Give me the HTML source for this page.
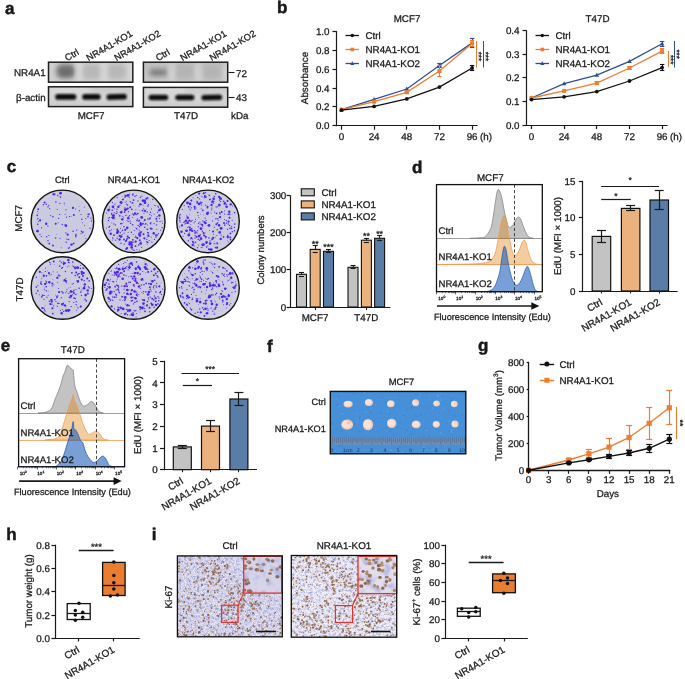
<!DOCTYPE html>
<html><head><meta charset="utf-8"><style>
html,body{margin:0;padding:0;background:#fff;}
text{stroke:#1a1a1a;stroke-width:0.28px;} text.c{stroke:none;} text.b{stroke:#111;stroke-width:0.45px;}
svg{display:block;will-change:transform;text-rendering:geometricPrecision;font-family:"Liberation Sans", sans-serif;}
</style></head><body>
<svg width="685" height="679" viewBox="0 0 685 679" fill="#1a1a1a">
<defs>
<filter id="bl1" x="-50%" y="-50%" width="200%" height="200%"><feGaussianBlur stdDeviation="0.9"/></filter>
<filter id="bl3" x="-50%" y="-50%" width="200%" height="200%"><feGaussianBlur stdDeviation="2.5"/></filter>
<filter id="bl05" x="-20%" y="-20%" width="140%" height="140%"><feGaussianBlur stdDeviation="0.45"/></filter>
</defs>
<rect width="685" height="679" fill="#fff"/>
<text x="5.0" y="14.0" font-size="17" font-weight="bold" class="b">a</text>
<linearGradient id="gbl" x1="0" y1="0" x2="0" y2="1"><stop offset="0" stop-color="#c9c9c9"/><stop offset="0.5" stop-color="#d6d6d6"/><stop offset="1" stop-color="#cbcbcb"/></linearGradient>
<clipPath id="cpa0"><rect x="48.5" y="62.2" width="84.3" height="20"/></clipPath>
<rect x="48.5" y="62.2" width="84.3" height="20" fill="#cfcfcf"/>
<g clip-path="url(#cpa0)"><rect x="56.8" y="64" width="18" height="14" rx="5" fill="#6a6a6a" filter="url(#bl3)" opacity="0.75"/><rect x="57.8" y="67" width="16" height="10" rx="4" fill="#555" filter="url(#bl3)" opacity="0.5"/><rect x="82.5" y="64" width="18" height="15" rx="5" fill="#a8a8a8" filter="url(#bl3)" opacity="0.6"/><rect x="107.6" y="64" width="18" height="15" rx="5" fill="#a8a8a8" filter="url(#bl3)" opacity="0.6"/><rect x="76.15" y="62" width="5" height="20" fill="#dedede" filter="url(#bl3)" opacity="0.7"/><rect x="101.55" y="62" width="5" height="20" fill="#dedede" filter="url(#bl3)" opacity="0.7"/><rect x="128.8" y="62" width="5" height="20" fill="#e0e0e0" filter="url(#bl3)" opacity="0.7"/></g>
<rect x="48.5" y="62.2" width="84.3" height="20" fill="none" stroke="#1e1e1e" stroke-width="1.5"/>
<clipPath id="cpb0"><rect x="48.5" y="86.8" width="84.3" height="19.8"/></clipPath>
<rect x="48.5" y="86.8" width="84.3" height="19.8" fill="url(#gbl)"/>
<g clip-path="url(#cpb0)"><rect x="48.5" y="86" width="42.15" height="8" fill="#e2e2e2" filter="url(#bl3)" opacity="0.6"/><rect x="55.2" y="94.1" width="21.099999999999994" height="5.6" rx="2.8" fill="#0c0c0c" filter="url(#bl1)" transform="rotate(0 65.75 96.8)"/><rect x="82.2" y="94.1" width="18.39999999999999" height="5.6" rx="2.8" fill="#0c0c0c" filter="url(#bl1)" transform="rotate(0 91.4 96.8)"/><rect x="106.5" y="94.1" width="20.400000000000006" height="5.6" rx="2.8" fill="#0c0c0c" filter="url(#bl1)" transform="rotate(-1.7999999999999998 116.7 96.8)"/></g>
<rect x="48.5" y="86.8" width="84.3" height="19.8" fill="none" stroke="#1e1e1e" stroke-width="1.5"/>
<text x="67.1" y="61.3" font-size="9.3" transform="rotate(-30 67.1 61.3)">Ctrl</text>
<text x="88.6" y="61.3" font-size="9.3" transform="rotate(-30 88.6 61.3)">NR4A1-KO1</text>
<text x="116.6" y="61.3" font-size="9.3" transform="rotate(-30 116.6 61.3)">NR4A1-KO2</text>
<clipPath id="cpa1"><rect x="143.4" y="62.2" width="84.3" height="20"/></clipPath>
<rect x="143.4" y="62.2" width="84.3" height="20" fill="#c4c4c4"/>
<g clip-path="url(#cpa1)"><rect x="143.4" y="62" width="84.3" height="6" fill="#b8b8b8" filter="url(#bl3)" opacity="0.6"/><rect x="149.4" y="69.5" width="18" height="6" rx="3" fill="#5a5a5a" filter="url(#bl3)" opacity="0.75"/><rect x="175.9" y="66" width="18" height="13" rx="5" fill="#a9a9a9" filter="url(#bl3)" opacity="0.6"/><rect x="202.8" y="66" width="18" height="13" rx="5" fill="#a9a9a9" filter="url(#bl3)" opacity="0.6"/><rect x="169.15" y="62" width="5" height="20" fill="#dedede" filter="url(#bl3)" opacity="0.7"/><rect x="195.85000000000002" y="62" width="5" height="20" fill="#dedede" filter="url(#bl3)" opacity="0.7"/><rect x="223.7" y="62" width="5" height="20" fill="#e0e0e0" filter="url(#bl3)" opacity="0.7"/></g>
<rect x="143.4" y="62.2" width="84.3" height="20" fill="none" stroke="#1e1e1e" stroke-width="1.5"/>
<clipPath id="cpb1"><rect x="143.4" y="87.4" width="84.3" height="19.8"/></clipPath>
<rect x="143.4" y="87.4" width="84.3" height="19.8" fill="url(#gbl)"/>
<g clip-path="url(#cpb1)"><rect x="143.4" y="86" width="42.15" height="8" fill="#e2e2e2" filter="url(#bl3)" opacity="0.6"/><rect x="148.6" y="94.7" width="19.599999999999994" height="5.6" rx="2.8" fill="#0c0c0c" filter="url(#bl1)" transform="rotate(0 158.39999999999998 97.4)"/><rect x="175.3" y="94.7" width="19.099999999999994" height="5.6" rx="2.8" fill="#0c0c0c" filter="url(#bl1)" transform="rotate(0 184.85000000000002 97.4)"/><rect x="201.4" y="94.7" width="20.799999999999983" height="5.6" rx="2.8" fill="#0c0c0c" filter="url(#bl1)" transform="rotate(-1.2000000000000002 211.8 97.4)"/></g>
<rect x="143.4" y="87.4" width="84.3" height="19.8" fill="none" stroke="#1e1e1e" stroke-width="1.5"/>
<text x="158.0" y="61.3" font-size="9.3" transform="rotate(-30 158 61.3)">Ctrl</text>
<text x="182.6" y="61.3" font-size="9.3" transform="rotate(-30 182.6 61.3)">NR4A1-KO1</text>
<text x="211.8" y="61.3" font-size="9.3" transform="rotate(-30 211.8 61.3)">NR4A1-KO2</text>
<text x="14.0" y="76.0" font-size="9.8">NR4A1</text>
<text x="16.0" y="100.5" font-size="9.8">β-actin</text>
<text x="91.0" y="119.0" font-size="9.8" text-anchor="middle">MCF7</text>
<text x="186.0" y="119.0" font-size="9.8" text-anchor="middle">T47D</text>
<text x="231.0" y="119.0" font-size="9.8">kDa</text>
<line x1="228.5" y1="72.5" x2="234.5" y2="72.5" stroke="#1a1a1a" stroke-width="1.1"/>
<line x1="228.5" y1="97.5" x2="234.5" y2="97.5" stroke="#1a1a1a" stroke-width="1.1"/>
<text x="236.0" y="76.5" font-size="9.8">72</text>
<text x="236.0" y="101.0" font-size="9.8">43</text>
<text x="277.0" y="13.0" font-size="17" font-weight="bold" class="b">b</text>
<line x1="336.5" y1="31.1" x2="336.5" y2="126.3" stroke="#1a1a1a" stroke-width="1.2"/>
<line x1="335.9" y1="125.5" x2="477.6" y2="125.5" stroke="#1a1a1a" stroke-width="1.2"/>
<line x1="332.5" y1="125.5" x2="336.5" y2="125.5" stroke="#1a1a1a" stroke-width="1.2"/>
<text x="329.5" y="129.2" font-size="9.8" text-anchor="end">0.0</text>
<line x1="332.5" y1="106.5" x2="336.5" y2="106.5" stroke="#1a1a1a" stroke-width="1.2"/>
<text x="329.5" y="110.4" font-size="9.8" text-anchor="end">0.2</text>
<line x1="332.5" y1="88.5" x2="336.5" y2="88.5" stroke="#1a1a1a" stroke-width="1.2"/>
<text x="329.5" y="91.6" font-size="9.8" text-anchor="end">0.4</text>
<line x1="332.5" y1="69.5" x2="336.5" y2="69.5" stroke="#1a1a1a" stroke-width="1.2"/>
<text x="329.5" y="72.7" font-size="9.8" text-anchor="end">0.6</text>
<line x1="332.5" y1="50.5" x2="336.5" y2="50.5" stroke="#1a1a1a" stroke-width="1.2"/>
<text x="329.5" y="53.9" font-size="9.8" text-anchor="end">0.8</text>
<line x1="332.5" y1="31.5" x2="336.5" y2="31.5" stroke="#1a1a1a" stroke-width="1.2"/>
<text x="329.5" y="35.1" font-size="9.8" text-anchor="end">1.0</text>
<line x1="341.5" y1="125.7" x2="341.5" y2="129.7" stroke="#1a1a1a" stroke-width="1.2"/>
<text x="341.5" y="140.2" font-size="9.8" text-anchor="middle">0</text>
<line x1="374.5" y1="125.7" x2="374.5" y2="129.7" stroke="#1a1a1a" stroke-width="1.2"/>
<text x="374.1" y="140.2" font-size="9.8" text-anchor="middle">24</text>
<line x1="406.5" y1="125.7" x2="406.5" y2="129.7" stroke="#1a1a1a" stroke-width="1.2"/>
<text x="406.8" y="140.2" font-size="9.8" text-anchor="middle">48</text>
<line x1="439.5" y1="125.7" x2="439.5" y2="129.7" stroke="#1a1a1a" stroke-width="1.2"/>
<text x="439.4" y="140.2" font-size="9.8" text-anchor="middle">72</text>
<line x1="472.5" y1="125.7" x2="472.5" y2="129.7" stroke="#1a1a1a" stroke-width="1.2"/>
<text x="472.1" y="140.2" font-size="9.8" text-anchor="middle">96</text>
<text x="480.1" y="140.2" font-size="9.8">(h)</text>
<text x="407.0" y="22.0" font-size="9.8" text-anchor="middle">MCF7</text>
<polyline points="341.5,109.7 374.1,99.4 406.8,89.0 439.4,65.5 472.1,42.9" fill="none" stroke="#2E4E9B" stroke-width="1.3"/>
<path d="M341.5,107.3 L343.8,111.3 L339.2,111.3Z" fill="#2E4E9B"/>
<path d="M374.1,97.0 L376.4,101.0 L371.8,101.0Z" fill="#2E4E9B"/>
<path d="M406.8,86.6 L409.1,90.6 L404.5,90.6Z" fill="#2E4E9B"/>
<line x1="439.5" y1="63.6" x2="439.5" y2="67.4" stroke="#2E4E9B" stroke-width="1.1"/>
<line x1="437.2" y1="63.5" x2="441.6" y2="63.5" stroke="#2E4E9B" stroke-width="1.1"/>
<line x1="437.2" y1="67.5" x2="441.6" y2="67.5" stroke="#2E4E9B" stroke-width="1.1"/>
<path d="M439.4,63.1 L441.8,67.1 L437.1,67.1Z" fill="#2E4E9B"/>
<line x1="472.5" y1="38.7" x2="472.5" y2="47.1" stroke="#2E4E9B" stroke-width="1.1"/>
<line x1="469.9" y1="38.5" x2="474.3" y2="38.5" stroke="#2E4E9B" stroke-width="1.1"/>
<line x1="469.9" y1="47.5" x2="474.3" y2="47.5" stroke="#2E4E9B" stroke-width="1.1"/>
<path d="M472.1,40.5 L474.4,44.5 L469.8,44.5Z" fill="#2E4E9B"/>
<polyline points="341.5,109.7 374.1,101.7 406.8,92.3 439.4,71.1 472.1,43.4" fill="none" stroke="#ED7D31" stroke-width="1.3"/>
<rect x="339.5" y="107.7" width="4.0" height="4.0" fill="#ED7D31" stroke="none" stroke-width="1"/>
<rect x="372.1" y="99.7" width="4.0" height="4.0" fill="#ED7D31" stroke="none" stroke-width="1"/>
<line x1="406.5" y1="91.4" x2="406.5" y2="93.2" stroke="#ED7D31" stroke-width="1.1"/>
<line x1="404.6" y1="91.5" x2="409.0" y2="91.5" stroke="#ED7D31" stroke-width="1.1"/>
<line x1="404.6" y1="93.5" x2="409.0" y2="93.5" stroke="#ED7D31" stroke-width="1.1"/>
<rect x="404.8" y="90.3" width="4.0" height="4.0" fill="#ED7D31" stroke="none" stroke-width="1"/>
<line x1="439.5" y1="65.5" x2="439.5" y2="76.8" stroke="#ED7D31" stroke-width="1.1"/>
<line x1="437.2" y1="65.5" x2="441.6" y2="65.5" stroke="#ED7D31" stroke-width="1.1"/>
<line x1="437.2" y1="76.5" x2="441.6" y2="76.5" stroke="#ED7D31" stroke-width="1.1"/>
<rect x="437.4" y="69.1" width="4.0" height="4.0" fill="#ED7D31" stroke="none" stroke-width="1"/>
<line x1="472.5" y1="40.5" x2="472.5" y2="46.2" stroke="#ED7D31" stroke-width="1.1"/>
<line x1="469.9" y1="40.5" x2="474.3" y2="40.5" stroke="#ED7D31" stroke-width="1.1"/>
<line x1="469.9" y1="46.5" x2="474.3" y2="46.5" stroke="#ED7D31" stroke-width="1.1"/>
<rect x="470.1" y="41.4" width="4.0" height="4.0" fill="#ED7D31" stroke="none" stroke-width="1"/>
<polyline points="341.5,110.2 374.1,106.4 406.8,98.9 439.4,87.1 472.1,68.0" fill="none" stroke="#111" stroke-width="1.3"/>
<circle cx="341.5" cy="110.2" r="1.90" fill="#111"/>
<circle cx="374.1" cy="106.4" r="1.90" fill="#111"/>
<circle cx="406.8" cy="98.9" r="1.90" fill="#111"/>
<circle cx="439.4" cy="87.1" r="1.90" fill="#111"/>
<line x1="472.5" y1="65.7" x2="472.5" y2="70.4" stroke="#111" stroke-width="1.1"/>
<line x1="469.9" y1="65.5" x2="474.3" y2="65.5" stroke="#111" stroke-width="1.1"/>
<line x1="469.9" y1="70.5" x2="474.3" y2="70.5" stroke="#111" stroke-width="1.1"/>
<circle cx="472.1" cy="68.0" r="1.90" fill="#111"/>
<line x1="345.5" y1="35.5" x2="359.0" y2="35.5" stroke="#111" stroke-width="1.3"/>
<circle cx="352.3" cy="35.5" r="1.71" fill="#111"/>
<text x="365.5" y="39.1" font-size="9.8">Ctrl</text>
<line x1="345.5" y1="49.5" x2="359.0" y2="49.5" stroke="#ED7D31" stroke-width="1.3"/>
<rect x="350.5" y="47.7" width="3.6" height="3.6" fill="#ED7D31" stroke="none" stroke-width="1"/>
<text x="365.5" y="53.1" font-size="9.8">NR4A1-KO1</text>
<line x1="345.5" y1="63.5" x2="359.0" y2="63.5" stroke="#2E4E9B" stroke-width="1.3"/>
<path d="M352.3,61.3 L354.4,64.9 L350.2,64.9Z" fill="#2E4E9B"/>
<text x="365.5" y="67.1" font-size="9.8">NR4A1-KO2</text>
<line x1="476.5" y1="41.0" x2="476.5" y2="67.6" stroke="#ED7D31" stroke-width="1"/>
<text x="476.0" y="56.4" font-size="8" text-anchor="middle" transform="rotate(90 476.0 56.4)">***</text>
<line x1="483.5" y1="41.0" x2="483.5" y2="67.6" stroke="#2E4E9B" stroke-width="1"/>
<text x="483.1" y="56.4" font-size="8" text-anchor="middle" transform="rotate(90 483.09999999999997 56.4)">***</text>
<line x1="526.5" y1="30.3" x2="526.5" y2="125.7" stroke="#1a1a1a" stroke-width="1.2"/>
<line x1="525.9" y1="125.5" x2="667.6" y2="125.5" stroke="#1a1a1a" stroke-width="1.2"/>
<line x1="522.5" y1="125.5" x2="526.5" y2="125.5" stroke="#1a1a1a" stroke-width="1.2"/>
<text x="519.5" y="128.6" font-size="9.8" text-anchor="end">0.0</text>
<line x1="522.5" y1="101.5" x2="526.5" y2="101.5" stroke="#1a1a1a" stroke-width="1.2"/>
<text x="519.5" y="105.0" font-size="9.8" text-anchor="end">0.1</text>
<line x1="522.5" y1="77.5" x2="526.5" y2="77.5" stroke="#1a1a1a" stroke-width="1.2"/>
<text x="519.5" y="81.4" font-size="9.8" text-anchor="end">0.2</text>
<line x1="522.5" y1="54.5" x2="526.5" y2="54.5" stroke="#1a1a1a" stroke-width="1.2"/>
<text x="519.5" y="57.9" font-size="9.8" text-anchor="end">0.3</text>
<line x1="522.5" y1="30.5" x2="526.5" y2="30.5" stroke="#1a1a1a" stroke-width="1.2"/>
<text x="519.5" y="34.3" font-size="9.8" text-anchor="end">0.4</text>
<line x1="531.5" y1="125.1" x2="531.5" y2="129.1" stroke="#1a1a1a" stroke-width="1.2"/>
<text x="531.5" y="139.6" font-size="9.8" text-anchor="middle">0</text>
<line x1="564.5" y1="125.1" x2="564.5" y2="129.1" stroke="#1a1a1a" stroke-width="1.2"/>
<text x="564.1" y="139.6" font-size="9.8" text-anchor="middle">24</text>
<line x1="596.5" y1="125.1" x2="596.5" y2="129.1" stroke="#1a1a1a" stroke-width="1.2"/>
<text x="596.8" y="139.6" font-size="9.8" text-anchor="middle">48</text>
<line x1="629.5" y1="125.1" x2="629.5" y2="129.1" stroke="#1a1a1a" stroke-width="1.2"/>
<text x="629.5" y="139.6" font-size="9.8" text-anchor="middle">72</text>
<line x1="662.5" y1="125.1" x2="662.5" y2="129.1" stroke="#1a1a1a" stroke-width="1.2"/>
<text x="662.1" y="139.6" font-size="9.8" text-anchor="middle">96</text>
<text x="670.1" y="139.6" font-size="9.8">(h)</text>
<text x="597.5" y="22.0" font-size="9.8" text-anchor="middle">T47D</text>
<polyline points="531.5,98.0 564.1,83.6 596.8,75.1 629.5,61.4 662.1,43.8" fill="none" stroke="#2E4E9B" stroke-width="1.3"/>
<path d="M531.5,95.6 L533.8,99.6 L529.2,99.6Z" fill="#2E4E9B"/>
<path d="M564.1,81.2 L566.4,85.2 L561.9,85.2Z" fill="#2E4E9B"/>
<path d="M596.8,72.7 L599.1,76.7 L594.5,76.7Z" fill="#2E4E9B"/>
<path d="M629.5,59.0 L631.8,63.0 L627.2,63.0Z" fill="#2E4E9B"/>
<line x1="662.5" y1="41.2" x2="662.5" y2="46.4" stroke="#2E4E9B" stroke-width="1.1"/>
<line x1="659.9" y1="41.5" x2="664.3" y2="41.5" stroke="#2E4E9B" stroke-width="1.1"/>
<line x1="659.9" y1="46.5" x2="664.3" y2="46.5" stroke="#2E4E9B" stroke-width="1.1"/>
<path d="M662.1,41.4 L664.4,45.4 L659.8,45.4Z" fill="#2E4E9B"/>
<polyline points="531.5,98.0 564.1,90.9 596.8,83.1 629.5,68.0 662.1,51.1" fill="none" stroke="#ED7D31" stroke-width="1.3"/>
<rect x="529.5" y="96.0" width="4.0" height="4.0" fill="#ED7D31" stroke="none" stroke-width="1"/>
<rect x="562.1" y="88.9" width="4.0" height="4.0" fill="#ED7D31" stroke="none" stroke-width="1"/>
<line x1="596.5" y1="81.5" x2="596.5" y2="84.8" stroke="#ED7D31" stroke-width="1.1"/>
<line x1="594.6" y1="81.5" x2="599.0" y2="81.5" stroke="#ED7D31" stroke-width="1.1"/>
<line x1="594.6" y1="84.5" x2="599.0" y2="84.5" stroke="#ED7D31" stroke-width="1.1"/>
<rect x="594.8" y="81.1" width="4.0" height="4.0" fill="#ED7D31" stroke="none" stroke-width="1"/>
<line x1="629.5" y1="66.2" x2="629.5" y2="69.9" stroke="#ED7D31" stroke-width="1.1"/>
<line x1="627.2" y1="66.5" x2="631.7" y2="66.5" stroke="#ED7D31" stroke-width="1.1"/>
<line x1="627.2" y1="69.5" x2="631.7" y2="69.5" stroke="#ED7D31" stroke-width="1.1"/>
<rect x="627.5" y="66.0" width="4.0" height="4.0" fill="#ED7D31" stroke="none" stroke-width="1"/>
<line x1="662.5" y1="48.7" x2="662.5" y2="53.4" stroke="#ED7D31" stroke-width="1.1"/>
<line x1="659.9" y1="48.5" x2="664.3" y2="48.5" stroke="#ED7D31" stroke-width="1.1"/>
<line x1="659.9" y1="53.5" x2="664.3" y2="53.5" stroke="#ED7D31" stroke-width="1.1"/>
<rect x="660.1" y="49.1" width="4.0" height="4.0" fill="#ED7D31" stroke="none" stroke-width="1"/>
<polyline points="531.5,99.6 564.1,96.8 596.8,91.6 629.5,81.0 662.1,67.6" fill="none" stroke="#111" stroke-width="1.3"/>
<circle cx="531.5" cy="99.6" r="1.90" fill="#111"/>
<circle cx="564.1" cy="96.8" r="1.90" fill="#111"/>
<circle cx="596.8" cy="91.6" r="1.90" fill="#111"/>
<circle cx="629.5" cy="81.0" r="1.90" fill="#111"/>
<line x1="662.5" y1="64.7" x2="662.5" y2="70.4" stroke="#111" stroke-width="1.1"/>
<line x1="659.9" y1="64.5" x2="664.3" y2="64.5" stroke="#111" stroke-width="1.1"/>
<line x1="659.9" y1="70.5" x2="664.3" y2="70.5" stroke="#111" stroke-width="1.1"/>
<circle cx="662.1" cy="67.6" r="1.90" fill="#111"/>
<line x1="535.5" y1="35.5" x2="549.0" y2="35.5" stroke="#111" stroke-width="1.3"/>
<circle cx="542.3" cy="35.5" r="1.71" fill="#111"/>
<text x="555.5" y="39.1" font-size="9.8">Ctrl</text>
<line x1="535.5" y1="49.5" x2="549.0" y2="49.5" stroke="#ED7D31" stroke-width="1.3"/>
<rect x="540.5" y="47.7" width="3.6" height="3.6" fill="#ED7D31" stroke="none" stroke-width="1"/>
<text x="555.5" y="53.1" font-size="9.8">NR4A1-KO1</text>
<line x1="535.5" y1="63.5" x2="549.0" y2="63.5" stroke="#2E4E9B" stroke-width="1.3"/>
<path d="M542.3,61.3 L544.4,64.9 L540.2,64.9Z" fill="#2E4E9B"/>
<text x="555.5" y="67.1" font-size="9.8">NR4A1-KO2</text>
<line x1="668.5" y1="51.0" x2="668.5" y2="67.2" stroke="#ED7D31" stroke-width="1"/>
<text x="667.8" y="59.6" font-size="8" text-anchor="middle" transform="rotate(90 667.8 59.6)">***</text>
<line x1="674.5" y1="41.0" x2="674.5" y2="67.6" stroke="#2E4E9B" stroke-width="1"/>
<text x="673.9" y="54.1" font-size="8" text-anchor="middle" transform="rotate(90 673.9 54.1)">***</text>
<text x="308.0" y="78.0" font-size="9.8" text-anchor="middle" transform="rotate(-90 308 78)">Absorbance</text>
<text x="6.7" y="172.4" font-size="17" font-weight="bold" class="b">c</text>
<text x="62.4" y="183.0" font-size="9.4" text-anchor="middle">Ctrl</text>
<text x="133.9" y="183.0" font-size="9.4" text-anchor="middle">NR4A1-KO1</text>
<text x="208.3" y="183.0" font-size="9.4" text-anchor="middle">NR4A1-KO2</text>
<text x="22.5" y="218.3" font-size="9.8" text-anchor="middle" transform="rotate(-90 22.5 218.3)">MCF7</text>
<text x="22.8" y="289.5" font-size="9.8" text-anchor="middle" transform="rotate(-90 22.8 289.5)">T47D</text>
<circle cx="62.4" cy="221.4" r="31.3" fill="#cbcbe0" stroke="#151515" stroke-width="1.4"/>
<circle cx="62.4" cy="221.4" r="28.3" fill="none" stroke="#d4d4e8" stroke-width="2.5" opacity="0.5"/>
<g fill="#5022f2"><circle cx="41.6" cy="227.8" r="0.6"/><circle cx="40.1" cy="220.3" r="1.1"/><circle cx="44.6" cy="202.5" r="1.0"/><circle cx="84.4" cy="235.5" r="0.4"/><circle cx="90.8" cy="218.2" r="0.6"/><circle cx="64.4" cy="224.4" r="0.4"/><circle cx="67.7" cy="234.7" r="1.1"/><circle cx="37.5" cy="231.1" r="0.7"/><circle cx="38.7" cy="221.4" r="0.5"/><circle cx="91.4" cy="221.0" r="0.7"/><circle cx="56.8" cy="234.2" r="0.4"/><circle cx="64.3" cy="203.1" r="0.6"/><circle cx="88.3" cy="214.4" r="0.9"/><circle cx="79.3" cy="210.7" r="0.6"/><circle cx="83.1" cy="231.6" r="0.5"/><circle cx="76.7" cy="230.1" r="0.7"/><circle cx="73.1" cy="231.2" r="0.8"/><circle cx="66.0" cy="209.7" r="0.6"/><circle cx="71.5" cy="244.6" r="1.2"/><circle cx="76.4" cy="234.0" r="0.5"/><circle cx="88.0" cy="216.7" r="0.8"/><circle cx="66.9" cy="239.1" r="0.7"/><circle cx="85.8" cy="238.5" r="0.5"/><circle cx="64.8" cy="204.9" r="0.4"/><circle cx="81.1" cy="233.3" r="0.6"/><circle cx="48.8" cy="235.5" r="0.6"/><circle cx="38.2" cy="209.2" r="0.9"/><circle cx="84.5" cy="207.1" r="0.5"/><circle cx="60.5" cy="193.2" r="1.4"/><circle cx="79.1" cy="206.2" r="0.4"/><circle cx="90.1" cy="228.3" r="0.7"/><circle cx="61.2" cy="247.8" r="0.5"/><circle cx="73.6" cy="243.4" r="0.9"/><circle cx="37.4" cy="211.6" r="0.5"/><circle cx="73.8" cy="214.9" r="1.0"/><circle cx="55.7" cy="223.8" r="1.0"/><circle cx="52.9" cy="216.8" r="0.8"/><circle cx="85.8" cy="218.5" r="0.6"/><circle cx="65.9" cy="225.6" r="1.3"/><circle cx="53.7" cy="194.2" r="1.2"/><circle cx="37.7" cy="224.2" r="0.8"/><circle cx="81.5" cy="231.2" r="0.8"/><circle cx="60.4" cy="197.1" r="0.8"/><circle cx="48.0" cy="240.7" r="0.7"/><circle cx="40.0" cy="234.3" r="0.6"/><circle cx="49.7" cy="208.7" r="0.6"/><circle cx="82.8" cy="232.6" r="0.8"/><circle cx="59.9" cy="203.4" r="0.6"/><circle cx="37.6" cy="231.1" r="1.3"/><circle cx="84.6" cy="225.6" r="0.5"/><circle cx="55.9" cy="202.0" r="0.8"/><circle cx="62.3" cy="224.5" r="0.7"/><circle cx="65.9" cy="232.9" r="0.7"/><circle cx="36.7" cy="231.2" r="0.7"/><circle cx="68.5" cy="239.5" r="0.8"/><circle cx="75.6" cy="209.1" r="0.5"/><circle cx="75.8" cy="236.9" r="0.7"/><circle cx="55.6" cy="193.9" r="0.5"/><circle cx="47.9" cy="226.1" r="0.6"/><circle cx="48.0" cy="206.9" r="0.7"/><circle cx="81.8" cy="219.2" r="0.8"/><circle cx="66.5" cy="217.2" r="0.6"/><circle cx="53.0" cy="245.5" r="0.9"/><circle cx="58.0" cy="222.7" r="0.5"/><circle cx="66.4" cy="226.3" r="0.6"/><circle cx="46.3" cy="204.2" r="0.8"/><circle cx="57.2" cy="209.5" r="0.5"/><circle cx="82.4" cy="222.8" r="0.5"/><circle cx="60.0" cy="238.3" r="0.6"/><circle cx="43.4" cy="204.7" r="0.7"/><circle cx="69.5" cy="216.6" r="0.7"/><circle cx="75.8" cy="235.7" r="0.8"/><circle cx="46.7" cy="236.7" r="0.7"/><circle cx="81.0" cy="214.6" r="0.5"/><circle cx="57.8" cy="195.5" r="0.7"/><circle cx="68.7" cy="248.3" r="0.8"/><circle cx="37.2" cy="215.4" r="0.8"/><circle cx="73.0" cy="207.9" r="1.1"/><circle cx="38.2" cy="213.5" r="0.4"/><circle cx="65.1" cy="214.5" r="0.5"/><circle cx="49.3" cy="243.6" r="0.9"/><circle cx="37.8" cy="218.8" r="0.7"/><circle cx="81.6" cy="214.6" r="0.4"/><circle cx="66.2" cy="242.2" r="0.7"/><circle cx="48.9" cy="205.3" r="0.6"/><circle cx="55.6" cy="238.0" r="0.8"/><circle cx="69.4" cy="247.3" r="0.6"/><circle cx="50.7" cy="215.6" r="0.6"/><circle cx="58.6" cy="218.4" r="0.6"/><circle cx="41.3" cy="236.6" r="0.6"/><circle cx="59.7" cy="214.4" r="0.6"/><circle cx="89.3" cy="213.9" r="0.6"/><circle cx="75.8" cy="235.1" r="0.8"/><circle cx="46.2" cy="223.8" r="1.2"/><circle cx="71.7" cy="216.7" r="0.4"/></g>
<circle cx="133.7" cy="221.4" r="31.3" fill="#cbcbe0" stroke="#151515" stroke-width="1.4"/>
<circle cx="133.7" cy="221.4" r="28.3" fill="none" stroke="#d4d4e8" stroke-width="2.5" opacity="0.5"/>
<g fill="#5022f2"><circle cx="138.5" cy="234.4" r="0.5"/><circle cx="119.6" cy="239.5" r="1.2"/><circle cx="148.6" cy="235.9" r="0.9"/><circle cx="114.8" cy="217.8" r="0.6"/><circle cx="122.3" cy="219.3" r="1.2"/><circle cx="120.0" cy="205.2" r="0.6"/><circle cx="142.4" cy="210.4" r="0.7"/><circle cx="147.1" cy="212.0" r="0.8"/><circle cx="139.5" cy="249.9" r="0.5"/><circle cx="135.4" cy="246.1" r="0.9"/><circle cx="143.0" cy="205.0" r="0.5"/><circle cx="114.0" cy="235.2" r="0.9"/><circle cx="122.2" cy="196.1" r="0.4"/><circle cx="108.4" cy="220.5" r="0.7"/><circle cx="136.6" cy="228.6" r="0.8"/><circle cx="113.9" cy="214.7" r="0.5"/><circle cx="139.0" cy="233.4" r="0.8"/><circle cx="141.7" cy="217.4" r="1.4"/><circle cx="109.0" cy="227.4" r="0.6"/><circle cx="114.7" cy="219.6" r="0.4"/><circle cx="125.6" cy="195.9" r="1.1"/><circle cx="132.5" cy="202.9" r="0.9"/><circle cx="130.1" cy="221.1" r="0.7"/><circle cx="126.1" cy="195.5" r="0.6"/><circle cx="117.0" cy="209.3" r="0.7"/><circle cx="132.3" cy="249.1" r="0.7"/><circle cx="141.0" cy="204.4" r="0.8"/><circle cx="125.0" cy="197.4" r="0.6"/><circle cx="132.4" cy="213.8" r="0.6"/><circle cx="151.0" cy="222.6" r="0.6"/><circle cx="136.9" cy="249.5" r="0.5"/><circle cx="121.9" cy="202.9" r="0.6"/><circle cx="157.0" cy="221.4" r="0.7"/><circle cx="138.1" cy="220.9" r="0.7"/><circle cx="132.9" cy="239.8" r="0.9"/><circle cx="127.2" cy="227.8" r="1.3"/><circle cx="114.0" cy="215.0" r="0.6"/><circle cx="156.9" cy="220.7" r="0.4"/><circle cx="113.0" cy="206.8" r="1.4"/><circle cx="144.4" cy="238.3" r="1.1"/><circle cx="128.3" cy="216.9" r="0.6"/><circle cx="111.5" cy="217.6" r="0.5"/><circle cx="121.5" cy="203.4" r="0.7"/><circle cx="132.7" cy="224.7" r="0.8"/><circle cx="147.7" cy="242.4" r="0.8"/><circle cx="133.6" cy="214.9" r="0.8"/><circle cx="158.5" cy="233.7" r="0.6"/><circle cx="147.9" cy="219.0" r="0.8"/><circle cx="130.3" cy="201.8" r="0.7"/><circle cx="125.8" cy="215.4" r="0.6"/><circle cx="135.6" cy="227.8" r="0.4"/><circle cx="111.4" cy="229.8" r="0.5"/><circle cx="117.3" cy="212.1" r="0.6"/><circle cx="162.1" cy="221.0" r="0.5"/><circle cx="154.5" cy="239.4" r="0.6"/><circle cx="124.1" cy="233.1" r="0.6"/><circle cx="114.3" cy="208.8" r="0.5"/><circle cx="133.9" cy="250.2" r="0.8"/><circle cx="140.7" cy="223.2" r="1.1"/><circle cx="127.0" cy="214.9" r="0.4"/><circle cx="154.2" cy="233.8" r="0.7"/><circle cx="119.6" cy="235.8" r="1.0"/><circle cx="132.8" cy="194.8" r="0.9"/><circle cx="142.1" cy="200.0" r="0.5"/><circle cx="120.6" cy="228.2" r="0.5"/><circle cx="117.2" cy="197.6" r="0.6"/><circle cx="133.0" cy="193.5" r="0.5"/><circle cx="156.0" cy="237.0" r="0.8"/><circle cx="115.1" cy="213.4" r="0.5"/><circle cx="135.0" cy="213.5" r="1.2"/><circle cx="147.7" cy="229.3" r="0.7"/><circle cx="131.4" cy="232.2" r="0.7"/><circle cx="127.0" cy="228.8" r="0.6"/><circle cx="158.3" cy="207.6" r="0.6"/><circle cx="139.0" cy="206.2" r="0.6"/><circle cx="158.9" cy="210.4" r="1.0"/><circle cx="122.1" cy="234.5" r="0.6"/><circle cx="141.1" cy="242.0" r="0.6"/><circle cx="145.0" cy="202.7" r="1.3"/><circle cx="145.0" cy="210.9" r="1.1"/><circle cx="112.6" cy="215.4" r="0.7"/><circle cx="136.2" cy="214.5" r="0.7"/><circle cx="140.9" cy="225.6" r="0.8"/><circle cx="153.7" cy="233.2" r="1.2"/><circle cx="125.2" cy="209.8" r="1.3"/><circle cx="108.5" cy="218.0" r="0.5"/><circle cx="157.1" cy="216.7" r="0.6"/><circle cx="129.3" cy="197.3" r="0.6"/><circle cx="144.7" cy="200.3" r="0.7"/><circle cx="147.5" cy="197.7" r="0.7"/><circle cx="109.5" cy="217.7" r="0.6"/><circle cx="123.9" cy="226.7" r="0.8"/><circle cx="125.2" cy="229.8" r="1.1"/><circle cx="126.2" cy="249.1" r="1.0"/><circle cx="151.3" cy="236.9" r="0.5"/><circle cx="151.9" cy="228.9" r="0.8"/><circle cx="143.0" cy="223.6" r="0.9"/><circle cx="136.0" cy="245.9" r="0.5"/><circle cx="139.8" cy="235.6" r="1.3"/><circle cx="125.6" cy="241.3" r="0.6"/><circle cx="131.9" cy="248.8" r="0.5"/><circle cx="106.5" cy="213.1" r="0.5"/><circle cx="160.7" cy="230.1" r="0.6"/><circle cx="113.1" cy="217.8" r="1.4"/><circle cx="125.9" cy="209.5" r="1.1"/><circle cx="115.7" cy="240.2" r="0.6"/><circle cx="140.0" cy="231.0" r="0.5"/><circle cx="147.9" cy="206.1" r="0.8"/><circle cx="131.5" cy="242.6" r="1.3"/><circle cx="160.1" cy="221.6" r="0.7"/><circle cx="146.8" cy="228.9" r="0.4"/><circle cx="113.9" cy="223.9" r="0.6"/><circle cx="143.7" cy="208.9" r="0.6"/><circle cx="141.3" cy="217.0" r="0.5"/><circle cx="113.4" cy="215.7" r="1.3"/><circle cx="127.6" cy="236.4" r="1.0"/><circle cx="109.6" cy="226.4" r="0.7"/><circle cx="148.1" cy="232.7" r="0.8"/><circle cx="145.0" cy="200.8" r="1.0"/><circle cx="130.2" cy="207.7" r="0.6"/><circle cx="162.6" cy="223.3" r="0.5"/><circle cx="122.0" cy="211.0" r="0.6"/><circle cx="128.7" cy="237.5" r="0.7"/><circle cx="133.2" cy="234.4" r="0.5"/><circle cx="154.2" cy="214.0" r="0.5"/><circle cx="137.8" cy="213.6" r="0.9"/><circle cx="123.0" cy="199.4" r="1.0"/><circle cx="145.3" cy="202.3" r="0.9"/><circle cx="139.4" cy="230.0" r="0.4"/><circle cx="150.4" cy="212.3" r="0.7"/><circle cx="136.5" cy="195.2" r="0.5"/><circle cx="130.6" cy="223.3" r="0.7"/><circle cx="159.4" cy="218.5" r="0.6"/><circle cx="150.3" cy="223.3" r="0.7"/><circle cx="147.7" cy="232.5" r="0.7"/><circle cx="144.1" cy="201.1" r="1.3"/><circle cx="151.4" cy="209.1" r="0.6"/><circle cx="149.2" cy="240.5" r="0.6"/><circle cx="128.0" cy="195.4" r="1.4"/><circle cx="124.7" cy="212.1" r="0.9"/><circle cx="112.2" cy="210.2" r="0.8"/><circle cx="121.0" cy="236.6" r="1.4"/><circle cx="151.9" cy="242.2" r="0.6"/><circle cx="119.8" cy="215.9" r="0.8"/><circle cx="143.0" cy="200.8" r="1.3"/><circle cx="127.1" cy="248.2" r="1.1"/><circle cx="139.8" cy="210.4" r="0.4"/><circle cx="145.8" cy="223.9" r="0.8"/><circle cx="124.9" cy="207.9" r="0.7"/><circle cx="117.2" cy="236.6" r="0.4"/><circle cx="139.9" cy="240.3" r="1.0"/><circle cx="122.7" cy="216.3" r="0.5"/><circle cx="118.4" cy="214.4" r="0.4"/><circle cx="128.4" cy="211.7" r="0.6"/><circle cx="115.4" cy="224.9" r="0.7"/><circle cx="135.0" cy="196.2" r="0.8"/><circle cx="147.9" cy="198.5" r="0.6"/><circle cx="108.4" cy="210.3" r="0.6"/><circle cx="108.5" cy="232.8" r="0.4"/><circle cx="129.5" cy="194.1" r="0.6"/><circle cx="133.9" cy="205.3" r="0.4"/><circle cx="147.5" cy="235.1" r="0.6"/><circle cx="156.7" cy="229.2" r="0.5"/><circle cx="127.4" cy="238.6" r="0.8"/><circle cx="158.0" cy="206.3" r="0.7"/><circle cx="110.7" cy="233.8" r="1.2"/><circle cx="108.4" cy="210.1" r="1.3"/><circle cx="148.9" cy="236.4" r="0.4"/><circle cx="134.3" cy="237.3" r="0.4"/><circle cx="154.5" cy="205.3" r="0.5"/><circle cx="128.3" cy="218.2" r="1.3"/><circle cx="126.4" cy="240.6" r="0.8"/><circle cx="120.7" cy="223.7" r="0.8"/><circle cx="144.0" cy="213.6" r="0.5"/><circle cx="121.8" cy="223.5" r="0.8"/><circle cx="140.6" cy="243.5" r="1.3"/><circle cx="142.7" cy="224.3" r="0.5"/><circle cx="155.7" cy="205.5" r="0.5"/><circle cx="124.3" cy="194.8" r="0.4"/><circle cx="136.4" cy="237.3" r="0.5"/><circle cx="139.6" cy="234.2" r="0.7"/><circle cx="117.2" cy="238.4" r="0.6"/><circle cx="135.8" cy="237.2" r="0.7"/><circle cx="129.8" cy="244.3" r="1.4"/><circle cx="114.0" cy="229.1" r="0.4"/><circle cx="121.1" cy="212.3" r="1.3"/><circle cx="147.0" cy="229.5" r="0.5"/><circle cx="129.8" cy="242.6" r="1.3"/><circle cx="139.0" cy="221.0" r="0.7"/><circle cx="112.7" cy="240.0" r="0.5"/><circle cx="111.8" cy="213.3" r="0.7"/><circle cx="138.0" cy="200.9" r="0.7"/><circle cx="125.3" cy="202.2" r="0.5"/><circle cx="135.9" cy="209.8" r="0.5"/><circle cx="109.9" cy="230.8" r="0.7"/><circle cx="135.5" cy="241.7" r="1.1"/><circle cx="128.2" cy="221.4" r="0.7"/><circle cx="109.3" cy="209.4" r="0.9"/><circle cx="154.1" cy="223.7" r="0.6"/><circle cx="131.6" cy="247.3" r="1.3"/><circle cx="114.2" cy="212.4" r="0.5"/><circle cx="143.5" cy="234.3" r="1.0"/><circle cx="118.4" cy="206.8" r="1.2"/><circle cx="156.1" cy="235.3" r="1.0"/><circle cx="146.7" cy="241.8" r="0.7"/><circle cx="151.0" cy="228.4" r="0.5"/><circle cx="139.6" cy="220.3" r="0.7"/><circle cx="144.7" cy="220.4" r="0.7"/><circle cx="147.5" cy="224.9" r="0.5"/><circle cx="121.3" cy="231.3" r="0.4"/><circle cx="162.1" cy="227.6" r="0.7"/><circle cx="135.5" cy="235.9" r="0.5"/><circle cx="106.4" cy="228.1" r="0.5"/><circle cx="156.3" cy="218.7" r="1.0"/><circle cx="129.6" cy="215.7" r="0.7"/><circle cx="148.4" cy="204.6" r="0.6"/><circle cx="112.8" cy="238.0" r="0.7"/><circle cx="137.4" cy="238.1" r="1.1"/><circle cx="140.5" cy="232.7" r="1.1"/><circle cx="126.7" cy="239.6" r="0.7"/><circle cx="142.3" cy="211.4" r="0.4"/><circle cx="127.4" cy="205.0" r="0.8"/><circle cx="139.9" cy="235.0" r="0.8"/><circle cx="130.4" cy="206.7" r="0.5"/><circle cx="149.8" cy="214.6" r="0.7"/><circle cx="137.2" cy="219.1" r="0.6"/><circle cx="157.4" cy="235.0" r="0.7"/><circle cx="126.9" cy="220.6" r="0.5"/><circle cx="144.6" cy="224.3" r="0.4"/><circle cx="126.5" cy="238.9" r="0.5"/><circle cx="129.7" cy="207.1" r="0.7"/><circle cx="141.6" cy="231.9" r="0.7"/><circle cx="118.7" cy="231.5" r="0.5"/><circle cx="129.2" cy="237.9" r="0.8"/><circle cx="156.5" cy="224.9" r="0.7"/><circle cx="149.4" cy="219.0" r="0.8"/><circle cx="138.8" cy="245.0" r="0.8"/><circle cx="143.2" cy="211.0" r="0.4"/><circle cx="117.3" cy="229.4" r="1.0"/><circle cx="124.0" cy="239.5" r="0.9"/><circle cx="117.3" cy="232.9" r="1.2"/><circle cx="134.3" cy="230.3" r="0.6"/><circle cx="146.7" cy="239.4" r="0.6"/><circle cx="132.3" cy="217.2" r="0.5"/><circle cx="150.8" cy="228.5" r="1.1"/><circle cx="116.6" cy="211.2" r="0.5"/><circle cx="150.7" cy="223.9" r="0.6"/><circle cx="131.9" cy="245.1" r="1.1"/><circle cx="112.4" cy="202.6" r="0.6"/><circle cx="157.6" cy="212.3" r="0.6"/><circle cx="117.8" cy="231.4" r="1.3"/><circle cx="146.8" cy="209.1" r="0.4"/><circle cx="147.3" cy="237.0" r="0.5"/><circle cx="144.8" cy="219.8" r="0.9"/><circle cx="127.7" cy="208.6" r="1.1"/><circle cx="122.5" cy="230.2" r="0.7"/><circle cx="111.7" cy="214.6" r="0.7"/><circle cx="150.2" cy="218.1" r="0.8"/><circle cx="124.2" cy="244.1" r="0.7"/><circle cx="159.4" cy="215.5" r="1.2"/><circle cx="111.9" cy="222.7" r="0.5"/><circle cx="133.6" cy="200.1" r="0.9"/><circle cx="128.1" cy="232.3" r="0.5"/><circle cx="140.7" cy="224.4" r="1.2"/><circle cx="148.5" cy="234.1" r="0.6"/><circle cx="147.8" cy="244.5" r="0.4"/><circle cx="133.2" cy="242.1" r="0.6"/><circle cx="130.6" cy="207.1" r="0.5"/><circle cx="121.0" cy="243.3" r="0.7"/><circle cx="116.5" cy="213.6" r="0.6"/><circle cx="146.4" cy="198.7" r="1.0"/><circle cx="126.9" cy="209.2" r="0.8"/><circle cx="109.5" cy="207.0" r="0.5"/><circle cx="126.5" cy="204.0" r="0.6"/><circle cx="160.1" cy="209.6" r="1.2"/><circle cx="138.1" cy="225.5" r="0.7"/><circle cx="143.8" cy="221.0" r="0.4"/><circle cx="114.2" cy="216.1" r="0.5"/><circle cx="142.0" cy="196.1" r="0.6"/><circle cx="114.9" cy="204.2" r="0.6"/><circle cx="126.3" cy="201.2" r="0.5"/><circle cx="138.0" cy="229.9" r="0.5"/><circle cx="123.6" cy="222.1" r="0.4"/><circle cx="123.6" cy="217.0" r="0.5"/><circle cx="136.5" cy="241.4" r="0.5"/><circle cx="140.7" cy="223.7" r="0.5"/><circle cx="144.7" cy="227.3" r="0.8"/><circle cx="141.7" cy="247.3" r="0.6"/><circle cx="140.1" cy="204.3" r="1.1"/><circle cx="121.0" cy="202.3" r="1.4"/><circle cx="152.8" cy="199.6" r="0.7"/><circle cx="131.8" cy="209.3" r="0.9"/><circle cx="139.5" cy="226.8" r="0.7"/><circle cx="126.0" cy="240.8" r="0.9"/><circle cx="136.7" cy="220.6" r="0.7"/><circle cx="140.3" cy="197.3" r="0.7"/><circle cx="145.7" cy="198.9" r="0.4"/><circle cx="151.3" cy="215.7" r="0.5"/><circle cx="137.5" cy="219.0" r="0.5"/><circle cx="120.2" cy="232.8" r="0.7"/></g>
<circle cx="208.0" cy="221.4" r="31.3" fill="#cbcbe0" stroke="#151515" stroke-width="1.4"/>
<circle cx="208.0" cy="221.4" r="28.3" fill="none" stroke="#d4d4e8" stroke-width="2.5" opacity="0.5"/>
<g fill="#5022f2"><circle cx="192.7" cy="238.9" r="0.5"/><circle cx="221.7" cy="212.1" r="1.0"/><circle cx="207.3" cy="208.0" r="0.6"/><circle cx="202.8" cy="210.3" r="0.9"/><circle cx="196.7" cy="236.8" r="1.1"/><circle cx="194.4" cy="230.8" r="0.8"/><circle cx="215.7" cy="247.6" r="0.7"/><circle cx="230.5" cy="239.6" r="0.8"/><circle cx="211.5" cy="239.7" r="0.5"/><circle cx="204.5" cy="245.1" r="0.5"/><circle cx="215.1" cy="237.3" r="0.5"/><circle cx="196.1" cy="208.0" r="0.5"/><circle cx="187.6" cy="203.1" r="0.7"/><circle cx="186.1" cy="220.7" r="1.3"/><circle cx="200.8" cy="203.2" r="0.6"/><circle cx="197.6" cy="230.7" r="0.6"/><circle cx="202.8" cy="220.9" r="0.6"/><circle cx="189.3" cy="209.0" r="0.5"/><circle cx="179.6" cy="227.1" r="0.5"/><circle cx="205.6" cy="192.6" r="0.7"/><circle cx="228.3" cy="242.1" r="0.5"/><circle cx="220.6" cy="201.6" r="0.7"/><circle cx="214.1" cy="201.5" r="0.4"/><circle cx="224.8" cy="203.5" r="1.3"/><circle cx="187.6" cy="227.5" r="0.5"/><circle cx="203.7" cy="244.3" r="1.1"/><circle cx="212.7" cy="201.6" r="1.3"/><circle cx="223.7" cy="201.2" r="0.8"/><circle cx="211.3" cy="210.5" r="0.4"/><circle cx="224.7" cy="225.3" r="0.7"/><circle cx="217.2" cy="229.7" r="0.7"/><circle cx="187.5" cy="202.9" r="1.4"/><circle cx="214.2" cy="243.6" r="0.7"/><circle cx="215.8" cy="243.9" r="0.4"/><circle cx="199.3" cy="235.2" r="0.5"/><circle cx="188.7" cy="206.8" r="0.9"/><circle cx="201.1" cy="202.8" r="0.9"/><circle cx="229.2" cy="213.2" r="0.5"/><circle cx="232.2" cy="220.6" r="0.5"/><circle cx="201.1" cy="238.7" r="1.2"/><circle cx="184.5" cy="233.4" r="0.6"/><circle cx="179.8" cy="220.2" r="0.7"/><circle cx="210.1" cy="243.5" r="1.3"/><circle cx="201.9" cy="247.6" r="0.6"/><circle cx="224.6" cy="214.1" r="0.6"/><circle cx="201.0" cy="223.7" r="0.5"/><circle cx="181.5" cy="231.7" r="1.2"/><circle cx="201.2" cy="208.7" r="0.5"/><circle cx="219.6" cy="212.5" r="0.5"/><circle cx="219.5" cy="197.2" r="0.6"/><circle cx="230.3" cy="237.5" r="1.0"/><circle cx="190.6" cy="239.0" r="0.5"/><circle cx="230.7" cy="204.4" r="1.2"/><circle cx="190.8" cy="224.8" r="0.5"/><circle cx="197.2" cy="201.5" r="0.8"/><circle cx="226.3" cy="220.6" r="0.7"/><circle cx="199.2" cy="193.7" r="1.1"/><circle cx="188.8" cy="235.1" r="1.4"/><circle cx="212.5" cy="238.5" r="1.0"/><circle cx="207.6" cy="213.0" r="1.2"/><circle cx="190.1" cy="203.9" r="1.3"/><circle cx="204.9" cy="196.0" r="1.1"/><circle cx="234.8" cy="224.1" r="0.8"/><circle cx="225.0" cy="224.0" r="0.6"/><circle cx="227.8" cy="238.0" r="0.6"/><circle cx="223.5" cy="236.9" r="0.9"/><circle cx="192.3" cy="220.2" r="0.5"/><circle cx="202.2" cy="224.9" r="1.1"/><circle cx="189.6" cy="214.4" r="0.4"/><circle cx="214.7" cy="212.1" r="0.6"/><circle cx="189.1" cy="234.0" r="0.8"/><circle cx="205.4" cy="223.0" r="1.3"/><circle cx="205.6" cy="197.0" r="1.1"/><circle cx="217.5" cy="223.1" r="0.8"/><circle cx="191.3" cy="200.4" r="1.0"/><circle cx="221.1" cy="228.4" r="1.4"/><circle cx="198.3" cy="239.3" r="0.8"/><circle cx="228.7" cy="214.2" r="0.8"/><circle cx="195.5" cy="231.2" r="0.5"/><circle cx="195.1" cy="235.5" r="0.5"/><circle cx="190.3" cy="229.7" r="1.3"/><circle cx="227.6" cy="229.4" r="0.6"/><circle cx="209.6" cy="230.4" r="0.5"/><circle cx="194.1" cy="222.8" r="0.6"/><circle cx="226.5" cy="222.4" r="0.4"/><circle cx="184.2" cy="205.6" r="0.6"/><circle cx="197.1" cy="233.1" r="0.6"/><circle cx="199.8" cy="240.2" r="0.7"/><circle cx="216.4" cy="224.3" r="1.0"/><circle cx="213.4" cy="203.2" r="0.6"/><circle cx="202.7" cy="244.8" r="1.4"/><circle cx="216.2" cy="206.9" r="0.7"/><circle cx="213.6" cy="198.8" r="1.3"/><circle cx="230.0" cy="228.2" r="0.8"/><circle cx="205.2" cy="218.1" r="0.7"/><circle cx="206.1" cy="220.4" r="0.6"/><circle cx="195.7" cy="195.3" r="0.4"/><circle cx="211.8" cy="202.5" r="0.6"/><circle cx="189.8" cy="227.6" r="1.0"/><circle cx="207.3" cy="213.7" r="1.3"/><circle cx="197.2" cy="202.8" r="0.9"/><circle cx="197.5" cy="247.8" r="0.8"/><circle cx="212.5" cy="239.6" r="0.7"/><circle cx="227.4" cy="240.4" r="0.4"/><circle cx="191.7" cy="228.8" r="0.8"/><circle cx="183.9" cy="222.4" r="0.7"/><circle cx="227.8" cy="236.8" r="1.2"/><circle cx="213.1" cy="237.8" r="1.0"/><circle cx="190.4" cy="210.0" r="0.6"/><circle cx="217.5" cy="206.8" r="0.6"/><circle cx="224.5" cy="219.4" r="0.5"/><circle cx="206.2" cy="246.2" r="0.5"/><circle cx="232.3" cy="231.8" r="0.7"/><circle cx="187.1" cy="230.8" r="0.8"/><circle cx="224.6" cy="210.8" r="0.5"/><circle cx="208.2" cy="212.1" r="0.7"/><circle cx="231.7" cy="226.7" r="0.6"/><circle cx="202.4" cy="231.2" r="0.7"/><circle cx="211.1" cy="212.9" r="0.5"/><circle cx="214.7" cy="241.6" r="0.4"/><circle cx="210.1" cy="199.3" r="0.8"/><circle cx="201.5" cy="205.1" r="0.7"/><circle cx="201.2" cy="247.5" r="0.5"/><circle cx="208.0" cy="225.5" r="0.5"/><circle cx="204.1" cy="235.5" r="1.1"/><circle cx="205.8" cy="236.8" r="1.1"/><circle cx="216.2" cy="213.1" r="0.7"/><circle cx="191.4" cy="207.8" r="0.6"/><circle cx="193.0" cy="197.8" r="0.5"/><circle cx="234.5" cy="230.8" r="0.7"/><circle cx="210.0" cy="240.9" r="0.7"/><circle cx="227.4" cy="214.2" r="0.5"/><circle cx="211.2" cy="249.6" r="1.4"/><circle cx="203.7" cy="214.9" r="0.4"/><circle cx="198.8" cy="217.4" r="0.5"/><circle cx="213.0" cy="216.2" r="0.4"/><circle cx="229.6" cy="225.5" r="0.7"/><circle cx="223.8" cy="201.1" r="0.4"/><circle cx="195.7" cy="219.3" r="0.5"/><circle cx="195.1" cy="221.5" r="0.6"/><circle cx="199.9" cy="222.1" r="0.6"/><circle cx="229.5" cy="217.7" r="1.0"/><circle cx="195.5" cy="242.3" r="0.8"/><circle cx="234.6" cy="212.7" r="0.8"/><circle cx="228.2" cy="224.0" r="0.7"/><circle cx="190.7" cy="206.6" r="0.4"/><circle cx="179.7" cy="218.0" r="0.9"/><circle cx="227.4" cy="200.5" r="0.8"/><circle cx="219.6" cy="200.2" r="0.6"/><circle cx="209.2" cy="195.3" r="0.8"/><circle cx="215.9" cy="193.8" r="0.6"/><circle cx="199.2" cy="236.1" r="1.3"/><circle cx="206.3" cy="243.6" r="0.5"/><circle cx="199.1" cy="203.9" r="1.3"/><circle cx="213.1" cy="231.5" r="1.1"/><circle cx="211.5" cy="205.0" r="1.2"/><circle cx="206.6" cy="242.4" r="1.3"/><circle cx="213.6" cy="234.3" r="0.5"/><circle cx="204.5" cy="197.8" r="0.6"/><circle cx="230.4" cy="233.4" r="0.9"/><circle cx="183.1" cy="236.2" r="0.5"/><circle cx="232.5" cy="206.0" r="0.5"/><circle cx="214.3" cy="196.5" r="0.7"/><circle cx="196.7" cy="232.1" r="0.7"/><circle cx="182.0" cy="225.4" r="1.1"/><circle cx="202.6" cy="226.5" r="0.5"/><circle cx="215.5" cy="247.6" r="0.8"/><circle cx="192.7" cy="244.9" r="1.2"/><circle cx="220.0" cy="217.1" r="1.2"/><circle cx="226.3" cy="204.7" r="0.6"/><circle cx="201.0" cy="228.7" r="1.4"/><circle cx="219.3" cy="226.8" r="0.4"/><circle cx="203.6" cy="233.1" r="1.1"/><circle cx="186.8" cy="215.9" r="0.6"/><circle cx="215.9" cy="218.7" r="0.8"/><circle cx="198.7" cy="245.0" r="0.6"/><circle cx="216.9" cy="235.5" r="0.5"/><circle cx="215.6" cy="193.7" r="0.6"/><circle cx="219.3" cy="205.1" r="1.4"/><circle cx="212.5" cy="220.8" r="0.6"/><circle cx="219.1" cy="225.2" r="1.2"/><circle cx="209.0" cy="225.4" r="1.3"/><circle cx="184.5" cy="221.5" r="0.5"/><circle cx="224.0" cy="222.9" r="1.0"/><circle cx="195.0" cy="209.4" r="0.6"/><circle cx="200.9" cy="237.3" r="0.6"/><circle cx="189.5" cy="232.1" r="0.5"/><circle cx="220.0" cy="214.1" r="0.7"/><circle cx="216.7" cy="213.5" r="0.8"/><circle cx="205.1" cy="233.1" r="0.5"/><circle cx="198.0" cy="215.6" r="0.5"/><circle cx="227.8" cy="235.2" r="0.6"/><circle cx="180.1" cy="221.9" r="0.6"/><circle cx="228.5" cy="221.6" r="1.1"/><circle cx="194.6" cy="206.8" r="1.1"/><circle cx="184.8" cy="224.1" r="0.5"/><circle cx="200.1" cy="224.4" r="0.5"/><circle cx="220.4" cy="198.5" r="1.3"/><circle cx="189.0" cy="220.9" r="0.8"/><circle cx="187.8" cy="222.7" r="1.3"/><circle cx="191.0" cy="221.1" r="0.9"/><circle cx="221.2" cy="198.9" r="0.8"/><circle cx="197.7" cy="197.5" r="0.7"/><circle cx="211.9" cy="209.8" r="0.5"/><circle cx="209.0" cy="249.3" r="1.1"/><circle cx="193.7" cy="243.0" r="0.8"/><circle cx="229.3" cy="211.8" r="1.2"/><circle cx="230.3" cy="239.7" r="0.5"/><circle cx="217.5" cy="243.7" r="0.8"/><circle cx="200.6" cy="214.2" r="0.4"/><circle cx="225.2" cy="202.6" r="0.7"/><circle cx="182.4" cy="209.5" r="0.6"/><circle cx="195.1" cy="232.9" r="0.9"/><circle cx="211.9" cy="208.1" r="0.7"/><circle cx="200.9" cy="201.8" r="0.5"/><circle cx="217.0" cy="243.0" r="0.8"/><circle cx="194.4" cy="245.9" r="0.5"/><circle cx="229.9" cy="214.6" r="0.7"/><circle cx="200.3" cy="234.7" r="0.6"/><circle cx="234.4" cy="227.4" r="0.6"/><circle cx="207.5" cy="206.9" r="1.1"/><circle cx="208.9" cy="238.0" r="0.8"/><circle cx="195.0" cy="238.1" r="0.7"/><circle cx="192.1" cy="230.9" r="1.1"/><circle cx="217.8" cy="218.8" r="0.7"/><circle cx="209.7" cy="199.8" r="0.8"/><circle cx="219.9" cy="213.0" r="0.8"/><circle cx="195.5" cy="219.2" r="0.4"/><circle cx="220.7" cy="238.9" r="1.2"/><circle cx="205.6" cy="205.1" r="0.7"/><circle cx="202.6" cy="202.5" r="0.4"/><circle cx="179.9" cy="225.9" r="0.4"/><circle cx="221.6" cy="227.9" r="0.6"/><circle cx="221.2" cy="235.1" r="0.7"/><circle cx="188.8" cy="234.8" r="0.6"/><circle cx="231.5" cy="228.5" r="0.8"/><circle cx="204.3" cy="222.0" r="1.0"/><circle cx="198.7" cy="223.3" r="0.7"/><circle cx="185.8" cy="223.3" r="0.8"/><circle cx="219.7" cy="232.4" r="1.3"/><circle cx="189.4" cy="220.4" r="0.8"/><circle cx="206.8" cy="247.3" r="0.6"/><circle cx="195.2" cy="235.8" r="0.5"/><circle cx="194.7" cy="208.3" r="0.7"/><circle cx="188.8" cy="227.0" r="0.6"/><circle cx="188.4" cy="240.8" r="0.7"/><circle cx="188.6" cy="235.2" r="0.5"/><circle cx="203.4" cy="193.4" r="0.7"/><circle cx="186.4" cy="230.7" r="1.3"/><circle cx="180.1" cy="214.4" r="0.7"/><circle cx="226.7" cy="223.4" r="0.5"/><circle cx="197.7" cy="212.5" r="0.8"/><circle cx="217.1" cy="247.7" r="1.1"/><circle cx="219.5" cy="197.4" r="0.6"/><circle cx="202.0" cy="196.7" r="0.6"/><circle cx="207.8" cy="245.8" r="0.6"/><circle cx="218.7" cy="220.5" r="0.5"/><circle cx="203.8" cy="193.3" r="1.1"/><circle cx="187.8" cy="217.8" r="1.2"/><circle cx="226.6" cy="206.7" r="1.3"/><circle cx="198.3" cy="226.7" r="0.6"/><circle cx="179.5" cy="216.0" r="0.8"/><circle cx="192.8" cy="241.7" r="1.0"/><circle cx="199.4" cy="198.8" r="0.6"/><circle cx="205.4" cy="238.6" r="0.4"/><circle cx="191.4" cy="238.1" r="1.0"/><circle cx="227.6" cy="201.2" r="0.9"/><circle cx="214.3" cy="227.1" r="0.7"/><circle cx="206.2" cy="241.7" r="0.4"/><circle cx="219.3" cy="196.9" r="1.2"/></g>
<circle cx="62.4" cy="288.0" r="31.3" fill="#cbcbe0" stroke="#151515" stroke-width="1.4"/>
<circle cx="62.4" cy="288.0" r="28.3" fill="none" stroke="#d4d4e8" stroke-width="2.5" opacity="0.5"/>
<g fill="#5022f2"><circle cx="57.1" cy="272.0" r="0.5"/><circle cx="46.3" cy="290.7" r="0.7"/><circle cx="41.8" cy="278.3" r="0.5"/><circle cx="66.3" cy="310.6" r="1.4"/><circle cx="51.9" cy="304.2" r="0.7"/><circle cx="83.0" cy="275.9" r="1.0"/><circle cx="58.7" cy="275.0" r="0.7"/><circle cx="65.0" cy="305.4" r="1.2"/><circle cx="85.6" cy="295.1" r="1.3"/><circle cx="41.0" cy="282.0" r="0.8"/><circle cx="45.0" cy="311.0" r="0.7"/><circle cx="71.0" cy="291.6" r="1.2"/><circle cx="69.2" cy="301.6" r="0.7"/><circle cx="53.7" cy="305.9" r="0.6"/><circle cx="51.6" cy="301.7" r="1.0"/><circle cx="62.1" cy="291.7" r="0.6"/><circle cx="61.3" cy="297.7" r="0.6"/><circle cx="46.2" cy="286.8" r="0.7"/><circle cx="45.4" cy="271.5" r="0.6"/><circle cx="46.9" cy="297.4" r="0.6"/><circle cx="41.5" cy="284.2" r="0.8"/><circle cx="63.1" cy="292.3" r="0.4"/><circle cx="69.0" cy="266.0" r="0.5"/><circle cx="80.4" cy="268.4" r="0.7"/><circle cx="61.7" cy="268.4" r="0.6"/><circle cx="83.6" cy="268.2" r="0.7"/><circle cx="75.3" cy="294.5" r="0.6"/><circle cx="46.3" cy="286.5" r="0.6"/><circle cx="70.4" cy="287.5" r="0.4"/><circle cx="73.2" cy="302.6" r="0.4"/><circle cx="36.3" cy="277.2" r="0.7"/><circle cx="43.8" cy="275.9" r="1.1"/><circle cx="81.8" cy="274.0" r="1.1"/><circle cx="46.1" cy="283.4" r="0.7"/><circle cx="76.0" cy="289.5" r="0.5"/><circle cx="85.2" cy="299.2" r="0.8"/><circle cx="53.8" cy="284.7" r="0.5"/><circle cx="72.2" cy="265.2" r="0.4"/><circle cx="87.8" cy="293.5" r="0.9"/><circle cx="74.0" cy="290.2" r="0.8"/><circle cx="56.0" cy="301.4" r="0.5"/><circle cx="47.3" cy="270.9" r="0.4"/><circle cx="45.8" cy="281.0" r="0.5"/><circle cx="59.7" cy="275.8" r="0.8"/><circle cx="63.4" cy="303.3" r="0.7"/><circle cx="73.9" cy="293.1" r="1.0"/><circle cx="76.0" cy="267.8" r="0.7"/><circle cx="49.9" cy="275.0" r="0.6"/><circle cx="81.4" cy="295.4" r="0.6"/><circle cx="67.0" cy="289.5" r="0.5"/><circle cx="57.0" cy="297.8" r="0.8"/><circle cx="71.1" cy="306.6" r="0.7"/><circle cx="49.3" cy="282.3" r="1.2"/><circle cx="86.3" cy="300.8" r="0.9"/><circle cx="36.2" cy="293.4" r="0.7"/><circle cx="64.1" cy="263.3" r="1.3"/><circle cx="69.4" cy="297.4" r="0.8"/><circle cx="75.3" cy="275.5" r="0.8"/><circle cx="75.2" cy="269.4" r="0.4"/><circle cx="74.2" cy="298.1" r="0.9"/><circle cx="69.5" cy="310.2" r="0.9"/><circle cx="45.0" cy="284.1" r="1.1"/><circle cx="44.3" cy="287.1" r="0.4"/><circle cx="52.8" cy="279.5" r="0.4"/><circle cx="79.4" cy="273.5" r="0.6"/><circle cx="72.2" cy="284.1" r="0.7"/><circle cx="45.4" cy="305.6" r="0.4"/><circle cx="59.0" cy="303.4" r="0.7"/><circle cx="53.7" cy="261.4" r="1.0"/><circle cx="77.7" cy="267.7" r="1.4"/><circle cx="60.8" cy="261.0" r="0.6"/><circle cx="89.1" cy="280.9" r="0.8"/><circle cx="89.1" cy="287.8" r="0.8"/><circle cx="73.8" cy="302.5" r="0.5"/><circle cx="63.8" cy="280.9" r="0.5"/><circle cx="52.4" cy="308.3" r="1.1"/><circle cx="80.4" cy="265.4" r="0.5"/><circle cx="58.0" cy="276.1" r="0.5"/><circle cx="46.5" cy="282.1" r="0.8"/><circle cx="79.1" cy="288.2" r="0.8"/><circle cx="57.6" cy="282.3" r="0.5"/><circle cx="37.8" cy="290.9" r="0.8"/><circle cx="48.0" cy="295.8" r="0.5"/><circle cx="61.4" cy="268.2" r="0.5"/><circle cx="68.3" cy="260.0" r="1.2"/><circle cx="65.3" cy="292.7" r="0.5"/><circle cx="59.7" cy="266.1" r="0.8"/><circle cx="70.9" cy="291.3" r="1.1"/><circle cx="73.3" cy="266.5" r="0.7"/><circle cx="55.6" cy="295.0" r="0.4"/><circle cx="63.0" cy="293.0" r="0.8"/><circle cx="52.2" cy="285.9" r="0.7"/><circle cx="56.8" cy="296.4" r="0.7"/><circle cx="78.6" cy="273.6" r="0.7"/><circle cx="49.7" cy="262.2" r="0.7"/><circle cx="49.0" cy="273.2" r="1.1"/><circle cx="60.5" cy="310.5" r="0.6"/><circle cx="72.2" cy="291.8" r="0.7"/><circle cx="88.3" cy="286.5" r="0.6"/><circle cx="36.3" cy="287.1" r="0.8"/><circle cx="44.1" cy="289.8" r="0.5"/><circle cx="68.7" cy="288.0" r="0.4"/><circle cx="57.5" cy="277.8" r="1.1"/><circle cx="42.0" cy="272.8" r="0.5"/><circle cx="43.9" cy="308.2" r="0.8"/><circle cx="77.6" cy="274.7" r="0.9"/><circle cx="81.8" cy="272.0" r="1.2"/><circle cx="66.8" cy="306.9" r="0.4"/><circle cx="77.9" cy="281.4" r="1.3"/><circle cx="66.7" cy="291.6" r="0.6"/><circle cx="83.4" cy="272.9" r="0.8"/><circle cx="46.5" cy="275.9" r="0.8"/><circle cx="68.4" cy="310.5" r="1.4"/><circle cx="84.1" cy="280.8" r="0.7"/><circle cx="83.7" cy="273.2" r="1.1"/><circle cx="76.1" cy="304.6" r="0.7"/><circle cx="62.6" cy="309.6" r="0.5"/><circle cx="61.4" cy="262.7" r="0.6"/><circle cx="54.2" cy="264.6" r="0.4"/><circle cx="72.3" cy="294.8" r="0.6"/><circle cx="51.6" cy="274.2" r="0.5"/><circle cx="84.8" cy="284.4" r="1.2"/><circle cx="43.8" cy="274.8" r="0.6"/><circle cx="82.8" cy="267.9" r="0.7"/><circle cx="49.3" cy="301.2" r="0.7"/><circle cx="52.0" cy="301.8" r="0.7"/><circle cx="50.4" cy="264.1" r="0.7"/><circle cx="62.3" cy="304.3" r="1.3"/><circle cx="76.5" cy="280.4" r="0.4"/><circle cx="77.0" cy="306.1" r="0.4"/><circle cx="61.7" cy="313.3" r="1.3"/><circle cx="50.3" cy="304.0" r="1.0"/><circle cx="48.7" cy="295.0" r="0.4"/><circle cx="45.6" cy="268.0" r="0.5"/><circle cx="68.3" cy="293.5" r="0.6"/><circle cx="81.9" cy="289.9" r="0.5"/><circle cx="80.8" cy="292.1" r="0.8"/><circle cx="44.6" cy="309.6" r="0.6"/><circle cx="80.8" cy="306.6" r="1.1"/><circle cx="69.7" cy="293.1" r="0.5"/><circle cx="84.5" cy="286.9" r="0.8"/><circle cx="63.6" cy="264.6" r="0.7"/><circle cx="56.8" cy="277.9" r="0.6"/><circle cx="37.9" cy="285.6" r="0.6"/><circle cx="68.8" cy="262.3" r="0.9"/><circle cx="73.5" cy="291.4" r="0.5"/><circle cx="44.0" cy="295.4" r="0.5"/><circle cx="65.4" cy="271.5" r="0.7"/><circle cx="83.9" cy="288.2" r="1.3"/><circle cx="76.0" cy="294.4" r="0.6"/><circle cx="53.1" cy="271.8" r="0.5"/><circle cx="48.1" cy="291.5" r="0.4"/><circle cx="70.8" cy="297.8" r="0.6"/><circle cx="91.3" cy="288.5" r="0.6"/><circle cx="76.7" cy="310.2" r="0.5"/><circle cx="63.4" cy="261.7" r="0.5"/><circle cx="71.0" cy="296.1" r="1.3"/><circle cx="79.3" cy="277.3" r="1.0"/><circle cx="63.7" cy="311.4" r="0.7"/><circle cx="44.3" cy="295.6" r="0.5"/><circle cx="39.3" cy="294.7" r="0.5"/><circle cx="52.3" cy="283.5" r="1.0"/><circle cx="59.1" cy="292.1" r="1.1"/><circle cx="87.3" cy="278.6" r="1.0"/><circle cx="51.4" cy="299.9" r="1.2"/><circle cx="71.9" cy="272.8" r="0.9"/><circle cx="87.7" cy="290.4" r="1.2"/><circle cx="64.5" cy="279.9" r="1.0"/><circle cx="65.4" cy="263.2" r="0.6"/><circle cx="50.1" cy="303.8" r="0.5"/><circle cx="72.8" cy="262.1" r="0.8"/><circle cx="73.5" cy="283.4" r="0.5"/><circle cx="65.8" cy="278.5" r="0.6"/><circle cx="75.2" cy="267.7" r="1.3"/><circle cx="76.2" cy="272.4" r="1.0"/><circle cx="57.4" cy="306.2" r="0.6"/><circle cx="65.7" cy="281.0" r="1.2"/><circle cx="54.9" cy="299.7" r="0.8"/><circle cx="44.1" cy="299.3" r="0.6"/><circle cx="61.4" cy="291.7" r="0.5"/><circle cx="44.5" cy="289.0" r="0.4"/><circle cx="57.8" cy="303.2" r="0.8"/><circle cx="58.4" cy="288.5" r="0.5"/><circle cx="42.6" cy="295.3" r="0.9"/><circle cx="67.2" cy="266.8" r="0.5"/><circle cx="62.6" cy="267.4" r="0.7"/><circle cx="81.9" cy="272.7" r="0.6"/><circle cx="40.7" cy="283.4" r="0.7"/><circle cx="66.6" cy="282.8" r="0.6"/><circle cx="39.8" cy="271.9" r="1.1"/><circle cx="42.3" cy="308.0" r="1.1"/><circle cx="78.0" cy="307.9" r="0.7"/><circle cx="52.8" cy="313.6" r="0.9"/><circle cx="59.6" cy="260.9" r="0.5"/><circle cx="83.8" cy="299.9" r="0.4"/><circle cx="81.8" cy="279.6" r="1.1"/><circle cx="57.5" cy="296.0" r="0.8"/><circle cx="76.2" cy="301.7" r="0.7"/><circle cx="75.4" cy="298.7" r="0.6"/><circle cx="41.8" cy="296.9" r="0.8"/></g>
<circle cx="133.7" cy="288.0" r="31.3" fill="#cbcbe0" stroke="#151515" stroke-width="1.4"/>
<circle cx="133.7" cy="288.0" r="28.3" fill="none" stroke="#d4d4e8" stroke-width="2.5" opacity="0.5"/>
<g fill="#5022f2"><circle cx="155.8" cy="273.4" r="0.9"/><circle cx="111.1" cy="293.8" r="0.5"/><circle cx="149.9" cy="287.2" r="0.9"/><circle cx="140.0" cy="312.1" r="0.4"/><circle cx="134.9" cy="302.3" r="0.8"/><circle cx="132.9" cy="297.3" r="0.8"/><circle cx="129.5" cy="268.4" r="0.7"/><circle cx="118.6" cy="287.1" r="0.7"/><circle cx="123.2" cy="308.8" r="1.4"/><circle cx="137.0" cy="301.4" r="0.8"/><circle cx="157.5" cy="275.9" r="0.7"/><circle cx="126.5" cy="284.8" r="0.7"/><circle cx="136.9" cy="282.8" r="1.2"/><circle cx="106.3" cy="290.1" r="0.6"/><circle cx="123.0" cy="266.8" r="0.5"/><circle cx="128.9" cy="282.2" r="0.7"/><circle cx="140.1" cy="269.3" r="1.1"/><circle cx="124.6" cy="268.5" r="0.8"/><circle cx="122.2" cy="296.6" r="0.9"/><circle cx="112.8" cy="300.3" r="0.7"/><circle cx="160.6" cy="291.5" r="0.7"/><circle cx="120.6" cy="276.7" r="0.4"/><circle cx="130.2" cy="282.2" r="0.8"/><circle cx="122.5" cy="268.3" r="0.8"/><circle cx="144.8" cy="261.3" r="0.4"/><circle cx="116.2" cy="272.7" r="0.6"/><circle cx="132.4" cy="289.5" r="0.6"/><circle cx="156.0" cy="285.9" r="0.7"/><circle cx="153.5" cy="286.9" r="0.6"/><circle cx="150.3" cy="289.2" r="0.8"/><circle cx="121.7" cy="297.4" r="0.4"/><circle cx="127.5" cy="305.2" r="1.2"/><circle cx="110.6" cy="300.1" r="0.8"/><circle cx="140.8" cy="308.0" r="0.8"/><circle cx="124.9" cy="314.1" r="1.1"/><circle cx="118.9" cy="285.7" r="0.4"/><circle cx="124.6" cy="300.6" r="0.7"/><circle cx="126.9" cy="266.6" r="0.7"/><circle cx="143.6" cy="291.6" r="0.7"/><circle cx="159.3" cy="286.3" r="1.1"/><circle cx="117.6" cy="272.1" r="1.4"/><circle cx="118.6" cy="287.0" r="0.6"/><circle cx="155.2" cy="298.1" r="0.9"/><circle cx="126.4" cy="309.4" r="0.7"/><circle cx="157.7" cy="271.8" r="0.8"/><circle cx="133.2" cy="314.4" r="1.1"/><circle cx="141.8" cy="292.2" r="0.5"/><circle cx="129.4" cy="267.3" r="1.3"/><circle cx="159.1" cy="298.2" r="0.6"/><circle cx="129.1" cy="289.6" r="0.4"/><circle cx="106.1" cy="283.4" r="0.4"/><circle cx="129.3" cy="264.0" r="0.7"/><circle cx="117.2" cy="279.1" r="0.5"/><circle cx="127.4" cy="314.7" r="0.7"/><circle cx="125.2" cy="297.4" r="1.4"/><circle cx="134.0" cy="259.2" r="0.4"/><circle cx="137.0" cy="293.5" r="0.6"/><circle cx="148.9" cy="283.6" r="0.9"/><circle cx="136.7" cy="291.9" r="0.6"/><circle cx="114.5" cy="308.9" r="0.7"/><circle cx="124.6" cy="286.1" r="1.2"/><circle cx="138.3" cy="283.4" r="0.5"/><circle cx="123.5" cy="263.5" r="0.5"/><circle cx="149.6" cy="311.8" r="0.8"/><circle cx="127.3" cy="286.3" r="0.8"/><circle cx="148.1" cy="294.5" r="1.3"/><circle cx="128.6" cy="294.6" r="0.5"/><circle cx="112.8" cy="297.3" r="0.4"/><circle cx="127.0" cy="286.5" r="0.7"/><circle cx="131.6" cy="314.3" r="1.0"/><circle cx="134.2" cy="286.3" r="0.6"/><circle cx="127.5" cy="260.4" r="0.5"/><circle cx="140.1" cy="307.2" r="1.1"/><circle cx="154.2" cy="300.9" r="0.4"/><circle cx="154.1" cy="307.3" r="0.8"/><circle cx="111.5" cy="306.4" r="1.2"/><circle cx="146.1" cy="283.3" r="0.9"/><circle cx="156.3" cy="301.1" r="0.6"/><circle cx="151.2" cy="303.4" r="0.9"/><circle cx="114.3" cy="275.0" r="0.7"/><circle cx="144.1" cy="300.2" r="1.1"/><circle cx="160.4" cy="292.8" r="0.7"/><circle cx="106.0" cy="290.0" r="0.7"/><circle cx="138.4" cy="275.3" r="0.4"/><circle cx="135.5" cy="268.1" r="0.5"/><circle cx="109.1" cy="299.4" r="0.7"/><circle cx="154.4" cy="269.2" r="1.2"/><circle cx="155.8" cy="297.3" r="0.6"/><circle cx="147.1" cy="305.4" r="1.1"/><circle cx="150.2" cy="297.1" r="0.7"/><circle cx="145.6" cy="272.3" r="0.4"/><circle cx="139.0" cy="266.7" r="0.5"/><circle cx="126.6" cy="289.9" r="0.8"/><circle cx="124.1" cy="292.9" r="0.6"/><circle cx="148.2" cy="271.9" r="1.0"/><circle cx="145.6" cy="269.2" r="0.7"/><circle cx="146.1" cy="291.9" r="0.7"/><circle cx="154.7" cy="280.2" r="0.8"/><circle cx="116.3" cy="281.3" r="0.5"/><circle cx="134.7" cy="291.5" r="1.3"/><circle cx="141.6" cy="279.7" r="1.1"/><circle cx="134.2" cy="310.8" r="0.7"/><circle cx="129.5" cy="310.3" r="1.3"/><circle cx="132.3" cy="315.1" r="0.8"/><circle cx="117.6" cy="311.4" r="0.5"/><circle cx="123.9" cy="275.1" r="0.8"/><circle cx="122.7" cy="278.8" r="1.3"/><circle cx="149.6" cy="307.7" r="1.0"/><circle cx="157.8" cy="277.1" r="0.8"/><circle cx="111.3" cy="270.9" r="0.6"/><circle cx="125.7" cy="304.0" r="0.5"/><circle cx="116.7" cy="266.9" r="0.5"/><circle cx="151.1" cy="291.1" r="0.7"/><circle cx="113.7" cy="281.9" r="0.6"/><circle cx="124.2" cy="268.4" r="0.5"/><circle cx="147.5" cy="301.5" r="0.8"/><circle cx="127.8" cy="309.3" r="0.6"/><circle cx="145.0" cy="311.3" r="0.9"/><circle cx="131.4" cy="300.9" r="0.8"/><circle cx="121.8" cy="286.2" r="0.6"/><circle cx="119.4" cy="273.8" r="0.5"/><circle cx="110.2" cy="293.4" r="1.2"/><circle cx="109.0" cy="273.3" r="0.6"/><circle cx="135.5" cy="272.5" r="0.6"/><circle cx="131.3" cy="263.4" r="1.4"/><circle cx="154.1" cy="285.7" r="0.6"/><circle cx="127.3" cy="293.7" r="1.2"/><circle cx="129.2" cy="265.6" r="0.6"/><circle cx="132.6" cy="265.4" r="0.6"/><circle cx="122.9" cy="269.1" r="1.2"/><circle cx="128.2" cy="269.8" r="0.6"/><circle cx="144.1" cy="306.0" r="0.5"/><circle cx="143.1" cy="280.1" r="0.5"/><circle cx="104.8" cy="284.9" r="1.3"/><circle cx="162.5" cy="289.1" r="0.6"/><circle cx="120.9" cy="273.0" r="1.0"/><circle cx="108.4" cy="297.8" r="1.1"/><circle cx="112.4" cy="291.9" r="0.6"/><circle cx="121.1" cy="313.5" r="0.5"/><circle cx="107.8" cy="280.0" r="1.2"/><circle cx="118.1" cy="289.2" r="0.9"/><circle cx="116.2" cy="295.2" r="0.5"/><circle cx="119.1" cy="274.3" r="0.7"/><circle cx="136.0" cy="316.7" r="0.5"/><circle cx="133.0" cy="312.6" r="0.7"/><circle cx="132.7" cy="315.0" r="1.3"/><circle cx="116.6" cy="294.9" r="0.6"/><circle cx="112.9" cy="281.5" r="0.7"/><circle cx="157.9" cy="303.9" r="0.8"/><circle cx="140.1" cy="274.1" r="0.9"/><circle cx="107.0" cy="288.8" r="0.9"/><circle cx="140.4" cy="288.5" r="0.6"/><circle cx="156.7" cy="283.4" r="0.6"/><circle cx="153.9" cy="275.3" r="1.0"/><circle cx="124.1" cy="289.2" r="0.6"/><circle cx="140.0" cy="307.4" r="0.5"/><circle cx="126.2" cy="283.4" r="0.9"/><circle cx="109.6" cy="287.2" r="1.2"/><circle cx="112.1" cy="275.0" r="0.5"/><circle cx="153.3" cy="287.6" r="0.5"/><circle cx="153.8" cy="299.9" r="0.8"/><circle cx="152.2" cy="298.8" r="1.0"/><circle cx="135.8" cy="268.7" r="1.2"/><circle cx="156.6" cy="287.2" r="0.6"/><circle cx="125.9" cy="262.5" r="0.5"/><circle cx="135.5" cy="278.8" r="1.1"/><circle cx="142.4" cy="308.0" r="1.4"/><circle cx="109.7" cy="298.7" r="0.6"/><circle cx="136.1" cy="267.7" r="0.4"/><circle cx="118.5" cy="264.5" r="0.5"/><circle cx="116.5" cy="285.3" r="0.7"/><circle cx="153.9" cy="288.8" r="0.5"/><circle cx="132.1" cy="273.4" r="0.5"/><circle cx="118.1" cy="277.0" r="0.6"/><circle cx="138.2" cy="266.9" r="1.1"/><circle cx="133.4" cy="303.9" r="0.6"/><circle cx="132.9" cy="276.5" r="0.4"/><circle cx="135.5" cy="298.2" r="1.3"/><circle cx="150.9" cy="284.1" r="1.2"/><circle cx="130.5" cy="282.7" r="0.4"/><circle cx="136.4" cy="313.5" r="0.5"/><circle cx="107.7" cy="286.6" r="0.6"/><circle cx="136.7" cy="295.0" r="1.1"/><circle cx="117.4" cy="276.8" r="0.6"/><circle cx="122.3" cy="273.2" r="0.6"/><circle cx="154.8" cy="268.3" r="0.7"/><circle cx="125.7" cy="267.9" r="0.9"/><circle cx="126.0" cy="275.7" r="0.6"/><circle cx="118.8" cy="276.1" r="1.0"/><circle cx="124.7" cy="262.1" r="0.5"/><circle cx="115.7" cy="294.1" r="0.7"/><circle cx="136.6" cy="262.0" r="0.8"/><circle cx="115.3" cy="294.2" r="0.5"/><circle cx="142.7" cy="271.5" r="0.6"/><circle cx="131.7" cy="290.3" r="1.1"/><circle cx="144.0" cy="284.7" r="0.8"/><circle cx="137.6" cy="273.1" r="1.3"/><circle cx="148.1" cy="294.6" r="0.7"/><circle cx="145.6" cy="264.2" r="1.1"/><circle cx="148.5" cy="298.0" r="0.7"/><circle cx="127.9" cy="311.0" r="1.0"/><circle cx="154.4" cy="296.0" r="0.7"/><circle cx="109.0" cy="301.6" r="0.6"/><circle cx="142.3" cy="279.2" r="1.1"/><circle cx="110.6" cy="271.4" r="0.4"/><circle cx="152.4" cy="281.2" r="1.3"/><circle cx="115.1" cy="268.6" r="0.5"/><circle cx="114.2" cy="291.7" r="0.6"/><circle cx="142.4" cy="299.8" r="0.8"/><circle cx="109.0" cy="284.0" r="0.8"/><circle cx="115.4" cy="273.1" r="1.3"/><circle cx="118.3" cy="309.8" r="1.4"/><circle cx="128.7" cy="276.8" r="0.5"/><circle cx="120.2" cy="299.8" r="0.5"/><circle cx="143.5" cy="303.6" r="1.3"/><circle cx="118.8" cy="307.5" r="0.8"/><circle cx="151.5" cy="271.2" r="0.8"/><circle cx="150.6" cy="280.1" r="0.4"/><circle cx="122.7" cy="300.5" r="0.4"/><circle cx="133.9" cy="280.1" r="0.6"/><circle cx="146.3" cy="268.6" r="1.2"/><circle cx="135.8" cy="310.8" r="0.8"/><circle cx="119.3" cy="292.8" r="0.8"/><circle cx="125.4" cy="299.7" r="0.7"/><circle cx="141.4" cy="285.0" r="0.7"/><circle cx="109.5" cy="288.7" r="0.4"/><circle cx="145.3" cy="291.8" r="0.5"/><circle cx="131.4" cy="297.6" r="1.1"/><circle cx="134.3" cy="276.4" r="1.2"/><circle cx="143.3" cy="293.2" r="0.5"/><circle cx="138.2" cy="267.8" r="0.5"/><circle cx="159.7" cy="292.6" r="0.7"/><circle cx="148.7" cy="299.8" r="0.5"/><circle cx="158.8" cy="300.7" r="0.8"/><circle cx="109.8" cy="281.1" r="0.6"/><circle cx="144.7" cy="308.6" r="0.7"/><circle cx="148.9" cy="292.1" r="1.3"/><circle cx="118.3" cy="290.0" r="0.6"/><circle cx="129.1" cy="305.6" r="0.8"/><circle cx="161.5" cy="294.5" r="0.6"/><circle cx="153.6" cy="280.3" r="0.4"/><circle cx="112.8" cy="296.9" r="0.7"/><circle cx="120.7" cy="307.6" r="1.1"/><circle cx="114.7" cy="297.2" r="0.9"/><circle cx="131.2" cy="276.4" r="0.8"/><circle cx="114.5" cy="272.1" r="0.8"/><circle cx="119.8" cy="299.9" r="0.4"/><circle cx="118.8" cy="291.0" r="0.7"/><circle cx="147.0" cy="272.1" r="0.4"/><circle cx="118.6" cy="264.3" r="0.6"/><circle cx="115.1" cy="286.7" r="0.9"/><circle cx="139.5" cy="267.9" r="1.2"/><circle cx="145.1" cy="267.5" r="1.4"/><circle cx="142.3" cy="306.9" r="0.5"/><circle cx="132.4" cy="300.5" r="0.8"/><circle cx="119.2" cy="269.2" r="1.4"/><circle cx="116.3" cy="297.1" r="0.7"/><circle cx="109.1" cy="293.4" r="0.5"/><circle cx="156.2" cy="298.6" r="0.6"/><circle cx="152.3" cy="304.8" r="1.3"/><circle cx="117.0" cy="271.9" r="1.0"/><circle cx="132.7" cy="278.4" r="1.0"/><circle cx="147.6" cy="269.5" r="0.8"/><circle cx="147.6" cy="265.2" r="0.5"/><circle cx="133.7" cy="285.1" r="1.0"/><circle cx="139.0" cy="286.5" r="1.2"/><circle cx="134.9" cy="273.0" r="1.3"/><circle cx="161.0" cy="282.9" r="0.4"/><circle cx="132.2" cy="264.6" r="0.7"/><circle cx="104.9" cy="287.5" r="0.6"/><circle cx="116.9" cy="268.4" r="0.8"/><circle cx="130.0" cy="315.3" r="0.5"/><circle cx="155.9" cy="292.0" r="0.8"/><circle cx="110.6" cy="279.2" r="0.5"/><circle cx="124.1" cy="271.3" r="1.0"/><circle cx="117.5" cy="306.9" r="0.5"/><circle cx="158.0" cy="296.8" r="0.7"/><circle cx="135.4" cy="280.9" r="1.1"/><circle cx="126.0" cy="313.3" r="0.8"/><circle cx="127.5" cy="290.0" r="1.2"/><circle cx="116.7" cy="274.9" r="1.1"/><circle cx="117.8" cy="285.7" r="0.9"/><circle cx="116.2" cy="289.9" r="0.7"/><circle cx="130.0" cy="310.4" r="1.2"/><circle cx="140.1" cy="309.5" r="0.7"/><circle cx="106.4" cy="282.7" r="0.7"/><circle cx="124.2" cy="299.7" r="0.5"/><circle cx="137.7" cy="296.0" r="0.6"/><circle cx="156.7" cy="275.6" r="0.5"/><circle cx="130.8" cy="294.0" r="1.3"/><circle cx="132.9" cy="290.5" r="0.6"/><circle cx="136.7" cy="268.6" r="0.4"/><circle cx="110.6" cy="291.9" r="1.4"/><circle cx="121.1" cy="308.4" r="0.8"/><circle cx="155.8" cy="301.4" r="0.8"/><circle cx="125.1" cy="286.3" r="0.6"/><circle cx="138.4" cy="265.3" r="0.5"/><circle cx="138.9" cy="294.5" r="0.5"/><circle cx="139.9" cy="286.2" r="0.4"/><circle cx="156.0" cy="304.9" r="1.2"/></g>
<circle cx="208.0" cy="288.0" r="31.3" fill="#cbcbe0" stroke="#151515" stroke-width="1.4"/>
<circle cx="208.0" cy="288.0" r="28.3" fill="none" stroke="#d4d4e8" stroke-width="2.5" opacity="0.5"/>
<g fill="#5022f2"><circle cx="192.2" cy="278.7" r="0.5"/><circle cx="202.1" cy="271.3" r="0.7"/><circle cx="224.8" cy="296.7" r="0.8"/><circle cx="198.6" cy="279.1" r="0.4"/><circle cx="200.3" cy="287.3" r="1.1"/><circle cx="195.0" cy="284.8" r="0.5"/><circle cx="206.0" cy="281.6" r="0.6"/><circle cx="215.3" cy="301.9" r="0.4"/><circle cx="219.7" cy="280.8" r="0.4"/><circle cx="180.5" cy="295.7" r="0.9"/><circle cx="185.7" cy="281.2" r="0.9"/><circle cx="196.7" cy="279.3" r="1.2"/><circle cx="225.7" cy="268.8" r="0.5"/><circle cx="199.7" cy="309.0" r="0.7"/><circle cx="194.7" cy="283.4" r="0.9"/><circle cx="228.8" cy="295.8" r="1.3"/><circle cx="218.8" cy="285.2" r="0.6"/><circle cx="226.0" cy="288.6" r="0.5"/><circle cx="221.1" cy="293.9" r="1.1"/><circle cx="194.1" cy="289.6" r="0.8"/><circle cx="181.9" cy="288.1" r="0.7"/><circle cx="211.0" cy="271.0" r="0.5"/><circle cx="216.7" cy="304.7" r="1.2"/><circle cx="207.8" cy="308.5" r="0.6"/><circle cx="228.8" cy="274.6" r="0.7"/><circle cx="197.8" cy="262.0" r="0.7"/><circle cx="187.8" cy="281.4" r="0.5"/><circle cx="215.6" cy="307.2" r="0.7"/><circle cx="207.1" cy="287.0" r="1.2"/><circle cx="188.9" cy="302.6" r="0.4"/><circle cx="197.4" cy="261.3" r="1.2"/><circle cx="190.8" cy="273.1" r="0.6"/><circle cx="235.1" cy="286.2" r="0.7"/><circle cx="195.1" cy="265.3" r="0.4"/><circle cx="211.3" cy="301.6" r="0.8"/><circle cx="211.0" cy="308.1" r="0.7"/><circle cx="184.5" cy="273.7" r="0.4"/><circle cx="223.3" cy="284.7" r="0.7"/><circle cx="203.6" cy="303.5" r="0.7"/><circle cx="216.8" cy="286.7" r="0.7"/><circle cx="231.9" cy="281.3" r="0.4"/><circle cx="214.9" cy="301.1" r="0.5"/><circle cx="213.1" cy="294.9" r="0.7"/><circle cx="222.9" cy="302.6" r="0.5"/><circle cx="182.4" cy="282.3" r="1.3"/><circle cx="211.8" cy="263.3" r="0.6"/><circle cx="214.7" cy="285.4" r="1.2"/><circle cx="218.7" cy="284.7" r="1.1"/><circle cx="213.3" cy="266.8" r="0.4"/><circle cx="215.0" cy="309.2" r="0.4"/><circle cx="221.7" cy="296.8" r="0.5"/><circle cx="211.8" cy="294.9" r="0.8"/><circle cx="189.4" cy="267.2" r="1.2"/><circle cx="190.3" cy="308.1" r="0.6"/><circle cx="232.4" cy="273.4" r="1.1"/><circle cx="226.7" cy="299.1" r="1.2"/><circle cx="206.4" cy="290.0" r="0.5"/><circle cx="205.6" cy="308.8" r="1.3"/><circle cx="205.9" cy="278.3" r="0.5"/><circle cx="199.3" cy="286.3" r="0.6"/><circle cx="185.4" cy="281.5" r="0.5"/><circle cx="200.2" cy="298.8" r="0.5"/><circle cx="211.0" cy="300.4" r="0.7"/><circle cx="183.7" cy="298.0" r="0.6"/><circle cx="207.4" cy="306.6" r="0.4"/><circle cx="194.0" cy="292.2" r="0.5"/><circle cx="215.1" cy="308.9" r="0.9"/><circle cx="206.9" cy="300.3" r="0.7"/><circle cx="216.1" cy="281.1" r="1.0"/><circle cx="181.5" cy="286.6" r="0.7"/><circle cx="212.8" cy="288.5" r="0.6"/><circle cx="225.2" cy="288.7" r="1.3"/><circle cx="212.0" cy="303.9" r="1.3"/><circle cx="222.7" cy="300.5" r="0.9"/><circle cx="232.6" cy="287.2" r="0.5"/><circle cx="236.3" cy="284.0" r="0.5"/><circle cx="228.5" cy="294.5" r="0.7"/><circle cx="234.3" cy="287.7" r="1.4"/><circle cx="203.7" cy="284.3" r="1.4"/><circle cx="215.1" cy="264.0" r="0.4"/><circle cx="222.6" cy="281.9" r="0.6"/><circle cx="186.9" cy="289.6" r="0.7"/><circle cx="186.8" cy="304.5" r="1.0"/><circle cx="205.3" cy="293.7" r="0.4"/><circle cx="233.8" cy="282.9" r="0.4"/><circle cx="205.9" cy="313.5" r="0.4"/><circle cx="188.1" cy="297.8" r="1.0"/><circle cx="184.5" cy="279.3" r="0.8"/><circle cx="207.1" cy="313.2" r="1.3"/><circle cx="196.4" cy="284.6" r="0.8"/><circle cx="226.7" cy="307.9" r="0.5"/><circle cx="214.2" cy="264.1" r="0.6"/><circle cx="197.9" cy="312.3" r="0.8"/><circle cx="228.0" cy="297.1" r="0.5"/><circle cx="235.3" cy="291.6" r="0.7"/><circle cx="198.4" cy="304.7" r="0.4"/><circle cx="203.8" cy="263.9" r="0.8"/><circle cx="189.5" cy="267.9" r="1.0"/><circle cx="202.6" cy="307.8" r="0.8"/><circle cx="230.7" cy="273.6" r="0.7"/><circle cx="207.3" cy="279.3" r="0.6"/><circle cx="229.8" cy="305.0" r="0.5"/><circle cx="226.6" cy="298.5" r="0.8"/><circle cx="195.3" cy="273.7" r="0.8"/><circle cx="199.4" cy="266.9" r="0.6"/><circle cx="184.6" cy="302.8" r="0.9"/><circle cx="212.5" cy="272.3" r="0.6"/><circle cx="200.8" cy="312.3" r="1.1"/><circle cx="204.2" cy="271.4" r="0.5"/><circle cx="201.3" cy="281.5" r="0.6"/><circle cx="192.8" cy="275.2" r="1.1"/><circle cx="218.1" cy="276.6" r="1.2"/><circle cx="209.0" cy="297.2" r="1.2"/><circle cx="226.8" cy="270.7" r="0.7"/><circle cx="216.7" cy="275.7" r="0.8"/><circle cx="229.8" cy="279.8" r="0.5"/><circle cx="222.1" cy="297.0" r="1.2"/><circle cx="195.1" cy="268.9" r="0.4"/><circle cx="210.5" cy="296.8" r="0.8"/><circle cx="182.5" cy="293.2" r="1.0"/><circle cx="212.8" cy="273.0" r="0.6"/><circle cx="205.2" cy="283.9" r="0.8"/><circle cx="197.1" cy="298.8" r="0.6"/><circle cx="201.3" cy="268.9" r="0.6"/><circle cx="205.6" cy="303.5" r="1.2"/><circle cx="216.5" cy="293.2" r="0.8"/><circle cx="212.7" cy="264.7" r="0.5"/><circle cx="204.2" cy="287.7" r="0.4"/><circle cx="215.6" cy="294.7" r="0.6"/><circle cx="209.6" cy="295.9" r="1.4"/><circle cx="235.7" cy="285.4" r="0.9"/><circle cx="210.6" cy="285.5" r="1.2"/><circle cx="235.3" cy="281.8" r="0.5"/><circle cx="205.1" cy="260.0" r="0.8"/><circle cx="210.0" cy="262.3" r="0.6"/><circle cx="182.8" cy="275.6" r="0.4"/><circle cx="182.3" cy="296.8" r="0.6"/><circle cx="231.2" cy="277.8" r="1.2"/><circle cx="209.6" cy="286.3" r="0.6"/><circle cx="209.9" cy="285.4" r="0.5"/><circle cx="212.8" cy="311.1" r="0.7"/><circle cx="216.3" cy="282.7" r="0.6"/><circle cx="214.6" cy="263.9" r="0.7"/><circle cx="183.4" cy="283.3" r="0.6"/><circle cx="196.4" cy="263.7" r="0.5"/><circle cx="232.0" cy="292.6" r="0.5"/><circle cx="223.0" cy="267.6" r="0.9"/><circle cx="195.4" cy="268.8" r="1.3"/><circle cx="213.7" cy="313.9" r="0.4"/><circle cx="201.4" cy="267.4" r="0.6"/><circle cx="196.0" cy="295.4" r="0.5"/><circle cx="212.6" cy="285.1" r="0.4"/><circle cx="203.3" cy="260.0" r="0.6"/><circle cx="201.6" cy="291.8" r="0.6"/><circle cx="209.8" cy="282.8" r="0.9"/><circle cx="209.8" cy="283.9" r="1.0"/><circle cx="187.7" cy="305.5" r="0.5"/><circle cx="207.1" cy="270.6" r="0.7"/><circle cx="226.0" cy="296.5" r="0.6"/><circle cx="185.3" cy="279.8" r="0.6"/><circle cx="219.2" cy="266.8" r="0.9"/><circle cx="204.2" cy="316.1" r="0.8"/><circle cx="231.7" cy="282.7" r="0.7"/><circle cx="179.6" cy="287.7" r="0.7"/><circle cx="198.8" cy="266.8" r="1.1"/><circle cx="186.4" cy="298.5" r="0.5"/><circle cx="197.9" cy="298.7" r="0.6"/><circle cx="180.8" cy="296.8" r="0.7"/><circle cx="197.6" cy="287.8" r="0.4"/><circle cx="192.2" cy="299.5" r="0.8"/><circle cx="196.4" cy="285.6" r="1.2"/><circle cx="189.5" cy="286.1" r="0.6"/><circle cx="198.2" cy="267.9" r="1.1"/><circle cx="208.0" cy="310.2" r="0.7"/><circle cx="232.4" cy="282.5" r="0.6"/><circle cx="226.8" cy="304.2" r="1.0"/><circle cx="195.1" cy="280.5" r="0.6"/><circle cx="212.3" cy="287.3" r="0.5"/><circle cx="187.1" cy="277.4" r="0.8"/><circle cx="191.5" cy="294.4" r="0.6"/><circle cx="204.7" cy="315.7" r="0.8"/><circle cx="181.0" cy="281.4" r="0.7"/><circle cx="192.0" cy="274.7" r="0.5"/><circle cx="183.1" cy="297.3" r="0.8"/><circle cx="214.6" cy="267.6" r="0.6"/><circle cx="230.2" cy="273.4" r="1.3"/><circle cx="200.3" cy="272.3" r="0.6"/><circle cx="200.8" cy="268.6" r="0.8"/><circle cx="223.6" cy="275.2" r="0.7"/><circle cx="203.5" cy="280.2" r="0.5"/><circle cx="200.9" cy="278.5" r="0.5"/><circle cx="203.8" cy="309.5" r="0.7"/><circle cx="192.6" cy="267.8" r="0.6"/><circle cx="200.3" cy="277.2" r="0.8"/><circle cx="213.4" cy="282.9" r="0.5"/><circle cx="223.6" cy="304.7" r="0.5"/><circle cx="191.4" cy="274.6" r="0.6"/><circle cx="188.9" cy="270.8" r="0.7"/><circle cx="217.3" cy="270.4" r="0.4"/><circle cx="225.1" cy="297.6" r="0.5"/><circle cx="223.1" cy="284.1" r="0.6"/><circle cx="219.2" cy="285.9" r="1.2"/><circle cx="197.0" cy="301.0" r="1.4"/><circle cx="187.3" cy="295.9" r="1.4"/><circle cx="227.1" cy="303.0" r="1.1"/><circle cx="195.1" cy="313.3" r="0.7"/><circle cx="221.9" cy="290.6" r="0.5"/><circle cx="222.4" cy="291.5" r="0.6"/><circle cx="196.2" cy="298.9" r="0.6"/><circle cx="216.6" cy="307.1" r="0.6"/><circle cx="206.8" cy="268.5" r="1.4"/><circle cx="219.8" cy="298.8" r="0.6"/><circle cx="214.6" cy="314.2" r="0.6"/><circle cx="199.9" cy="281.3" r="0.5"/><circle cx="184.0" cy="281.5" r="0.8"/><circle cx="222.9" cy="300.9" r="0.5"/><circle cx="227.2" cy="281.0" r="0.4"/><circle cx="189.4" cy="303.6" r="0.6"/><circle cx="224.0" cy="268.3" r="0.7"/><circle cx="198.3" cy="287.0" r="0.7"/><circle cx="219.0" cy="279.2" r="0.4"/><circle cx="192.0" cy="288.0" r="0.6"/><circle cx="189.8" cy="282.1" r="0.7"/><circle cx="205.7" cy="300.8" r="1.0"/><circle cx="189.6" cy="297.4" r="0.8"/><circle cx="206.9" cy="303.8" r="0.4"/><circle cx="204.3" cy="283.8" r="0.6"/><circle cx="186.5" cy="307.4" r="0.4"/><circle cx="219.2" cy="296.9" r="0.7"/><circle cx="191.4" cy="309.7" r="0.9"/><circle cx="188.8" cy="278.8" r="0.5"/><circle cx="226.9" cy="274.6" r="0.6"/><circle cx="213.2" cy="309.2" r="0.4"/><circle cx="200.2" cy="302.1" r="1.3"/><circle cx="201.6" cy="279.4" r="0.8"/><circle cx="211.7" cy="289.6" r="0.8"/><circle cx="188.3" cy="281.6" r="0.6"/><circle cx="227.2" cy="276.2" r="0.6"/><circle cx="227.0" cy="270.9" r="0.5"/><circle cx="199.0" cy="315.4" r="0.4"/><circle cx="189.1" cy="285.5" r="0.5"/><circle cx="224.7" cy="276.6" r="0.5"/><circle cx="224.4" cy="274.0" r="0.6"/><circle cx="228.4" cy="280.2" r="0.5"/><circle cx="193.4" cy="292.0" r="0.5"/><circle cx="223.6" cy="296.2" r="1.2"/><circle cx="230.9" cy="303.6" r="0.5"/><circle cx="193.0" cy="283.2" r="0.5"/><circle cx="213.2" cy="285.2" r="1.3"/><circle cx="202.4" cy="274.2" r="0.5"/><circle cx="192.8" cy="287.2" r="0.7"/><circle cx="216.4" cy="275.9" r="0.6"/><circle cx="222.2" cy="273.7" r="0.8"/><circle cx="192.5" cy="298.1" r="0.6"/><circle cx="182.8" cy="283.1" r="0.6"/><circle cx="199.9" cy="275.5" r="0.4"/><circle cx="203.2" cy="262.0" r="0.8"/><circle cx="208.3" cy="278.5" r="0.8"/><circle cx="229.3" cy="305.0" r="0.5"/><circle cx="214.3" cy="312.1" r="0.4"/></g>
<line x1="290.5" y1="195.2" x2="290.5" y2="307.6" stroke="#1a1a1a" stroke-width="1.2"/>
<line x1="289.4" y1="307.5" x2="390.3" y2="307.5" stroke="#1a1a1a" stroke-width="1.2"/>
<line x1="286.6" y1="307.5" x2="290.0" y2="307.5" stroke="#1a1a1a" stroke-width="1.2"/>
<text x="286.3" y="310.5" font-size="9.8" text-anchor="end">0</text>
<line x1="286.6" y1="269.5" x2="290.0" y2="269.5" stroke="#1a1a1a" stroke-width="1.2"/>
<text x="286.3" y="273.4" font-size="9.8" text-anchor="end">100</text>
<line x1="286.6" y1="232.5" x2="290.0" y2="232.5" stroke="#1a1a1a" stroke-width="1.2"/>
<text x="286.3" y="236.2" font-size="9.8" text-anchor="end">200</text>
<line x1="286.6" y1="195.5" x2="290.0" y2="195.5" stroke="#1a1a1a" stroke-width="1.2"/>
<text x="286.3" y="199.1" font-size="9.8" text-anchor="end">300</text>
<text x="263.8" y="250.0" font-size="9.5" text-anchor="middle" transform="rotate(-90 263.8 250)">Colony numbers</text>
<rect x="296.5" y="274.3" width="10.0" height="32.7" fill="#c3c3c3" stroke="#111" stroke-width="1.1"/>
<line x1="301.5" y1="272.1" x2="301.5" y2="274.3" stroke="#1a1a1a" stroke-width="1.1"/>
<line x1="299.0" y1="272.5" x2="304.0" y2="272.5" stroke="#1a1a1a" stroke-width="1.1"/>
<line x1="299.0" y1="276.5" x2="304.0" y2="276.5" stroke="#1a1a1a" stroke-width="1.1"/>
<rect x="310.2" y="249.4" width="10.0" height="57.6" fill="#ebb27e" stroke="#111" stroke-width="1.1"/>
<line x1="315.5" y1="246.0" x2="315.5" y2="249.4" stroke="#1a1a1a" stroke-width="1.1"/>
<line x1="312.7" y1="245.5" x2="317.7" y2="245.5" stroke="#1a1a1a" stroke-width="1.1"/>
<line x1="312.7" y1="252.5" x2="317.7" y2="252.5" stroke="#1a1a1a" stroke-width="1.1"/>
<text x="315.2" y="246.6" font-size="8.8" text-anchor="middle">**</text>
<rect x="323.5" y="251.3" width="10.0" height="55.7" fill="#5a7da8" stroke="#111" stroke-width="1.1"/>
<line x1="328.5" y1="249.8" x2="328.5" y2="251.3" stroke="#1a1a1a" stroke-width="1.1"/>
<line x1="326.0" y1="249.5" x2="331.0" y2="249.5" stroke="#1a1a1a" stroke-width="1.1"/>
<line x1="326.0" y1="252.5" x2="331.0" y2="252.5" stroke="#1a1a1a" stroke-width="1.1"/>
<text x="328.5" y="250.4" font-size="8.8" text-anchor="middle">***</text>
<rect x="348.0" y="267.3" width="10.0" height="39.7" fill="#c3c3c3" stroke="#111" stroke-width="1.1"/>
<line x1="353.5" y1="265.8" x2="353.5" y2="267.3" stroke="#1a1a1a" stroke-width="1.1"/>
<line x1="350.5" y1="265.5" x2="355.5" y2="265.5" stroke="#1a1a1a" stroke-width="1.1"/>
<line x1="350.5" y1="268.5" x2="355.5" y2="268.5" stroke="#1a1a1a" stroke-width="1.1"/>
<rect x="361.4" y="240.2" width="10.0" height="66.8" fill="#ebb27e" stroke="#111" stroke-width="1.1"/>
<line x1="366.5" y1="238.3" x2="366.5" y2="240.2" stroke="#1a1a1a" stroke-width="1.1"/>
<line x1="363.9" y1="238.5" x2="368.9" y2="238.5" stroke="#1a1a1a" stroke-width="1.1"/>
<line x1="363.9" y1="242.5" x2="368.9" y2="242.5" stroke="#1a1a1a" stroke-width="1.1"/>
<text x="366.4" y="238.9" font-size="8.8" text-anchor="middle">**</text>
<rect x="374.6" y="238.3" width="10.0" height="68.7" fill="#5a7da8" stroke="#111" stroke-width="1.1"/>
<line x1="379.5" y1="235.9" x2="379.5" y2="238.3" stroke="#1a1a1a" stroke-width="1.1"/>
<line x1="377.1" y1="235.5" x2="382.1" y2="235.5" stroke="#1a1a1a" stroke-width="1.1"/>
<line x1="377.1" y1="240.5" x2="382.1" y2="240.5" stroke="#1a1a1a" stroke-width="1.1"/>
<text x="379.6" y="236.5" font-size="8.8" text-anchor="middle">**</text>
<line x1="315.5" y1="307.0" x2="315.5" y2="310.0" stroke="#1a1a1a" stroke-width="1.1"/>
<line x1="366.5" y1="307.0" x2="366.5" y2="310.0" stroke="#1a1a1a" stroke-width="1.1"/>
<text x="315.0" y="321.0" font-size="9.8" text-anchor="middle">MCF7</text>
<text x="366.3" y="321.0" font-size="9.8" text-anchor="middle">T47D</text>
<rect x="301.3" y="188.8" width="13.0" height="7.0" fill="#c3c3c3" stroke="#111" stroke-width="1.1"/>
<text x="321.4" y="195.8" font-size="9.8">Ctrl</text>
<rect x="301.3" y="200.9" width="13.0" height="7.0" fill="#ebb27e" stroke="#111" stroke-width="1.1"/>
<text x="321.4" y="207.9" font-size="9.8">NR4A1-KO1</text>
<rect x="301.3" y="212.9" width="13.0" height="7.0" fill="#5a7da8" stroke="#111" stroke-width="1.1"/>
<text x="321.4" y="219.9" font-size="9.8">NR4A1-KO2</text>
<text x="412.0" y="173.0" font-size="17" font-weight="bold" class="b">d</text>
<path d="M470.00,238.40 L470.00,238.40 C471.67,238.30 477.50,238.07 480.00,237.80 C482.50,237.53 483.22,238.32 485.00,236.80 C486.78,235.28 489.35,231.93 490.70,228.70 C492.05,225.47 492.30,221.98 493.10,217.40 C493.90,212.82 494.77,205.70 495.50,201.20 C496.23,196.70 496.82,192.10 497.50,190.40 C498.18,188.70 498.85,189.60 499.60,191.00 C500.35,192.40 501.20,195.35 502.00,198.80 C502.80,202.25 503.60,207.93 504.40,211.70 C505.20,215.47 506.12,218.90 506.80,221.40 C507.48,223.90 507.82,225.75 508.50,226.70 C509.18,227.65 510.10,227.45 510.90,227.10 C511.70,226.75 512.50,225.82 513.30,224.60 C514.10,223.38 514.88,221.07 515.70,219.80 C516.52,218.53 517.38,217.13 518.20,217.00 C519.02,216.87 519.80,217.58 520.60,219.00 C521.40,220.42 522.18,223.35 523.00,225.50 C523.82,227.65 524.68,230.15 525.50,231.90 C526.32,233.65 527.15,235.05 527.90,236.00 C528.65,236.95 528.98,237.20 530.00,237.60 C531.02,238.00 533.33,238.27 534.00,238.40 L534.00,238.40Z" fill="#c3c3c3" fill-opacity="1.0" stroke="#858585" stroke-width="0.8" stroke-linejoin="round"/>
<line x1="436.5" y1="238.5" x2="542.3" y2="238.5" stroke="#858585" stroke-width="0.8"/>
<path d="M438.00,264.60 L438.00,264.60 C443.00,264.52 461.00,264.30 468.00,264.10 C475.00,263.90 476.67,263.73 480.00,263.40 C483.33,263.07 486.00,262.82 488.00,262.10 C490.00,261.38 490.72,260.85 492.00,259.10 C493.28,257.35 494.53,255.68 495.70,251.60 C496.87,247.52 498.03,239.60 499.00,234.60 C499.97,229.60 500.68,224.77 501.50,221.60 C502.32,218.43 503.15,215.93 503.90,215.60 C504.65,215.27 505.23,216.43 506.00,219.60 C506.77,222.77 507.60,229.93 508.50,234.60 C509.40,239.27 510.65,244.43 511.40,247.60 C512.15,250.77 512.45,252.32 513.00,253.60 C513.55,254.88 514.03,255.22 514.70,255.30 C515.37,255.38 516.20,255.05 517.00,254.10 C517.80,253.15 518.67,251.52 519.50,249.60 C520.33,247.68 521.25,244.20 522.00,242.60 C522.75,241.00 523.37,240.00 524.00,240.00 C524.63,240.00 525.22,241.17 525.80,242.60 C526.38,244.03 527.08,247.10 527.50,248.60 C527.92,250.10 527.80,249.93 528.30,251.60 C528.80,253.27 529.73,256.87 530.50,258.60 C531.27,260.33 531.98,261.08 532.90,262.00 C533.82,262.92 534.48,263.67 536.00,264.10 C537.52,264.53 541.00,264.52 542.00,264.60 L542.00,264.60Z" fill="#dd7c05" fill-opacity="0.38" stroke="#f09a52" stroke-width="0.8" stroke-linejoin="round"/>
<line x1="436.5" y1="264.5" x2="542.3" y2="264.5" stroke="#f09a52" stroke-width="0.8"/>
<path d="M486.00,291.70 L486.00,291.70 C486.67,291.53 488.83,291.20 490.00,290.70 C491.17,290.20 492.17,289.48 493.00,288.70 C493.83,287.92 494.25,287.50 495.00,286.00 C495.75,284.50 496.67,282.25 497.50,279.70 C498.33,277.15 499.17,275.03 500.00,270.70 C500.83,266.37 501.80,257.73 502.50,253.70 C503.20,249.67 503.62,247.17 504.20,246.50 C504.78,245.83 505.37,247.17 506.00,249.70 C506.63,252.23 507.35,258.20 508.00,261.70 C508.65,265.20 509.23,267.87 509.90,270.70 C510.57,273.53 511.32,276.62 512.00,278.70 C512.68,280.78 513.33,282.12 514.00,283.20 C514.67,284.28 515.25,285.03 516.00,285.20 C516.75,285.37 517.67,284.95 518.50,284.20 C519.33,283.45 520.17,282.28 521.00,280.70 C521.83,279.12 522.75,276.62 523.50,274.70 C524.25,272.78 524.83,270.58 525.50,269.20 C526.17,267.82 526.83,266.15 527.50,266.40 C528.17,266.65 528.80,268.65 529.50,270.70 C530.20,272.75 531.03,276.20 531.70,278.70 C532.37,281.20 532.78,283.70 533.50,285.70 C534.22,287.70 535.08,289.70 536.00,290.70 C536.92,291.70 538.50,291.53 539.00,291.70 L539.00,291.70Z" fill="#0a52b6" fill-opacity="0.55" stroke="#2a5cbc" stroke-width="0.8" stroke-linejoin="round"/>
<line x1="436.5" y1="291.5" x2="542.3" y2="291.5" stroke="#2a5cbc" stroke-width="0.8"/>
<line x1="514.5" y1="184.6" x2="514.5" y2="291.7" stroke="#333" stroke-width="0.9" stroke-dasharray="3.2,2.2"/>
<rect x="436.5" y="184.6" width="105.8" height="107.1" fill="none" stroke="#111" stroke-width="1.3"/>
<text x="438.5" y="233.5" font-size="9.6">Ctrl</text>
<text x="438.5" y="260.0" font-size="9.6">NR4A1-KO1</text>
<text x="438.5" y="287.0" font-size="9.6">NR4A1-KO2</text>
<text x="490.3" y="181.3" font-size="9.8" text-anchor="middle">MCF7</text>
<line x1="436.5" y1="291.7" x2="436.5" y2="294.3" stroke="#1a1a1a" stroke-width="0.7"/>
<text x="441.8" y="299.9" font-size="4.6" text-anchor="middle">10<tspan dy="-1.8" font-size="3.4">0</tspan></text>
<line x1="442.5" y1="291.7" x2="442.5" y2="293.2" stroke="#1a1a1a" stroke-width="0.5"/>
<line x1="445.5" y1="291.7" x2="445.5" y2="293.2" stroke="#1a1a1a" stroke-width="0.5"/>
<line x1="448.5" y1="291.7" x2="448.5" y2="293.2" stroke="#1a1a1a" stroke-width="0.5"/>
<line x1="449.5" y1="291.7" x2="449.5" y2="293.2" stroke="#1a1a1a" stroke-width="0.5"/>
<line x1="451.5" y1="291.7" x2="451.5" y2="293.2" stroke="#1a1a1a" stroke-width="0.5"/>
<line x1="452.5" y1="291.7" x2="452.5" y2="293.2" stroke="#1a1a1a" stroke-width="0.5"/>
<line x1="453.5" y1="291.7" x2="453.5" y2="293.2" stroke="#1a1a1a" stroke-width="0.5"/>
<line x1="454.5" y1="291.7" x2="454.5" y2="293.2" stroke="#1a1a1a" stroke-width="0.5"/>
<line x1="455.5" y1="291.7" x2="455.5" y2="294.3" stroke="#1a1a1a" stroke-width="0.7"/>
<text x="459.6" y="299.9" font-size="4.6" text-anchor="middle">10<tspan dy="-1.8" font-size="3.4">1</tspan></text>
<line x1="461.5" y1="291.7" x2="461.5" y2="293.2" stroke="#1a1a1a" stroke-width="0.5"/>
<line x1="465.5" y1="291.7" x2="465.5" y2="293.2" stroke="#1a1a1a" stroke-width="0.5"/>
<line x1="467.5" y1="291.7" x2="467.5" y2="293.2" stroke="#1a1a1a" stroke-width="0.5"/>
<line x1="469.5" y1="291.7" x2="469.5" y2="293.2" stroke="#1a1a1a" stroke-width="0.5"/>
<line x1="471.5" y1="291.7" x2="471.5" y2="293.2" stroke="#1a1a1a" stroke-width="0.5"/>
<line x1="472.5" y1="291.7" x2="472.5" y2="293.2" stroke="#1a1a1a" stroke-width="0.5"/>
<line x1="473.5" y1="291.7" x2="473.5" y2="293.2" stroke="#1a1a1a" stroke-width="0.5"/>
<line x1="474.5" y1="291.7" x2="474.5" y2="293.2" stroke="#1a1a1a" stroke-width="0.5"/>
<line x1="475.5" y1="291.7" x2="475.5" y2="294.3" stroke="#1a1a1a" stroke-width="0.7"/>
<text x="479.2" y="299.9" font-size="4.6" text-anchor="middle">10<tspan dy="-1.8" font-size="3.4">2</tspan></text>
<line x1="481.5" y1="291.7" x2="481.5" y2="293.2" stroke="#1a1a1a" stroke-width="0.5"/>
<line x1="484.5" y1="291.7" x2="484.5" y2="293.2" stroke="#1a1a1a" stroke-width="0.5"/>
<line x1="487.5" y1="291.7" x2="487.5" y2="293.2" stroke="#1a1a1a" stroke-width="0.5"/>
<line x1="489.5" y1="291.7" x2="489.5" y2="293.2" stroke="#1a1a1a" stroke-width="0.5"/>
<line x1="490.5" y1="291.7" x2="490.5" y2="293.2" stroke="#1a1a1a" stroke-width="0.5"/>
<line x1="491.5" y1="291.7" x2="491.5" y2="293.2" stroke="#1a1a1a" stroke-width="0.5"/>
<line x1="493.5" y1="291.7" x2="493.5" y2="293.2" stroke="#1a1a1a" stroke-width="0.5"/>
<line x1="494.5" y1="291.7" x2="494.5" y2="293.2" stroke="#1a1a1a" stroke-width="0.5"/>
<line x1="495.5" y1="291.7" x2="495.5" y2="294.3" stroke="#1a1a1a" stroke-width="0.7"/>
<text x="498.8" y="299.9" font-size="4.6" text-anchor="middle">10<tspan dy="-1.8" font-size="3.4">3</tspan></text>
<line x1="500.5" y1="291.7" x2="500.5" y2="293.2" stroke="#1a1a1a" stroke-width="0.5"/>
<line x1="504.5" y1="291.7" x2="504.5" y2="293.2" stroke="#1a1a1a" stroke-width="0.5"/>
<line x1="506.5" y1="291.7" x2="506.5" y2="293.2" stroke="#1a1a1a" stroke-width="0.5"/>
<line x1="508.5" y1="291.7" x2="508.5" y2="293.2" stroke="#1a1a1a" stroke-width="0.5"/>
<line x1="510.5" y1="291.7" x2="510.5" y2="293.2" stroke="#1a1a1a" stroke-width="0.5"/>
<line x1="511.5" y1="291.7" x2="511.5" y2="293.2" stroke="#1a1a1a" stroke-width="0.5"/>
<line x1="512.5" y1="291.7" x2="512.5" y2="293.2" stroke="#1a1a1a" stroke-width="0.5"/>
<line x1="513.5" y1="291.7" x2="513.5" y2="293.2" stroke="#1a1a1a" stroke-width="0.5"/>
<line x1="514.5" y1="291.7" x2="514.5" y2="294.3" stroke="#1a1a1a" stroke-width="0.7"/>
<text x="518.4" y="299.9" font-size="4.6" text-anchor="middle">10<tspan dy="-1.8" font-size="3.4">4</tspan></text>
<line x1="520.5" y1="291.7" x2="520.5" y2="293.2" stroke="#1a1a1a" stroke-width="0.5"/>
<line x1="523.5" y1="291.7" x2="523.5" y2="293.2" stroke="#1a1a1a" stroke-width="0.5"/>
<line x1="526.5" y1="291.7" x2="526.5" y2="293.2" stroke="#1a1a1a" stroke-width="0.5"/>
<line x1="528.5" y1="291.7" x2="528.5" y2="293.2" stroke="#1a1a1a" stroke-width="0.5"/>
<line x1="529.5" y1="291.7" x2="529.5" y2="293.2" stroke="#1a1a1a" stroke-width="0.5"/>
<line x1="531.5" y1="291.7" x2="531.5" y2="293.2" stroke="#1a1a1a" stroke-width="0.5"/>
<line x1="532.5" y1="291.7" x2="532.5" y2="293.2" stroke="#1a1a1a" stroke-width="0.5"/>
<line x1="533.5" y1="291.7" x2="533.5" y2="293.2" stroke="#1a1a1a" stroke-width="0.5"/>
<line x1="534.5" y1="291.7" x2="534.5" y2="294.3" stroke="#1a1a1a" stroke-width="0.7"/>
<text x="538.0" y="299.9" font-size="4.6" text-anchor="middle">10<tspan dy="-1.8" font-size="3.4">5</tspan></text>
<line x1="437.0" y1="306.0" x2="534.3" y2="306.0" stroke="#1a1a1a" stroke-width="1.7"/>
<path d="M531.3,302.2 L539.3,306.0 L531.3,309.8Z" fill="#111"/>
<text x="492.4" y="320.2" font-size="9.2" text-anchor="middle">Fluorescence Intensity (Edu)</text>
<text x="0.8" y="351.2" font-size="17" font-weight="bold" class="b">e</text>
<path d="M38.00,413.10 L38.00,413.10 C39.02,413.02 42.40,412.93 44.10,412.60 C45.80,412.27 47.00,411.68 48.20,411.10 C49.40,410.52 50.37,410.47 51.30,409.10 C52.23,407.73 53.12,404.70 53.80,402.90 C54.48,401.10 54.80,399.83 55.40,398.30 C56.00,396.77 56.55,395.83 57.40,393.70 C58.25,391.57 59.57,388.40 60.50,385.50 C61.43,382.60 62.23,378.68 63.00,376.30 C63.77,373.92 64.50,372.90 65.10,371.20 C65.70,369.50 66.10,367.03 66.60,366.10 C67.10,365.17 67.42,365.27 68.10,365.60 C68.78,365.93 69.93,367.33 70.70,368.10 C71.47,368.87 72.27,369.70 72.70,370.20 C73.13,370.70 72.95,368.55 73.30,371.10 C73.65,373.65 74.13,381.90 74.80,385.50 C75.47,389.10 76.45,390.15 77.30,392.70 C78.15,395.25 78.95,398.60 79.90,400.80 C80.85,403.00 81.98,405.13 83.00,405.90 C84.02,406.67 84.98,405.82 86.00,405.40 C87.02,404.98 88.25,404.08 89.10,403.40 C89.95,402.72 90.33,401.38 91.10,401.30 C91.87,401.22 92.85,401.95 93.70,402.90 C94.55,403.85 95.27,405.55 96.20,407.00 C97.13,408.45 98.10,410.58 99.30,411.60 C100.50,412.62 102.72,412.85 103.40,413.10 L103.40,413.10Z" fill="#c3c3c3" fill-opacity="1.0" stroke="#858585" stroke-width="0.8" stroke-linejoin="round"/>
<line x1="18.6" y1="413.5" x2="124.6" y2="413.5" stroke="#858585" stroke-width="0.8"/>
<path d="M45.00,440.00 L45.00,440.00 C46.15,439.90 49.98,439.68 51.90,439.40 C53.82,439.12 55.17,439.07 56.50,438.30 C57.83,437.53 58.75,437.10 59.90,434.80 C61.05,432.50 62.33,427.75 63.40,424.50 C64.47,421.25 65.35,418.37 66.30,415.30 C67.25,412.23 68.25,408.60 69.10,406.10 C69.95,403.60 70.72,402.22 71.40,400.30 C72.08,398.38 72.72,394.60 73.20,394.60 C73.68,394.60 73.73,398.58 74.30,400.30 C74.87,402.02 75.73,402.78 76.60,404.90 C77.47,407.02 78.53,410.12 79.50,413.00 C80.47,415.88 81.45,419.52 82.40,422.20 C83.35,424.88 84.15,427.08 85.20,429.10 C86.25,431.12 87.55,433.63 88.70,434.30 C89.85,434.97 90.95,433.58 92.10,433.10 C93.25,432.62 94.45,431.40 95.60,431.40 C96.75,431.40 97.95,432.15 99.00,433.10 C100.05,434.05 100.93,436.00 101.90,437.10 C102.87,438.20 103.75,439.22 104.80,439.70 C105.85,440.18 107.63,439.95 108.20,440.00 L108.20,440.00Z" fill="#dd7c05" fill-opacity="0.38" stroke="#f09a52" stroke-width="0.8" stroke-linejoin="round"/>
<line x1="18.6" y1="440.5" x2="124.6" y2="440.5" stroke="#f09a52" stroke-width="0.8"/>
<path d="M54.00,466.50 L54.00,466.50 C54.42,466.40 55.32,466.77 56.50,465.90 C57.68,465.03 59.85,463.22 61.10,461.30 C62.35,459.38 63.05,457.08 64.00,454.40 C64.95,451.72 65.85,448.27 66.80,445.20 C67.75,442.13 68.83,438.88 69.70,436.00 C70.57,433.12 71.42,430.30 72.00,427.90 C72.58,425.50 72.87,421.40 73.20,421.60 C73.53,421.80 73.62,427.75 74.00,429.10 C74.38,430.45 74.87,428.93 75.50,429.70 C76.13,430.47 76.95,431.88 77.80,433.70 C78.65,435.52 79.75,439.07 80.60,440.60 C81.45,442.13 82.13,441.18 82.90,442.90 C83.67,444.62 84.23,448.42 85.20,450.90 C86.17,453.38 87.35,455.88 88.70,457.80 C90.05,459.72 91.97,461.83 93.30,462.40 C94.63,462.97 95.55,461.97 96.70,461.20 C97.85,460.43 99.15,458.65 100.20,457.80 C101.25,456.95 102.05,455.90 103.00,456.10 C103.95,456.30 104.93,457.57 105.90,459.00 C106.87,460.43 108.03,463.55 108.80,464.70 C109.57,465.85 109.97,465.60 110.50,465.90 C111.03,466.20 111.75,466.40 112.00,466.50 L112.00,466.50Z" fill="#0a52b6" fill-opacity="0.55" stroke="#2a5cbc" stroke-width="0.8" stroke-linejoin="round"/>
<line x1="18.6" y1="466.5" x2="124.6" y2="466.5" stroke="#2a5cbc" stroke-width="0.8"/>
<line x1="96.5" y1="358.7" x2="96.5" y2="466.8" stroke="#333" stroke-width="0.9" stroke-dasharray="3.2,2.2"/>
<rect x="18.6" y="358.7" width="106.0" height="108.1" fill="none" stroke="#111" stroke-width="1.3"/>
<text x="20.5" y="409.0" font-size="9.6">Ctrl</text>
<text x="20.5" y="435.5" font-size="9.6">NR4A1-KO1</text>
<text x="20.5" y="462.5" font-size="9.6">NR4A1-KO2</text>
<text x="72.8" y="352.5" font-size="9.8" text-anchor="middle">T47D</text>
<line x1="17.5" y1="466.8" x2="17.5" y2="469.4" stroke="#1a1a1a" stroke-width="0.7"/>
<text x="23.2" y="475.0" font-size="4.6" text-anchor="middle">10<tspan dy="-1.8" font-size="3.4">0</tspan></text>
<line x1="23.5" y1="466.8" x2="23.5" y2="468.3" stroke="#1a1a1a" stroke-width="0.5"/>
<line x1="26.5" y1="466.8" x2="26.5" y2="468.3" stroke="#1a1a1a" stroke-width="0.5"/>
<line x1="29.5" y1="466.8" x2="29.5" y2="468.3" stroke="#1a1a1a" stroke-width="0.5"/>
<line x1="31.5" y1="466.8" x2="31.5" y2="468.3" stroke="#1a1a1a" stroke-width="0.5"/>
<line x1="32.5" y1="466.8" x2="32.5" y2="468.3" stroke="#1a1a1a" stroke-width="0.5"/>
<line x1="34.5" y1="466.8" x2="34.5" y2="468.3" stroke="#1a1a1a" stroke-width="0.5"/>
<line x1="35.5" y1="466.8" x2="35.5" y2="468.3" stroke="#1a1a1a" stroke-width="0.5"/>
<line x1="36.5" y1="466.8" x2="36.5" y2="468.3" stroke="#1a1a1a" stroke-width="0.5"/>
<line x1="37.5" y1="466.8" x2="37.5" y2="469.4" stroke="#1a1a1a" stroke-width="0.7"/>
<text x="40.8" y="475.0" font-size="4.6" text-anchor="middle">10<tspan dy="-1.8" font-size="3.4">1</tspan></text>
<line x1="42.5" y1="466.8" x2="42.5" y2="468.3" stroke="#1a1a1a" stroke-width="0.5"/>
<line x1="46.5" y1="466.8" x2="46.5" y2="468.3" stroke="#1a1a1a" stroke-width="0.5"/>
<line x1="48.5" y1="466.8" x2="48.5" y2="468.3" stroke="#1a1a1a" stroke-width="0.5"/>
<line x1="50.5" y1="466.8" x2="50.5" y2="468.3" stroke="#1a1a1a" stroke-width="0.5"/>
<line x1="52.5" y1="466.8" x2="52.5" y2="468.3" stroke="#1a1a1a" stroke-width="0.5"/>
<line x1="53.5" y1="466.8" x2="53.5" y2="468.3" stroke="#1a1a1a" stroke-width="0.5"/>
<line x1="54.5" y1="466.8" x2="54.5" y2="468.3" stroke="#1a1a1a" stroke-width="0.5"/>
<line x1="55.5" y1="466.8" x2="55.5" y2="468.3" stroke="#1a1a1a" stroke-width="0.5"/>
<line x1="56.5" y1="466.8" x2="56.5" y2="469.4" stroke="#1a1a1a" stroke-width="0.7"/>
<text x="60.3" y="475.0" font-size="4.6" text-anchor="middle">10<tspan dy="-1.8" font-size="3.4">2</tspan></text>
<line x1="62.5" y1="466.8" x2="62.5" y2="468.3" stroke="#1a1a1a" stroke-width="0.5"/>
<line x1="65.5" y1="466.8" x2="65.5" y2="468.3" stroke="#1a1a1a" stroke-width="0.5"/>
<line x1="68.5" y1="466.8" x2="68.5" y2="468.3" stroke="#1a1a1a" stroke-width="0.5"/>
<line x1="70.5" y1="466.8" x2="70.5" y2="468.3" stroke="#1a1a1a" stroke-width="0.5"/>
<line x1="71.5" y1="466.8" x2="71.5" y2="468.3" stroke="#1a1a1a" stroke-width="0.5"/>
<line x1="72.5" y1="466.8" x2="72.5" y2="468.3" stroke="#1a1a1a" stroke-width="0.5"/>
<line x1="74.5" y1="466.8" x2="74.5" y2="468.3" stroke="#1a1a1a" stroke-width="0.5"/>
<line x1="75.5" y1="466.8" x2="75.5" y2="468.3" stroke="#1a1a1a" stroke-width="0.5"/>
<line x1="75.5" y1="466.8" x2="75.5" y2="469.4" stroke="#1a1a1a" stroke-width="0.7"/>
<text x="79.7" y="475.0" font-size="4.6" text-anchor="middle">10<tspan dy="-1.8" font-size="3.4">3</tspan></text>
<line x1="81.5" y1="466.8" x2="81.5" y2="468.3" stroke="#1a1a1a" stroke-width="0.5"/>
<line x1="85.5" y1="466.8" x2="85.5" y2="468.3" stroke="#1a1a1a" stroke-width="0.5"/>
<line x1="87.5" y1="466.8" x2="87.5" y2="468.3" stroke="#1a1a1a" stroke-width="0.5"/>
<line x1="89.5" y1="466.8" x2="89.5" y2="468.3" stroke="#1a1a1a" stroke-width="0.5"/>
<line x1="91.5" y1="466.8" x2="91.5" y2="468.3" stroke="#1a1a1a" stroke-width="0.5"/>
<line x1="92.5" y1="466.8" x2="92.5" y2="468.3" stroke="#1a1a1a" stroke-width="0.5"/>
<line x1="93.5" y1="466.8" x2="93.5" y2="468.3" stroke="#1a1a1a" stroke-width="0.5"/>
<line x1="94.5" y1="466.8" x2="94.5" y2="468.3" stroke="#1a1a1a" stroke-width="0.5"/>
<line x1="95.5" y1="466.8" x2="95.5" y2="469.4" stroke="#1a1a1a" stroke-width="0.7"/>
<text x="99.2" y="475.0" font-size="4.6" text-anchor="middle">10<tspan dy="-1.8" font-size="3.4">4</tspan></text>
<line x1="101.5" y1="466.8" x2="101.5" y2="468.3" stroke="#1a1a1a" stroke-width="0.5"/>
<line x1="104.5" y1="466.8" x2="104.5" y2="468.3" stroke="#1a1a1a" stroke-width="0.5"/>
<line x1="107.5" y1="466.8" x2="107.5" y2="468.3" stroke="#1a1a1a" stroke-width="0.5"/>
<line x1="108.5" y1="466.8" x2="108.5" y2="468.3" stroke="#1a1a1a" stroke-width="0.5"/>
<line x1="110.5" y1="466.8" x2="110.5" y2="468.3" stroke="#1a1a1a" stroke-width="0.5"/>
<line x1="111.5" y1="466.8" x2="111.5" y2="468.3" stroke="#1a1a1a" stroke-width="0.5"/>
<line x1="112.5" y1="466.8" x2="112.5" y2="468.3" stroke="#1a1a1a" stroke-width="0.5"/>
<line x1="113.5" y1="466.8" x2="113.5" y2="468.3" stroke="#1a1a1a" stroke-width="0.5"/>
<line x1="114.5" y1="466.8" x2="114.5" y2="469.4" stroke="#1a1a1a" stroke-width="0.7"/>
<text x="118.6" y="475.0" font-size="4.6" text-anchor="middle">10<tspan dy="-1.8" font-size="3.4">5</tspan></text>
<line x1="19.1" y1="481.1" x2="116.6" y2="481.1" stroke="#1a1a1a" stroke-width="1.7"/>
<path d="M113.6,477.3 L121.6,481.1 L113.6,484.9Z" fill="#111"/>
<text x="72.4" y="495.3" font-size="9.2" text-anchor="middle">Fluorescence Intensity (Edu)</text>
<line x1="582.5" y1="180.8" x2="582.5" y2="291.6" stroke="#1a1a1a" stroke-width="1.2"/>
<line x1="582.3" y1="291.5" x2="677.6" y2="291.5" stroke="#1a1a1a" stroke-width="1.2"/>
<line x1="578.9" y1="291.5" x2="582.9" y2="291.5" stroke="#1a1a1a" stroke-width="1.2"/>
<text x="575.5" y="294.5" font-size="9.8" text-anchor="end">0</text>
<line x1="578.9" y1="254.5" x2="582.9" y2="254.5" stroke="#1a1a1a" stroke-width="1.2"/>
<text x="575.5" y="257.9" font-size="9.8" text-anchor="end">5</text>
<line x1="578.9" y1="217.5" x2="582.9" y2="217.5" stroke="#1a1a1a" stroke-width="1.2"/>
<text x="575.5" y="221.4" font-size="9.8" text-anchor="end">10</text>
<line x1="578.9" y1="181.5" x2="582.9" y2="181.5" stroke="#1a1a1a" stroke-width="1.2"/>
<text x="575.5" y="184.8" font-size="9.8" text-anchor="end">15</text>
<rect x="592.2" y="236.4" width="18.5" height="54.6" fill="#c3c3c3" stroke="#111" stroke-width="1.2"/>
<line x1="601.5" y1="230.4" x2="601.5" y2="242.3" stroke="#1a1a1a" stroke-width="1.2"/>
<line x1="597.0" y1="230.5" x2="606.0" y2="230.5" stroke="#1a1a1a" stroke-width="1.2"/>
<line x1="597.0" y1="242.5" x2="606.0" y2="242.5" stroke="#1a1a1a" stroke-width="1.2"/>
<line x1="601.5" y1="291.0" x2="601.5" y2="293.5" stroke="#1a1a1a" stroke-width="1.1"/>
<rect x="621.4" y="208.4" width="18.5" height="82.6" fill="#ebb27e" stroke="#111" stroke-width="1.2"/>
<line x1="630.5" y1="205.7" x2="630.5" y2="211.0" stroke="#1a1a1a" stroke-width="1.2"/>
<line x1="626.1" y1="205.5" x2="635.1" y2="205.5" stroke="#1a1a1a" stroke-width="1.2"/>
<line x1="626.1" y1="210.5" x2="635.1" y2="210.5" stroke="#1a1a1a" stroke-width="1.2"/>
<line x1="630.5" y1="291.0" x2="630.5" y2="293.5" stroke="#1a1a1a" stroke-width="1.1"/>
<rect x="650.0" y="200.0" width="18.5" height="91.0" fill="#5a7da8" stroke="#111" stroke-width="1.2"/>
<line x1="659.5" y1="190.6" x2="659.5" y2="209.3" stroke="#1a1a1a" stroke-width="1.2"/>
<line x1="654.7" y1="190.5" x2="663.7" y2="190.5" stroke="#1a1a1a" stroke-width="1.2"/>
<line x1="654.7" y1="209.5" x2="663.7" y2="209.5" stroke="#1a1a1a" stroke-width="1.2"/>
<line x1="659.5" y1="291.0" x2="659.5" y2="293.5" stroke="#1a1a1a" stroke-width="1.1"/>
<line x1="601.2" y1="186.5" x2="659.0" y2="186.5" stroke="#1a1a1a" stroke-width="1.2"/>
<text x="630.1" y="182.7" font-size="8.5" text-anchor="middle">*</text>
<line x1="601.2" y1="199.5" x2="630.7" y2="199.5" stroke="#1a1a1a" stroke-width="1.2"/>
<text x="616.0" y="198.6" font-size="8.5" text-anchor="middle">*</text>
<text x="560.5" y="236.0" font-size="9.8" text-anchor="middle" transform="rotate(-90 560.5 236)">EdU (MFI × 1000)</text>
<text x="603.1" y="304.2" font-size="10" text-anchor="end" transform="rotate(-30 603.1 304.2)">Ctrl</text>
<text x="632.2" y="304.2" font-size="10" text-anchor="end" transform="rotate(-30 632.2 304.2)">NR4A1-KO1</text>
<text x="660.8" y="304.2" font-size="10" text-anchor="end" transform="rotate(-30 660.8000000000001 304.2)">NR4A1-KO2</text>
<line x1="164.5" y1="360.8" x2="164.5" y2="470.3" stroke="#1a1a1a" stroke-width="1.2"/>
<line x1="163.4" y1="469.5" x2="257.0" y2="469.5" stroke="#1a1a1a" stroke-width="1.2"/>
<line x1="160.0" y1="469.5" x2="164.0" y2="469.5" stroke="#1a1a1a" stroke-width="1.2"/>
<text x="157.6" y="473.2" font-size="9.8" text-anchor="end">0</text>
<line x1="160.0" y1="448.5" x2="164.0" y2="448.5" stroke="#1a1a1a" stroke-width="1.2"/>
<text x="157.6" y="451.5" font-size="9.8" text-anchor="end">1</text>
<line x1="160.0" y1="426.5" x2="164.0" y2="426.5" stroke="#1a1a1a" stroke-width="1.2"/>
<text x="157.6" y="429.8" font-size="9.8" text-anchor="end">2</text>
<line x1="160.0" y1="404.5" x2="164.0" y2="404.5" stroke="#1a1a1a" stroke-width="1.2"/>
<text x="157.6" y="408.2" font-size="9.8" text-anchor="end">3</text>
<line x1="160.0" y1="382.5" x2="164.0" y2="382.5" stroke="#1a1a1a" stroke-width="1.2"/>
<text x="157.6" y="386.5" font-size="9.8" text-anchor="end">4</text>
<line x1="160.0" y1="361.5" x2="164.0" y2="361.5" stroke="#1a1a1a" stroke-width="1.2"/>
<text x="157.6" y="364.8" font-size="9.8" text-anchor="end">5</text>
<rect x="173.3" y="446.9" width="18.0" height="22.8" fill="#c3c3c3" stroke="#111" stroke-width="1.2"/>
<line x1="182.5" y1="445.9" x2="182.5" y2="448.0" stroke="#1a1a1a" stroke-width="1.2"/>
<line x1="177.8" y1="445.5" x2="186.8" y2="445.5" stroke="#1a1a1a" stroke-width="1.2"/>
<line x1="177.8" y1="448.5" x2="186.8" y2="448.5" stroke="#1a1a1a" stroke-width="1.2"/>
<line x1="182.5" y1="469.7" x2="182.5" y2="472.2" stroke="#1a1a1a" stroke-width="1.1"/>
<rect x="201.5" y="426.1" width="18.0" height="43.6" fill="#ebb27e" stroke="#111" stroke-width="1.2"/>
<line x1="210.5" y1="420.5" x2="210.5" y2="431.8" stroke="#1a1a1a" stroke-width="1.2"/>
<line x1="206.0" y1="420.5" x2="215.0" y2="420.5" stroke="#1a1a1a" stroke-width="1.2"/>
<line x1="206.0" y1="431.5" x2="215.0" y2="431.5" stroke="#1a1a1a" stroke-width="1.2"/>
<line x1="210.5" y1="469.7" x2="210.5" y2="472.2" stroke="#1a1a1a" stroke-width="1.1"/>
<rect x="229.9" y="399.0" width="18.0" height="70.7" fill="#5a7da8" stroke="#111" stroke-width="1.2"/>
<line x1="238.5" y1="392.7" x2="238.5" y2="405.3" stroke="#1a1a1a" stroke-width="1.2"/>
<line x1="234.4" y1="392.5" x2="243.4" y2="392.5" stroke="#1a1a1a" stroke-width="1.2"/>
<line x1="234.4" y1="405.5" x2="243.4" y2="405.5" stroke="#1a1a1a" stroke-width="1.2"/>
<line x1="238.5" y1="469.7" x2="238.5" y2="472.2" stroke="#1a1a1a" stroke-width="1.1"/>
<line x1="181.5" y1="373.5" x2="239.0" y2="373.5" stroke="#1a1a1a" stroke-width="1.2"/>
<text x="210.2" y="372.0" font-size="8.5" text-anchor="middle">***</text>
<line x1="182.8" y1="385.5" x2="212.0" y2="385.5" stroke="#1a1a1a" stroke-width="1.2"/>
<text x="197.4" y="384.0" font-size="8.5" text-anchor="middle">*</text>
<text x="140.5" y="415.0" font-size="9.8" text-anchor="middle" transform="rotate(-90 140.5 415)">EdU (MFI × 1000)</text>
<text x="183.9" y="482.9" font-size="10" text-anchor="end" transform="rotate(-30 183.9 482.9)">Ctrl</text>
<text x="212.1" y="482.9" font-size="10" text-anchor="end" transform="rotate(-30 212.1 482.9)">NR4A1-KO1</text>
<text x="240.5" y="482.9" font-size="10" text-anchor="end" transform="rotate(-30 240.5 482.9)">NR4A1-KO2</text>
<text x="267.0" y="351.8" font-size="17" font-weight="bold" class="b">f</text>
<text x="401.5" y="385.0" font-size="9.4" text-anchor="middle">MCF7</text>
<text x="325.8" y="404.6" font-size="9.2" text-anchor="end">Ctrl</text>
<text x="325.8" y="431.8" font-size="9.2" text-anchor="end">NR4A1-KO1</text>
<rect x="330.3" y="391.4" width="135.5" height="62.4" fill="#4590d8"/>
<clipPath id="cpf"><rect x="330.3" y="391.4" width="135.5" height="62.4"/></clipPath><g clip-path="url(#cpf)"><circle cx="414.7" cy="437.7" r="0.9" fill="#5a9fe2"/><circle cx="444.2" cy="439.8" r="0.5" fill="#5a9fe2"/><circle cx="452.4" cy="398.5" r="0.7" fill="#3f86cf"/><circle cx="381.9" cy="397.8" r="0.5" fill="#3f86cf"/><circle cx="385.6" cy="402.8" r="0.9" fill="#3c83cc"/><circle cx="351.9" cy="441.1" r="0.5" fill="#3c83cc"/><circle cx="347.5" cy="391.5" r="0.9" fill="#3f86cf"/><circle cx="435.1" cy="451.3" r="0.5" fill="#3f86cf"/><circle cx="369.5" cy="451.4" r="0.7" fill="#3f86cf"/><circle cx="354.9" cy="451.8" r="0.5" fill="#3c83cc"/><circle cx="370.8" cy="413.9" r="0.5" fill="#3f86cf"/><circle cx="366.0" cy="412.1" r="0.9" fill="#5a9fe2"/><circle cx="411.1" cy="435.6" r="0.4" fill="#559be0"/><circle cx="441.2" cy="421.4" r="0.6" fill="#3c83cc"/><circle cx="394.3" cy="402.4" r="0.6" fill="#5a9fe2"/><circle cx="458.9" cy="413.7" r="0.6" fill="#3c83cc"/><circle cx="379.9" cy="427.5" r="0.4" fill="#5a9fe2"/><circle cx="426.2" cy="430.3" r="1.0" fill="#5a9fe2"/><circle cx="432.7" cy="449.4" r="1.0" fill="#559be0"/><circle cx="399.7" cy="447.1" r="0.6" fill="#3c83cc"/><circle cx="344.9" cy="438.1" r="0.9" fill="#559be0"/><circle cx="335.3" cy="450.4" r="0.5" fill="#559be0"/><circle cx="399.8" cy="414.0" r="0.5" fill="#559be0"/><circle cx="455.5" cy="425.4" r="0.6" fill="#559be0"/><circle cx="371.8" cy="441.2" r="0.8" fill="#559be0"/><circle cx="465.4" cy="401.5" r="0.4" fill="#3c83cc"/><circle cx="334.6" cy="437.6" r="0.6" fill="#559be0"/><circle cx="392.0" cy="417.7" r="0.4" fill="#5a9fe2"/><circle cx="438.9" cy="412.3" r="0.5" fill="#3f86cf"/><circle cx="415.7" cy="440.6" r="0.5" fill="#3c83cc"/><circle cx="380.8" cy="395.1" r="0.7" fill="#3f86cf"/><circle cx="391.7" cy="453.8" r="0.9" fill="#3c83cc"/><circle cx="460.4" cy="434.4" r="0.6" fill="#559be0"/><circle cx="369.7" cy="416.6" r="0.5" fill="#3c83cc"/><circle cx="441.7" cy="424.6" r="0.5" fill="#3c83cc"/><circle cx="447.9" cy="402.6" r="0.7" fill="#559be0"/><circle cx="338.9" cy="441.0" r="0.6" fill="#5a9fe2"/><circle cx="433.2" cy="414.1" r="0.8" fill="#559be0"/><circle cx="443.5" cy="407.9" r="1.0" fill="#559be0"/><circle cx="460.0" cy="412.6" r="0.5" fill="#5a9fe2"/><circle cx="394.6" cy="439.7" r="0.6" fill="#559be0"/><circle cx="393.0" cy="442.4" r="0.8" fill="#559be0"/><circle cx="377.4" cy="431.6" r="0.8" fill="#3c83cc"/><circle cx="377.7" cy="444.0" r="0.9" fill="#3c83cc"/><circle cx="462.6" cy="451.1" r="0.7" fill="#3f86cf"/><circle cx="357.2" cy="414.0" r="0.9" fill="#559be0"/><circle cx="424.0" cy="436.3" r="0.8" fill="#3f86cf"/><circle cx="413.9" cy="449.8" r="0.7" fill="#3c83cc"/><circle cx="371.3" cy="425.9" r="0.9" fill="#559be0"/><circle cx="427.9" cy="393.1" r="0.5" fill="#3c83cc"/><circle cx="414.9" cy="402.7" r="0.9" fill="#3f86cf"/><circle cx="415.8" cy="394.0" r="0.7" fill="#3f86cf"/><circle cx="352.8" cy="447.0" r="0.5" fill="#3f86cf"/><circle cx="395.7" cy="425.6" r="0.6" fill="#559be0"/><circle cx="381.8" cy="429.6" r="0.8" fill="#3f86cf"/><circle cx="427.6" cy="414.7" r="0.6" fill="#559be0"/><circle cx="446.3" cy="445.5" r="0.8" fill="#559be0"/><circle cx="461.0" cy="425.7" r="0.6" fill="#559be0"/><circle cx="404.2" cy="412.6" r="0.7" fill="#559be0"/><circle cx="441.2" cy="417.6" r="0.9" fill="#559be0"/><circle cx="393.6" cy="401.2" r="0.6" fill="#3c83cc"/><circle cx="460.0" cy="451.8" r="0.8" fill="#559be0"/><circle cx="441.6" cy="432.7" r="0.6" fill="#559be0"/><circle cx="407.0" cy="429.8" r="0.5" fill="#3c83cc"/><circle cx="388.5" cy="452.3" r="0.7" fill="#3c83cc"/><circle cx="462.1" cy="415.1" r="1.0" fill="#3f86cf"/><circle cx="411.0" cy="407.6" r="1.0" fill="#3c83cc"/><circle cx="364.3" cy="392.6" r="1.0" fill="#559be0"/><circle cx="396.9" cy="409.3" r="0.7" fill="#5a9fe2"/><circle cx="419.7" cy="451.4" r="0.5" fill="#5a9fe2"/><circle cx="436.2" cy="443.0" r="0.4" fill="#559be0"/><circle cx="363.3" cy="421.0" r="0.4" fill="#3c83cc"/><circle cx="366.6" cy="401.1" r="1.0" fill="#559be0"/><circle cx="397.0" cy="453.3" r="0.7" fill="#5a9fe2"/><circle cx="332.5" cy="399.3" r="0.6" fill="#559be0"/><circle cx="413.4" cy="437.0" r="0.4" fill="#559be0"/><circle cx="379.2" cy="437.9" r="0.8" fill="#5a9fe2"/><circle cx="330.7" cy="425.9" r="0.8" fill="#5a9fe2"/><circle cx="450.6" cy="425.4" r="0.4" fill="#3c83cc"/><circle cx="410.9" cy="434.4" r="1.0" fill="#3c83cc"/><circle cx="446.7" cy="443.9" r="0.7" fill="#3f86cf"/><circle cx="452.1" cy="420.4" r="0.9" fill="#559be0"/><circle cx="443.6" cy="434.7" r="0.7" fill="#559be0"/><circle cx="418.2" cy="420.9" r="0.6" fill="#3f86cf"/><circle cx="395.1" cy="425.7" r="0.7" fill="#559be0"/><circle cx="403.2" cy="418.0" r="0.7" fill="#5a9fe2"/><circle cx="339.6" cy="405.8" r="0.9" fill="#5a9fe2"/><circle cx="420.2" cy="393.0" r="0.8" fill="#5a9fe2"/><circle cx="465.6" cy="435.2" r="0.4" fill="#5a9fe2"/><circle cx="360.0" cy="431.7" r="1.0" fill="#3f86cf"/><circle cx="465.0" cy="435.4" r="0.7" fill="#3f86cf"/><circle cx="413.0" cy="417.2" r="0.5" fill="#3f86cf"/><circle cx="336.2" cy="398.2" r="0.6" fill="#5a9fe2"/><circle cx="368.2" cy="427.0" r="0.5" fill="#3c83cc"/><circle cx="449.3" cy="399.8" r="0.7" fill="#559be0"/><circle cx="423.2" cy="421.9" r="0.6" fill="#559be0"/><circle cx="454.3" cy="400.0" r="0.6" fill="#559be0"/><circle cx="453.7" cy="426.0" r="0.8" fill="#559be0"/><circle cx="338.9" cy="406.1" r="0.9" fill="#559be0"/><circle cx="400.4" cy="399.7" r="0.5" fill="#559be0"/><circle cx="391.7" cy="415.7" r="0.5" fill="#5a9fe2"/><circle cx="419.1" cy="396.7" r="0.8" fill="#5a9fe2"/><circle cx="447.3" cy="423.0" r="0.7" fill="#3c83cc"/><circle cx="449.1" cy="421.4" r="0.6" fill="#5a9fe2"/><circle cx="403.8" cy="415.4" r="0.9" fill="#3c83cc"/><circle cx="422.6" cy="405.3" r="0.5" fill="#3c83cc"/><circle cx="441.5" cy="400.1" r="0.8" fill="#559be0"/><circle cx="443.6" cy="409.5" r="1.0" fill="#559be0"/><circle cx="438.2" cy="415.0" r="0.8" fill="#559be0"/><circle cx="418.1" cy="441.6" r="0.7" fill="#559be0"/><circle cx="400.4" cy="428.4" r="0.7" fill="#3f86cf"/><circle cx="383.9" cy="397.5" r="0.4" fill="#3f86cf"/><circle cx="356.8" cy="422.0" r="1.0" fill="#559be0"/><circle cx="330.4" cy="420.7" r="0.9" fill="#3c83cc"/><circle cx="374.1" cy="420.2" r="0.5" fill="#3f86cf"/><circle cx="339.9" cy="445.6" r="0.9" fill="#3c83cc"/><circle cx="350.9" cy="407.3" r="0.6" fill="#3f86cf"/><circle cx="432.0" cy="433.3" r="0.4" fill="#5a9fe2"/><circle cx="377.0" cy="438.3" r="0.6" fill="#5a9fe2"/><circle cx="423.5" cy="433.4" r="0.7" fill="#3f86cf"/><circle cx="346.3" cy="433.1" r="0.6" fill="#3f86cf"/><circle cx="429.1" cy="401.6" r="0.5" fill="#5a9fe2"/><circle cx="408.2" cy="432.4" r="0.8" fill="#559be0"/><circle cx="422.5" cy="402.9" r="0.6" fill="#5a9fe2"/><circle cx="429.5" cy="436.2" r="0.5" fill="#3f86cf"/><circle cx="354.1" cy="404.4" r="0.4" fill="#3c83cc"/><circle cx="428.7" cy="408.3" r="0.7" fill="#3c83cc"/><circle cx="435.9" cy="417.0" r="0.4" fill="#559be0"/><circle cx="457.6" cy="436.1" r="0.5" fill="#3c83cc"/><circle cx="342.8" cy="420.8" r="0.8" fill="#5a9fe2"/><circle cx="397.7" cy="440.2" r="0.4" fill="#3c83cc"/><circle cx="390.7" cy="431.4" r="0.9" fill="#3f86cf"/><circle cx="354.6" cy="423.1" r="0.6" fill="#3f86cf"/><circle cx="341.7" cy="411.0" r="0.5" fill="#3f86cf"/><circle cx="411.4" cy="444.9" r="0.5" fill="#5a9fe2"/><circle cx="390.1" cy="413.7" r="0.7" fill="#3c83cc"/><circle cx="401.1" cy="399.7" r="0.4" fill="#559be0"/><circle cx="423.6" cy="447.0" r="1.0" fill="#5a9fe2"/><circle cx="349.1" cy="421.6" r="0.9" fill="#559be0"/><circle cx="441.3" cy="410.9" r="0.5" fill="#5a9fe2"/><circle cx="394.2" cy="434.9" r="0.9" fill="#3f86cf"/><circle cx="367.7" cy="422.1" r="0.5" fill="#3f86cf"/><circle cx="438.2" cy="446.5" r="0.9" fill="#5a9fe2"/><circle cx="387.3" cy="411.0" r="0.9" fill="#5a9fe2"/><circle cx="451.7" cy="432.2" r="0.9" fill="#5a9fe2"/><circle cx="390.2" cy="442.4" r="0.8" fill="#5a9fe2"/><circle cx="428.9" cy="435.2" r="0.6" fill="#3c83cc"/><circle cx="406.4" cy="411.4" r="0.6" fill="#3f86cf"/><circle cx="365.9" cy="433.6" r="0.6" fill="#5a9fe2"/><circle cx="403.8" cy="437.5" r="0.4" fill="#5a9fe2"/><circle cx="337.2" cy="399.5" r="0.6" fill="#559be0"/><circle cx="458.9" cy="429.6" r="0.5" fill="#3c83cc"/><circle cx="347.3" cy="404.0" r="0.6" fill="#3f86cf"/><circle cx="409.5" cy="443.0" r="0.8" fill="#5a9fe2"/><circle cx="366.6" cy="429.2" r="0.8" fill="#3f86cf"/><circle cx="390.8" cy="450.0" r="0.9" fill="#5a9fe2"/><circle cx="375.5" cy="419.2" r="0.5" fill="#3c83cc"/><circle cx="353.5" cy="394.4" r="0.8" fill="#3f86cf"/><circle cx="402.5" cy="451.9" r="0.8" fill="#5a9fe2"/><circle cx="347.5" cy="444.5" r="0.8" fill="#3f86cf"/><circle cx="462.8" cy="393.5" r="0.7" fill="#3c83cc"/><circle cx="425.8" cy="413.5" r="0.7" fill="#3f86cf"/><circle cx="367.8" cy="404.0" r="0.7" fill="#559be0"/><circle cx="433.9" cy="440.4" r="0.6" fill="#3f86cf"/><circle cx="440.6" cy="432.8" r="0.9" fill="#5a9fe2"/><circle cx="414.1" cy="416.4" r="0.5" fill="#3f86cf"/><circle cx="396.7" cy="393.8" r="0.5" fill="#5a9fe2"/><circle cx="432.4" cy="409.0" r="1.0" fill="#559be0"/><circle cx="395.0" cy="420.7" r="0.7" fill="#5a9fe2"/><circle cx="438.8" cy="414.9" r="0.4" fill="#3f86cf"/><circle cx="440.5" cy="392.8" r="0.8" fill="#559be0"/><circle cx="399.9" cy="422.7" r="0.7" fill="#3c83cc"/><circle cx="391.2" cy="440.5" r="0.7" fill="#5a9fe2"/><circle cx="403.0" cy="441.2" r="0.6" fill="#5a9fe2"/><circle cx="422.4" cy="424.0" r="0.6" fill="#5a9fe2"/><circle cx="334.0" cy="439.7" r="0.8" fill="#3c83cc"/><circle cx="371.9" cy="449.4" r="0.6" fill="#3f86cf"/><circle cx="340.1" cy="438.4" r="0.8" fill="#559be0"/><circle cx="451.9" cy="434.3" r="0.9" fill="#3f86cf"/><circle cx="395.8" cy="397.1" r="0.5" fill="#559be0"/><circle cx="462.4" cy="425.3" r="0.6" fill="#5a9fe2"/><circle cx="421.2" cy="415.0" r="0.9" fill="#3f86cf"/><circle cx="453.6" cy="429.7" r="0.6" fill="#5a9fe2"/><circle cx="444.5" cy="446.9" r="0.8" fill="#559be0"/><circle cx="364.0" cy="397.6" r="0.6" fill="#559be0"/><circle cx="438.3" cy="396.3" r="1.0" fill="#5a9fe2"/><circle cx="416.0" cy="439.2" r="0.5" fill="#5a9fe2"/><circle cx="407.5" cy="430.5" r="0.8" fill="#3c83cc"/><circle cx="386.8" cy="417.9" r="0.7" fill="#3f86cf"/><circle cx="371.3" cy="408.9" r="0.8" fill="#559be0"/><circle cx="355.7" cy="393.3" r="0.5" fill="#3f86cf"/><circle cx="389.1" cy="411.7" r="0.5" fill="#559be0"/><circle cx="429.1" cy="395.2" r="0.7" fill="#5a9fe2"/><circle cx="373.4" cy="444.5" r="0.8" fill="#3f86cf"/><circle cx="451.4" cy="429.8" r="0.9" fill="#5a9fe2"/><circle cx="330.5" cy="433.4" r="0.5" fill="#559be0"/><circle cx="350.9" cy="429.8" r="0.5" fill="#3c83cc"/><circle cx="430.1" cy="442.3" r="0.9" fill="#5a9fe2"/><circle cx="379.8" cy="442.2" r="0.5" fill="#559be0"/><circle cx="381.0" cy="420.0" r="0.8" fill="#5a9fe2"/><circle cx="363.6" cy="450.1" r="0.7" fill="#5a9fe2"/><circle cx="346.2" cy="428.7" r="0.6" fill="#5a9fe2"/><circle cx="397.4" cy="451.5" r="1.0" fill="#5a9fe2"/><circle cx="396.8" cy="449.9" r="0.8" fill="#5a9fe2"/><circle cx="346.1" cy="421.3" r="0.6" fill="#3f86cf"/><circle cx="454.7" cy="415.2" r="0.6" fill="#3c83cc"/><circle cx="417.4" cy="439.2" r="0.5" fill="#5a9fe2"/><circle cx="370.4" cy="412.4" r="0.9" fill="#3c83cc"/><circle cx="337.1" cy="417.7" r="0.5" fill="#5a9fe2"/><circle cx="350.1" cy="451.8" r="0.7" fill="#3c83cc"/><circle cx="463.7" cy="425.2" r="0.6" fill="#3f86cf"/><circle cx="342.7" cy="413.6" r="0.9" fill="#5a9fe2"/><circle cx="441.1" cy="400.2" r="0.9" fill="#5a9fe2"/><circle cx="364.3" cy="420.0" r="0.6" fill="#5a9fe2"/><circle cx="337.5" cy="405.0" r="1.0" fill="#3c83cc"/><circle cx="332.0" cy="423.8" r="1.0" fill="#3c83cc"/><circle cx="399.1" cy="394.7" r="0.6" fill="#3c83cc"/><circle cx="446.9" cy="450.0" r="0.8" fill="#5a9fe2"/><circle cx="359.5" cy="417.7" r="0.8" fill="#3c83cc"/><circle cx="454.3" cy="415.0" r="1.0" fill="#3f86cf"/><circle cx="451.1" cy="400.6" r="0.9" fill="#3c83cc"/><circle cx="443.3" cy="396.2" r="0.6" fill="#3c83cc"/><circle cx="387.4" cy="408.3" r="0.7" fill="#559be0"/><circle cx="330.6" cy="430.9" r="0.9" fill="#3c83cc"/><circle cx="340.7" cy="434.3" r="0.4" fill="#3c83cc"/><circle cx="450.3" cy="403.7" r="0.4" fill="#3c83cc"/><circle cx="460.5" cy="428.8" r="0.5" fill="#3f86cf"/><circle cx="340.8" cy="414.2" r="0.8" fill="#5a9fe2"/><circle cx="355.3" cy="418.2" r="0.6" fill="#559be0"/><circle cx="375.6" cy="404.8" r="0.6" fill="#5a9fe2"/><circle cx="368.7" cy="398.0" r="0.6" fill="#559be0"/><circle cx="380.3" cy="421.2" r="0.7" fill="#3f86cf"/><circle cx="461.1" cy="400.2" r="0.4" fill="#5a9fe2"/><circle cx="429.4" cy="399.7" r="0.7" fill="#5a9fe2"/><circle cx="331.4" cy="439.5" r="0.7" fill="#3f86cf"/><circle cx="437.7" cy="394.9" r="0.7" fill="#5a9fe2"/><circle cx="424.1" cy="446.6" r="0.9" fill="#559be0"/><circle cx="389.9" cy="397.8" r="0.5" fill="#559be0"/><circle cx="407.4" cy="408.6" r="0.7" fill="#3c83cc"/><circle cx="464.2" cy="410.2" r="0.5" fill="#5a9fe2"/><circle cx="417.7" cy="394.8" r="0.5" fill="#3c83cc"/><circle cx="343.6" cy="423.4" r="0.9" fill="#559be0"/><circle cx="442.7" cy="400.0" r="0.6" fill="#3c83cc"/><circle cx="330.8" cy="426.6" r="0.7" fill="#5a9fe2"/><circle cx="338.4" cy="396.9" r="0.6" fill="#3f86cf"/><circle cx="381.0" cy="412.7" r="0.9" fill="#3c83cc"/><circle cx="436.5" cy="437.6" r="0.6" fill="#5a9fe2"/><circle cx="415.1" cy="415.6" r="0.8" fill="#3f86cf"/><circle cx="425.4" cy="428.3" r="0.9" fill="#3f86cf"/><circle cx="410.8" cy="426.7" r="0.9" fill="#559be0"/><circle cx="406.3" cy="392.0" r="0.4" fill="#3c83cc"/><circle cx="421.6" cy="431.9" r="0.4" fill="#3c83cc"/><circle cx="346.2" cy="436.4" r="0.8" fill="#3f86cf"/><circle cx="403.0" cy="434.8" r="0.8" fill="#5a9fe2"/><circle cx="336.1" cy="436.1" r="0.6" fill="#5a9fe2"/><circle cx="459.9" cy="433.8" r="0.6" fill="#3c83cc"/><circle cx="432.5" cy="407.5" r="0.6" fill="#5a9fe2"/><circle cx="449.4" cy="411.5" r="0.8" fill="#3c83cc"/><circle cx="393.4" cy="401.1" r="0.5" fill="#559be0"/><circle cx="372.9" cy="429.6" r="0.7" fill="#3f86cf"/></g>
<rect x="330.3" y="437.2" width="135.5" height="7.6" fill="#6f8db5"/>
<line x1="332.5" y1="437.4" x2="332.5" y2="444.4" stroke="#4d6587" stroke-width="0.6"/><line x1="334.5" y1="437.4" x2="334.5" y2="441.9" stroke="#4d6587" stroke-width="0.6"/><line x1="336.4" y1="437.4" x2="336.4" y2="442.9" stroke="#4d6587" stroke-width="0.6"/><line x1="338.4" y1="437.4" x2="338.4" y2="442.9" stroke="#4d6587" stroke-width="0.6"/><line x1="340.4" y1="437.4" x2="340.4" y2="441.9" stroke="#4d6587" stroke-width="0.6"/><line x1="342.4" y1="437.4" x2="342.4" y2="444.4" stroke="#4d6587" stroke-width="0.6"/><line x1="344.3" y1="437.4" x2="344.3" y2="441.9" stroke="#4d6587" stroke-width="0.6"/><line x1="346.3" y1="437.4" x2="346.3" y2="442.9" stroke="#4d6587" stroke-width="0.6"/><line x1="348.3" y1="437.4" x2="348.3" y2="442.9" stroke="#4d6587" stroke-width="0.6"/><line x1="350.2" y1="437.4" x2="350.2" y2="441.9" stroke="#4d6587" stroke-width="0.6"/><line x1="352.2" y1="437.4" x2="352.2" y2="444.4" stroke="#4d6587" stroke-width="0.6"/><line x1="354.2" y1="437.4" x2="354.2" y2="441.9" stroke="#4d6587" stroke-width="0.6"/><line x1="356.1" y1="437.4" x2="356.1" y2="442.9" stroke="#4d6587" stroke-width="0.6"/><line x1="358.1" y1="437.4" x2="358.1" y2="442.9" stroke="#4d6587" stroke-width="0.6"/><line x1="360.1" y1="437.4" x2="360.1" y2="441.9" stroke="#4d6587" stroke-width="0.6"/><line x1="362.1" y1="437.4" x2="362.1" y2="444.4" stroke="#4d6587" stroke-width="0.6"/><line x1="364.0" y1="437.4" x2="364.0" y2="441.9" stroke="#4d6587" stroke-width="0.6"/><line x1="366.0" y1="437.4" x2="366.0" y2="442.9" stroke="#4d6587" stroke-width="0.6"/><line x1="368.0" y1="437.4" x2="368.0" y2="442.9" stroke="#4d6587" stroke-width="0.6"/><line x1="369.9" y1="437.4" x2="369.9" y2="441.9" stroke="#4d6587" stroke-width="0.6"/><line x1="371.9" y1="437.4" x2="371.9" y2="444.4" stroke="#4d6587" stroke-width="0.6"/><line x1="373.9" y1="437.4" x2="373.9" y2="441.9" stroke="#4d6587" stroke-width="0.6"/><line x1="375.8" y1="437.4" x2="375.8" y2="442.9" stroke="#4d6587" stroke-width="0.6"/><line x1="377.8" y1="437.4" x2="377.8" y2="442.9" stroke="#4d6587" stroke-width="0.6"/><line x1="379.8" y1="437.4" x2="379.8" y2="441.9" stroke="#4d6587" stroke-width="0.6"/><line x1="381.8" y1="437.4" x2="381.8" y2="444.4" stroke="#4d6587" stroke-width="0.6"/><line x1="383.7" y1="437.4" x2="383.7" y2="441.9" stroke="#4d6587" stroke-width="0.6"/><line x1="385.7" y1="437.4" x2="385.7" y2="442.9" stroke="#4d6587" stroke-width="0.6"/><line x1="387.7" y1="437.4" x2="387.7" y2="442.9" stroke="#4d6587" stroke-width="0.6"/><line x1="389.6" y1="437.4" x2="389.6" y2="441.9" stroke="#4d6587" stroke-width="0.6"/><line x1="391.6" y1="437.4" x2="391.6" y2="444.4" stroke="#4d6587" stroke-width="0.6"/><line x1="393.6" y1="437.4" x2="393.6" y2="441.9" stroke="#4d6587" stroke-width="0.6"/><line x1="395.5" y1="437.4" x2="395.5" y2="442.9" stroke="#4d6587" stroke-width="0.6"/><line x1="397.5" y1="437.4" x2="397.5" y2="442.9" stroke="#4d6587" stroke-width="0.6"/><line x1="399.5" y1="437.4" x2="399.5" y2="441.9" stroke="#4d6587" stroke-width="0.6"/><line x1="401.4" y1="437.4" x2="401.4" y2="444.4" stroke="#4d6587" stroke-width="0.6"/><line x1="403.4" y1="437.4" x2="403.4" y2="441.9" stroke="#4d6587" stroke-width="0.6"/><line x1="405.4" y1="437.4" x2="405.4" y2="442.9" stroke="#4d6587" stroke-width="0.6"/><line x1="407.4" y1="437.4" x2="407.4" y2="442.9" stroke="#4d6587" stroke-width="0.6"/><line x1="409.3" y1="437.4" x2="409.3" y2="441.9" stroke="#4d6587" stroke-width="0.6"/><line x1="411.3" y1="437.4" x2="411.3" y2="444.4" stroke="#4d6587" stroke-width="0.6"/><line x1="413.3" y1="437.4" x2="413.3" y2="441.9" stroke="#4d6587" stroke-width="0.6"/><line x1="415.2" y1="437.4" x2="415.2" y2="442.9" stroke="#4d6587" stroke-width="0.6"/><line x1="417.2" y1="437.4" x2="417.2" y2="442.9" stroke="#4d6587" stroke-width="0.6"/><line x1="419.2" y1="437.4" x2="419.2" y2="441.9" stroke="#4d6587" stroke-width="0.6"/><line x1="421.1" y1="437.4" x2="421.1" y2="444.4" stroke="#4d6587" stroke-width="0.6"/><line x1="423.1" y1="437.4" x2="423.1" y2="441.9" stroke="#4d6587" stroke-width="0.6"/><line x1="425.1" y1="437.4" x2="425.1" y2="442.9" stroke="#4d6587" stroke-width="0.6"/><line x1="427.1" y1="437.4" x2="427.1" y2="442.9" stroke="#4d6587" stroke-width="0.6"/><line x1="429.0" y1="437.4" x2="429.0" y2="441.9" stroke="#4d6587" stroke-width="0.6"/><line x1="431.0" y1="437.4" x2="431.0" y2="444.4" stroke="#4d6587" stroke-width="0.6"/><line x1="433.0" y1="437.4" x2="433.0" y2="441.9" stroke="#4d6587" stroke-width="0.6"/><line x1="434.9" y1="437.4" x2="434.9" y2="442.9" stroke="#4d6587" stroke-width="0.6"/><line x1="436.9" y1="437.4" x2="436.9" y2="442.9" stroke="#4d6587" stroke-width="0.6"/><line x1="438.9" y1="437.4" x2="438.9" y2="441.9" stroke="#4d6587" stroke-width="0.6"/><line x1="440.9" y1="437.4" x2="440.9" y2="444.4" stroke="#4d6587" stroke-width="0.6"/><line x1="442.8" y1="437.4" x2="442.8" y2="441.9" stroke="#4d6587" stroke-width="0.6"/><line x1="444.8" y1="437.4" x2="444.8" y2="442.9" stroke="#4d6587" stroke-width="0.6"/><line x1="446.8" y1="437.4" x2="446.8" y2="442.9" stroke="#4d6587" stroke-width="0.6"/><line x1="448.7" y1="437.4" x2="448.7" y2="441.9" stroke="#4d6587" stroke-width="0.6"/><line x1="450.7" y1="437.4" x2="450.7" y2="444.4" stroke="#4d6587" stroke-width="0.6"/><line x1="452.7" y1="437.4" x2="452.7" y2="441.9" stroke="#4d6587" stroke-width="0.6"/><line x1="454.6" y1="437.4" x2="454.6" y2="442.9" stroke="#4d6587" stroke-width="0.6"/><line x1="456.6" y1="437.4" x2="456.6" y2="442.9" stroke="#4d6587" stroke-width="0.6"/><line x1="458.6" y1="437.4" x2="458.6" y2="441.9" stroke="#4d6587" stroke-width="0.6"/><line x1="460.6" y1="437.4" x2="460.6" y2="444.4" stroke="#4d6587" stroke-width="0.6"/><line x1="462.5" y1="437.4" x2="462.5" y2="441.9" stroke="#4d6587" stroke-width="0.6"/><line x1="464.5" y1="437.4" x2="464.5" y2="442.9" stroke="#4d6587" stroke-width="0.6"/>
<text x="332.0" y="452.0" font-size="5.2" text-anchor="middle" fill="#1f3560" class="c">0</text>
<text x="347.7" y="452.0" font-size="5.2" text-anchor="middle" fill="#1f3560" class="c">1cm</text>
<text x="358.3" y="452.0" font-size="5.2" text-anchor="middle" fill="#1f3560" class="c">2</text>
<text x="371.5" y="452.0" font-size="5.2" text-anchor="middle" fill="#1f3560" class="c">3</text>
<text x="384.9" y="452.0" font-size="5.2" text-anchor="middle" fill="#1f3560" class="c">4</text>
<text x="398.0" y="452.0" font-size="5.2" text-anchor="middle" fill="#1f3560" class="c">5</text>
<text x="410.7" y="452.0" font-size="5.2" text-anchor="middle" fill="#1f3560" class="c">6</text>
<text x="423.4" y="452.0" font-size="5.2" text-anchor="middle" fill="#1f3560" class="c">7</text>
<text x="436.3" y="452.0" font-size="5.2" text-anchor="middle" fill="#1f3560" class="c">8</text>
<text x="449.3" y="452.0" font-size="5.2" text-anchor="middle" fill="#1f3560" class="c">9</text>
<text x="462.2" y="452.0" font-size="5.2" text-anchor="middle" fill="#1f3560" class="c">10</text>
<ellipse cx="348.1" cy="404.1" rx="4.6" ry="3.4" fill="#f1c9b6"/>
<ellipse cx="347.70000000000005" cy="403.8" rx="3.6" ry="2.5" fill="#f9e2d5"/>
<ellipse cx="368.9" cy="402.5" rx="4.0" ry="3.5" fill="#f1c9b6"/>
<ellipse cx="368.5" cy="402.2" rx="3.1" ry="2.6" fill="#f9e2d5"/>
<ellipse cx="390.8" cy="403.8" rx="3.8" ry="3.5" fill="#f1c9b6"/>
<ellipse cx="390.40000000000003" cy="403.5" rx="3.0" ry="2.6" fill="#f9e2d5"/>
<ellipse cx="415.6" cy="402.8" rx="3.5" ry="3.5" fill="#f1c9b6"/>
<ellipse cx="415.20000000000005" cy="402.5" rx="2.7" ry="2.6" fill="#f9e2d5"/>
<circle cx="416.5" cy="401.6" r="1.0" fill="#e08a88" opacity="0.8" filter="url(#bl1)"/>
<ellipse cx="436.6" cy="403.6" rx="3.3" ry="3.0" fill="#f1c9b6"/>
<ellipse cx="436.20000000000005" cy="403.3" rx="2.6" ry="2.2" fill="#f9e2d5"/>
<circle cx="437.4" cy="402.6" r="0.8" fill="#e08a88" opacity="0.8" filter="url(#bl1)"/>
<ellipse cx="454.3" cy="404" rx="3.4" ry="3.3" fill="#f1c9b6"/>
<ellipse cx="453.90000000000003" cy="403.7" rx="2.7" ry="2.5" fill="#f9e2d5"/>
<circle cx="455.2" cy="402.8" r="0.9" fill="#e08a88" opacity="0.8" filter="url(#bl1)"/>
<ellipse cx="347.2" cy="424.6" rx="6.0" ry="5.1" fill="#f1c9b6"/>
<ellipse cx="346.8" cy="424.3" rx="4.7" ry="3.8" fill="#f9e2d5"/>
<circle cx="348.7" cy="422.8" r="1.4" fill="#e08a88" opacity="0.8" filter="url(#bl1)"/>
<ellipse cx="368" cy="424.6" rx="5.1" ry="5.7" fill="#f1c9b6"/>
<ellipse cx="367.6" cy="424.3" rx="4.0" ry="4.3" fill="#f9e2d5"/>
<ellipse cx="391.7" cy="423.4" rx="4.7" ry="4.7" fill="#f1c9b6"/>
<ellipse cx="391.3" cy="423.09999999999997" rx="3.7" ry="3.5" fill="#f9e2d5"/>
<ellipse cx="416.2" cy="424.4" rx="4.5" ry="3.9" fill="#f1c9b6"/>
<ellipse cx="415.8" cy="424.09999999999997" rx="3.5" ry="2.9" fill="#f9e2d5"/>
<ellipse cx="436.3" cy="424.3" rx="3.6" ry="3.4" fill="#f1c9b6"/>
<ellipse cx="435.90000000000003" cy="424.0" rx="2.8" ry="2.5" fill="#f9e2d5"/>
<ellipse cx="455" cy="424" rx="3.6" ry="3.6" fill="#f1c9b6"/>
<ellipse cx="454.6" cy="423.7" rx="2.8" ry="2.7" fill="#f9e2d5"/>
<circle cx="455.9" cy="422.7" r="1.0" fill="#e08a88" opacity="0.8" filter="url(#bl1)"/>
<rect x="330.3" y="391.4" width="135.5" height="62.4" fill="none" stroke="#111" stroke-width="1.4"/>
<text x="478.0" y="351.0" font-size="17" font-weight="bold" class="b">g</text>
<line x1="528.5" y1="361.8" x2="528.5" y2="470.9" stroke="#1a1a1a" stroke-width="1.3"/>
<line x1="528.0" y1="470.5" x2="670.3" y2="470.5" stroke="#1a1a1a" stroke-width="1.3"/>
<line x1="526.6" y1="470.5" x2="528.6" y2="470.5" stroke="#1a1a1a" stroke-width="1.2"/>
<text x="524.3" y="473.8" font-size="9.8" text-anchor="end">0</text>
<line x1="526.6" y1="443.5" x2="528.6" y2="443.5" stroke="#1a1a1a" stroke-width="1.2"/>
<text x="524.3" y="446.8" font-size="9.8" text-anchor="end">200</text>
<line x1="526.6" y1="416.5" x2="528.6" y2="416.5" stroke="#1a1a1a" stroke-width="1.2"/>
<text x="524.3" y="419.8" font-size="9.8" text-anchor="end">400</text>
<line x1="526.6" y1="389.5" x2="528.6" y2="389.5" stroke="#1a1a1a" stroke-width="1.2"/>
<text x="524.3" y="392.8" font-size="9.8" text-anchor="end">600</text>
<line x1="526.6" y1="362.5" x2="528.6" y2="362.5" stroke="#1a1a1a" stroke-width="1.2"/>
<text x="524.3" y="365.8" font-size="9.8" text-anchor="end">800</text>
<line x1="528.5" y1="470.3" x2="528.5" y2="473.8" stroke="#1a1a1a" stroke-width="1.2"/>
<text x="528.6" y="483.3" font-size="9.8" text-anchor="middle">0</text>
<line x1="548.5" y1="470.3" x2="548.5" y2="473.8" stroke="#1a1a1a" stroke-width="1.2"/>
<text x="548.7" y="483.3" font-size="9.8" text-anchor="middle">3</text>
<line x1="568.5" y1="470.3" x2="568.5" y2="473.8" stroke="#1a1a1a" stroke-width="1.2"/>
<text x="568.8" y="483.3" font-size="9.8" text-anchor="middle">6</text>
<line x1="588.5" y1="470.3" x2="588.5" y2="473.8" stroke="#1a1a1a" stroke-width="1.2"/>
<text x="588.9" y="483.3" font-size="9.8" text-anchor="middle">9</text>
<line x1="609.5" y1="470.3" x2="609.5" y2="473.8" stroke="#1a1a1a" stroke-width="1.2"/>
<text x="609.0" y="483.3" font-size="9.8" text-anchor="middle">12</text>
<line x1="629.5" y1="470.3" x2="629.5" y2="473.8" stroke="#1a1a1a" stroke-width="1.2"/>
<text x="629.1" y="483.3" font-size="9.8" text-anchor="middle">15</text>
<line x1="649.5" y1="470.3" x2="649.5" y2="473.8" stroke="#1a1a1a" stroke-width="1.2"/>
<text x="649.2" y="483.3" font-size="9.8" text-anchor="middle">18</text>
<line x1="669.5" y1="470.3" x2="669.5" y2="473.8" stroke="#1a1a1a" stroke-width="1.2"/>
<text x="669.3" y="483.3" font-size="9.8" text-anchor="middle">21</text>
<text x="607.8" y="497.0" font-size="9.8" text-anchor="middle">Days</text>
<text x="501.5" y="415.5" font-size="9.6" text-anchor="middle" transform="rotate(-90 501.5 415.5)">Tumor Volume (mm<tspan dy="-3.5" font-size="6.5">3</tspan><tspan dy="3.5">)</tspan></text>
<polyline points="528.6,470.3 568.8,460.0 588.9,453.8 609.0,447.1 629.1,437.5 649.2,423.3 669.3,407.8" fill="none" stroke="#ED7D31" stroke-width="1.4"/>
<rect x="526.0" y="467.7" width="5.2" height="5.2" fill="#ED7D31" stroke="none" stroke-width="1"/>
<line x1="568.5" y1="459.0" x2="568.5" y2="461.1" stroke="#ED7D31" stroke-width="1.2"/>
<line x1="565.8" y1="458.5" x2="571.8" y2="458.5" stroke="#ED7D31" stroke-width="1.2"/>
<line x1="565.8" y1="461.5" x2="571.8" y2="461.5" stroke="#ED7D31" stroke-width="1.2"/>
<rect x="566.2" y="457.4" width="5.2" height="5.2" fill="#ED7D31" stroke="none" stroke-width="1"/>
<line x1="588.5" y1="449.8" x2="588.5" y2="457.9" stroke="#ED7D31" stroke-width="1.2"/>
<line x1="585.9" y1="449.5" x2="591.9" y2="449.5" stroke="#ED7D31" stroke-width="1.2"/>
<line x1="585.9" y1="457.5" x2="591.9" y2="457.5" stroke="#ED7D31" stroke-width="1.2"/>
<rect x="586.3" y="451.2" width="5.2" height="5.2" fill="#ED7D31" stroke="none" stroke-width="1"/>
<line x1="609.5" y1="438.7" x2="609.5" y2="455.4" stroke="#ED7D31" stroke-width="1.2"/>
<line x1="606.0" y1="438.5" x2="612.0" y2="438.5" stroke="#ED7D31" stroke-width="1.2"/>
<line x1="606.0" y1="455.5" x2="612.0" y2="455.5" stroke="#ED7D31" stroke-width="1.2"/>
<rect x="606.4" y="444.5" width="5.2" height="5.2" fill="#ED7D31" stroke="none" stroke-width="1"/>
<line x1="629.5" y1="425.3" x2="629.5" y2="449.6" stroke="#ED7D31" stroke-width="1.2"/>
<line x1="626.1" y1="425.5" x2="632.1" y2="425.5" stroke="#ED7D31" stroke-width="1.2"/>
<line x1="626.1" y1="449.5" x2="632.1" y2="449.5" stroke="#ED7D31" stroke-width="1.2"/>
<rect x="626.5" y="434.9" width="5.2" height="5.2" fill="#ED7D31" stroke="none" stroke-width="1"/>
<line x1="649.5" y1="407.4" x2="649.5" y2="439.2" stroke="#ED7D31" stroke-width="1.2"/>
<line x1="646.2" y1="407.5" x2="652.2" y2="407.5" stroke="#ED7D31" stroke-width="1.2"/>
<line x1="646.2" y1="439.5" x2="652.2" y2="439.5" stroke="#ED7D31" stroke-width="1.2"/>
<rect x="646.6" y="420.7" width="5.2" height="5.2" fill="#ED7D31" stroke="none" stroke-width="1"/>
<line x1="669.5" y1="390.9" x2="669.5" y2="424.7" stroke="#ED7D31" stroke-width="1.2"/>
<line x1="666.3" y1="390.5" x2="672.3" y2="390.5" stroke="#ED7D31" stroke-width="1.2"/>
<line x1="666.3" y1="424.5" x2="672.3" y2="424.5" stroke="#ED7D31" stroke-width="1.2"/>
<rect x="666.7" y="405.2" width="5.2" height="5.2" fill="#ED7D31" stroke="none" stroke-width="1"/>
<polyline points="528.6,470.3 568.8,462.9 588.9,459.8 609.0,456.4 629.1,453.0 649.2,448.3 669.3,439.2" fill="none" stroke="#111" stroke-width="1.4"/>
<circle cx="528.6" cy="470.3" r="2.60" fill="#111"/>
<line x1="568.5" y1="462.1" x2="568.5" y2="463.7" stroke="#111" stroke-width="1.2"/>
<line x1="565.8" y1="462.5" x2="571.8" y2="462.5" stroke="#111" stroke-width="1.2"/>
<line x1="565.8" y1="463.5" x2="571.8" y2="463.5" stroke="#111" stroke-width="1.2"/>
<circle cx="568.8" cy="462.9" r="2.60" fill="#111"/>
<line x1="588.5" y1="458.7" x2="588.5" y2="460.9" stroke="#111" stroke-width="1.2"/>
<line x1="585.9" y1="458.5" x2="591.9" y2="458.5" stroke="#111" stroke-width="1.2"/>
<line x1="585.9" y1="460.5" x2="591.9" y2="460.5" stroke="#111" stroke-width="1.2"/>
<circle cx="588.9" cy="459.8" r="2.60" fill="#111"/>
<line x1="609.5" y1="454.4" x2="609.5" y2="458.4" stroke="#111" stroke-width="1.2"/>
<line x1="606.0" y1="454.5" x2="612.0" y2="454.5" stroke="#111" stroke-width="1.2"/>
<line x1="606.0" y1="458.5" x2="612.0" y2="458.5" stroke="#111" stroke-width="1.2"/>
<circle cx="609.0" cy="456.4" r="2.60" fill="#111"/>
<line x1="629.5" y1="450.6" x2="629.5" y2="455.4" stroke="#111" stroke-width="1.2"/>
<line x1="626.1" y1="450.5" x2="632.1" y2="450.5" stroke="#111" stroke-width="1.2"/>
<line x1="626.1" y1="455.5" x2="632.1" y2="455.5" stroke="#111" stroke-width="1.2"/>
<circle cx="629.1" cy="453.0" r="2.60" fill="#111"/>
<line x1="649.5" y1="444.5" x2="649.5" y2="452.1" stroke="#111" stroke-width="1.2"/>
<line x1="646.2" y1="444.5" x2="652.2" y2="444.5" stroke="#111" stroke-width="1.2"/>
<line x1="646.2" y1="452.5" x2="652.2" y2="452.5" stroke="#111" stroke-width="1.2"/>
<circle cx="649.2" cy="448.3" r="2.60" fill="#111"/>
<line x1="669.5" y1="434.9" x2="669.5" y2="443.6" stroke="#111" stroke-width="1.2"/>
<line x1="666.3" y1="434.5" x2="672.3" y2="434.5" stroke="#111" stroke-width="1.2"/>
<line x1="666.3" y1="443.5" x2="672.3" y2="443.5" stroke="#111" stroke-width="1.2"/>
<circle cx="669.3" cy="439.2" r="2.60" fill="#111"/>
<line x1="539.7" y1="364.5" x2="554.1" y2="364.5" stroke="#111" stroke-width="1.4"/>
<circle cx="546.9" cy="364.0" r="2.50" fill="#111"/>
<text x="559.5" y="367.5" font-size="9.8">Ctrl</text>
<line x1="539.7" y1="380.5" x2="554.1" y2="380.5" stroke="#ED7D31" stroke-width="1.4"/>
<rect x="544.4" y="377.8" width="5.0" height="5.0" fill="#ED7D31" stroke="none" stroke-width="1"/>
<text x="559.5" y="383.8" font-size="9.8">NR4A1-KO1</text>
<line x1="676.5" y1="407.0" x2="676.5" y2="439.3" stroke="#ED7D31" stroke-width="1.1"/>
<text x="676.6" y="423.0" font-size="8.8" text-anchor="middle" transform="rotate(90 676.6 423)">**</text>
<text x="6.3" y="539.5" font-size="17" font-weight="bold" class="b">h</text>
<line x1="55.5" y1="544.7" x2="55.5" y2="639.0" stroke="#1a1a1a" stroke-width="1.2"/>
<line x1="54.8" y1="638.5" x2="139.7" y2="638.5" stroke="#1a1a1a" stroke-width="1.2"/>
<line x1="51.4" y1="638.5" x2="55.4" y2="638.5" stroke="#1a1a1a" stroke-width="1.2"/>
<text x="49.9" y="641.9" font-size="9.8" text-anchor="end">0.0</text>
<line x1="51.4" y1="615.5" x2="55.4" y2="615.5" stroke="#1a1a1a" stroke-width="1.2"/>
<text x="49.9" y="618.6" font-size="9.8" text-anchor="end">0.2</text>
<line x1="51.4" y1="591.5" x2="55.4" y2="591.5" stroke="#1a1a1a" stroke-width="1.2"/>
<text x="49.9" y="595.3" font-size="9.8" text-anchor="end">0.4</text>
<line x1="51.4" y1="568.5" x2="55.4" y2="568.5" stroke="#1a1a1a" stroke-width="1.2"/>
<text x="49.9" y="572.0" font-size="9.8" text-anchor="end">0.6</text>
<line x1="51.4" y1="545.5" x2="55.4" y2="545.5" stroke="#1a1a1a" stroke-width="1.2"/>
<text x="49.9" y="548.7" font-size="9.8" text-anchor="end">0.8</text>
<rect x="67.2" y="603.6" width="23.0" height="15.9" fill="#fff" stroke="#111" stroke-width="1.3"/>
<line x1="67.2" y1="613.5" x2="90.2" y2="613.5" stroke="#1a1a1a" stroke-width="1.3"/>
<line x1="78.5" y1="638.4" x2="78.5" y2="641.4" stroke="#1a1a1a" stroke-width="1.2"/>
<circle cx="79.0" cy="603.3" r="1.75" fill="#111"/>
<circle cx="75.3" cy="610.4" r="1.75" fill="#111"/>
<circle cx="82.7" cy="612.2" r="1.75" fill="#111"/>
<circle cx="75.3" cy="615.1" r="1.75" fill="#111"/>
<circle cx="82.7" cy="617.3" r="1.75" fill="#111"/>
<circle cx="75.3" cy="620.3" r="1.75" fill="#111"/>
<rect x="102.6" y="562.4" width="22.5" height="33.1" fill="#e97e33" stroke="#111" stroke-width="1.3"/>
<line x1="102.6" y1="585.5" x2="125.1" y2="585.5" stroke="#1a1a1a" stroke-width="1.3"/>
<line x1="113.5" y1="638.4" x2="113.5" y2="641.4" stroke="#1a1a1a" stroke-width="1.2"/>
<circle cx="113.8" cy="562.1" r="1.75" fill="#111"/>
<circle cx="113.8" cy="575.6" r="1.75" fill="#111"/>
<circle cx="113.8" cy="582.7" r="1.75" fill="#111"/>
<circle cx="113.8" cy="588.9" r="1.75" fill="#111"/>
<circle cx="110.4" cy="596.0" r="1.75" fill="#111"/>
<circle cx="117.5" cy="594.9" r="1.75" fill="#111"/>
<line x1="78.7" y1="550.5" x2="113.6" y2="550.5" stroke="#1a1a1a" stroke-width="1.3"/>
<text x="96.4" y="549.9" font-size="9.4" text-anchor="middle">***</text>
<text x="32" y="591" font-size="9.8" text-anchor="middle" transform="rotate(-90 32 591)">Tumor weight (g)</text>
<text x="80.3" y="651.6" font-size="10" text-anchor="end" transform="rotate(-30 80.3 651.6)">Ctrl</text>
<text x="115.4" y="651.6" font-size="10" text-anchor="end" transform="rotate(-30 115.44999999999999 651.6)">NR4A1-KO1</text>
<text x="151.8" y="539.5" font-size="17" font-weight="bold" class="b">i</text>
<text x="230.0" y="549.0" font-size="9.8" text-anchor="middle">Ctrl</text>
<text x="344.0" y="549.0" font-size="9.8" text-anchor="middle">NR4A1-KO1</text>
<text x="171.5" y="597.0" font-size="9.8" text-anchor="middle" transform="rotate(-90 171.5 597)">Ki-67</text>
<filter id="fi21a" x="0" y="0" width="1" height="1" filterUnits="objectBoundingBox" color-interpolation-filters="sRGB">
<feTurbulence type="fractalNoise" baseFrequency="0.38" numOctaves="2" seed="21" result="n"/>
<feColorMatrix in="n" type="matrix" values="0 0 0 0 0.62  0 0 0 0 0.64  0 0 0 0 0.84  0 1.4 0 0 -0.62"/>
<feComponentTransfer><feFuncA type="linear" slope="2.2" intercept="0"/></feComponentTransfer>
</filter>
<filter id="fi21b" x="0" y="0" width="1" height="1" filterUnits="objectBoundingBox" color-interpolation-filters="sRGB">
<feTurbulence type="fractalNoise" baseFrequency="0.48" numOctaves="2" seed="28" result="n"/>
<feColorMatrix in="n" type="matrix" values="0 0 0 0 0.6  0 0 0 0 0.44  0 0 0 0 0.36  1 0 0 0 0"/>
<feComponentTransfer result="hct"><feFuncA type="linear" slope="6" intercept="-3.3"/></feComponentTransfer>
<feTurbulence type="fractalNoise" baseFrequency="0.06" numOctaves="2" seed="38" result="lf"/>
<feColorMatrix in="lf" type="matrix" values="0 0 0 0 0  0 0 0 0 0  0 0 0 0 0  3.5 0 0 0 -1.25" result="lm"/>
<feComposite in="hct" in2="lm" operator="in"/>
<feGaussianBlur stdDeviation="0.5"/>
</filter>
<filter id="fi21c" x="0" y="0" width="1" height="1" filterUnits="objectBoundingBox" color-interpolation-filters="sRGB">
<feTurbulence type="fractalNoise" baseFrequency="0.9" numOctaves="1" seed="24" result="n"/>
<feColorMatrix in="n" type="matrix" values="0 0 0 0 1  0 0 0 0 1  0 0 0 0 1  0 0 1.6 0 -0.75"/>
<feComponentTransfer><feFuncA type="linear" slope="1.6" intercept="0"/></feComponentTransfer>
</filter>
<filter id="fi21d" x="0" y="0" width="1" height="1" filterUnits="objectBoundingBox" color-interpolation-filters="sRGB">
<feTurbulence type="fractalNoise" baseFrequency="0.16" numOctaves="2" seed="32" result="n"/>
<feColorMatrix in="n" type="matrix" values="0 0 0 0 0.6  0 0 0 0 0.44  0 0 0 0 0.36  1 0 0 0 0"/>
<feComponentTransfer><feFuncA type="linear" slope="5" intercept="-3.0"/></feComponentTransfer>
<feGaussianBlur stdDeviation="0.6"/>
</filter>
<filter id="fi21e" x="0" y="0" width="1" height="1" filterUnits="objectBoundingBox" color-interpolation-filters="sRGB">
<feTurbulence type="fractalNoise" baseFrequency="0.12" numOctaves="2" seed="26" result="n"/>
<feColorMatrix in="n" type="matrix" values="0 0 0 0 0.7  0 0 0 0 0.72  0 0 0 0 0.88  0 1.4 0 0 -0.66"/>
<feComponentTransfer><feFuncA type="linear" slope="2.5" intercept="0"/></feComponentTransfer>
<feGaussianBlur stdDeviation="0.5"/>
</filter>
<rect x="177.4" y="555.9" width="104.9" height="80.9" fill="#d4d2e8"/>
<rect x="177.4" y="555.9" width="104.9" height="80.9" filter="url(#fi21a)"/>
<rect x="177.4" y="555.9" width="104.9" height="80.9" filter="url(#fi21c)"/>
<g clip-path="url(#cp21)"><g filter="url(#bl05)" opacity="0.9"><circle cx="211.8" cy="578.0" r="1.13" fill="#9d7052"/><circle cx="244.4" cy="595.3" r="1.09" fill="#8d6046"/><circle cx="266.3" cy="560.0" r="0.58" fill="#7f5740"/><circle cx="185.2" cy="635.6" r="0.96" fill="#8d6046"/><circle cx="278.0" cy="559.3" r="0.79" fill="#a57b5e"/><circle cx="274.2" cy="636.6" r="0.77" fill="#9d7052"/><circle cx="209.6" cy="595.8" r="0.80" fill="#9d7052"/><circle cx="229.9" cy="599.9" r="1.03" fill="#8d6046"/><circle cx="178.7" cy="599.7" r="0.60" fill="#7f5740"/><circle cx="215.8" cy="635.6" r="1.10" fill="#a57b5e"/><circle cx="186.4" cy="635.2" r="1.10" fill="#7f5740"/><circle cx="225.5" cy="600.6" r="0.58" fill="#7f5740"/><circle cx="268.5" cy="585.6" r="1.14" fill="#7f5740"/><circle cx="219.1" cy="567.3" r="0.91" fill="#9d7052"/><circle cx="279.9" cy="621.1" r="0.77" fill="#a57b5e"/><circle cx="230.4" cy="605.9" r="0.92" fill="#7f5740"/><circle cx="276.4" cy="569.3" r="0.74" fill="#9d7052"/><circle cx="198.5" cy="601.0" r="0.90" fill="#9d7052"/><circle cx="245.7" cy="591.8" r="1.01" fill="#a57b5e"/><circle cx="268.7" cy="606.6" r="1.00" fill="#7f5740"/><circle cx="225.3" cy="572.2" r="0.87" fill="#a57b5e"/><circle cx="208.3" cy="585.7" r="1.11" fill="#a57b5e"/><circle cx="228.1" cy="623.3" r="0.81" fill="#7f5740"/><circle cx="229.9" cy="574.1" r="1.04" fill="#7f5740"/><circle cx="281.5" cy="626.2" r="0.84" fill="#a57b5e"/><circle cx="216.2" cy="583.5" r="0.88" fill="#a57b5e"/><circle cx="191.1" cy="610.2" r="0.74" fill="#a57b5e"/><circle cx="230.3" cy="594.6" r="0.77" fill="#7f5740"/><circle cx="208.9" cy="556.3" r="0.94" fill="#7f5740"/><circle cx="208.1" cy="599.0" r="1.11" fill="#a57b5e"/><circle cx="177.8" cy="571.6" r="1.11" fill="#7f5740"/><circle cx="189.1" cy="606.6" r="0.98" fill="#8d6046"/><circle cx="235.4" cy="631.6" r="1.08" fill="#a57b5e"/><circle cx="228.5" cy="606.8" r="1.00" fill="#7f5740"/><circle cx="184.4" cy="556.4" r="0.90" fill="#9d7052"/><circle cx="250.5" cy="595.9" r="0.74" fill="#8d6046"/><circle cx="189.5" cy="608.0" r="0.79" fill="#8d6046"/><circle cx="199.4" cy="632.0" r="0.89" fill="#8d6046"/><circle cx="186.2" cy="611.4" r="0.66" fill="#7f5740"/><circle cx="190.9" cy="631.5" r="0.62" fill="#9d7052"/><circle cx="208.9" cy="635.1" r="1.12" fill="#9d7052"/><circle cx="234.4" cy="602.5" r="0.92" fill="#a57b5e"/><circle cx="244.0" cy="604.6" r="1.09" fill="#8d6046"/><circle cx="198.7" cy="622.7" r="0.67" fill="#8d6046"/><circle cx="227.9" cy="609.0" r="0.64" fill="#a57b5e"/><circle cx="201.3" cy="581.5" r="0.57" fill="#9d7052"/><circle cx="248.0" cy="631.0" r="1.11" fill="#7f5740"/><circle cx="238.1" cy="611.0" r="0.85" fill="#7f5740"/><circle cx="236.2" cy="581.5" r="1.09" fill="#a57b5e"/><circle cx="203.7" cy="580.7" r="0.69" fill="#a57b5e"/><circle cx="251.3" cy="595.3" r="0.63" fill="#a57b5e"/><circle cx="231.6" cy="618.4" r="1.09" fill="#8d6046"/><circle cx="259.7" cy="573.9" r="0.62" fill="#9d7052"/><circle cx="198.7" cy="633.4" r="0.67" fill="#9d7052"/><circle cx="257.5" cy="568.7" r="1.11" fill="#9d7052"/><circle cx="260.7" cy="574.2" r="0.84" fill="#8d6046"/><circle cx="245.1" cy="585.4" r="0.70" fill="#7f5740"/><circle cx="281.6" cy="616.7" r="0.77" fill="#7f5740"/><circle cx="235.5" cy="621.3" r="0.84" fill="#9d7052"/><circle cx="177.8" cy="592.2" r="1.04" fill="#8d6046"/><circle cx="190.7" cy="556.9" r="0.87" fill="#a57b5e"/><circle cx="263.2" cy="577.8" r="1.06" fill="#a57b5e"/><circle cx="266.6" cy="574.0" r="0.61" fill="#7f5740"/><circle cx="247.8" cy="616.4" r="1.04" fill="#8d6046"/><circle cx="246.5" cy="615.6" r="0.76" fill="#a57b5e"/><circle cx="225.5" cy="610.6" r="0.91" fill="#9d7052"/><circle cx="181.9" cy="601.5" r="0.61" fill="#9d7052"/><circle cx="251.2" cy="603.2" r="0.83" fill="#7f5740"/><circle cx="265.2" cy="585.0" r="1.03" fill="#a57b5e"/><circle cx="252.3" cy="591.0" r="0.91" fill="#8d6046"/><circle cx="217.0" cy="615.7" r="0.63" fill="#a57b5e"/><circle cx="225.4" cy="609.5" r="1.09" fill="#9d7052"/><circle cx="211.1" cy="563.3" r="0.86" fill="#8d6046"/><circle cx="218.9" cy="568.4" r="1.02" fill="#8d6046"/><circle cx="247.0" cy="589.0" r="0.88" fill="#9d7052"/><circle cx="262.3" cy="636.1" r="0.56" fill="#a57b5e"/><circle cx="224.5" cy="602.7" r="0.68" fill="#a57b5e"/><circle cx="226.3" cy="614.6" r="0.98" fill="#8d6046"/><circle cx="274.6" cy="558.9" r="0.57" fill="#a57b5e"/><circle cx="182.4" cy="636.5" r="0.91" fill="#9d7052"/><circle cx="252.0" cy="581.0" r="1.06" fill="#7f5740"/><circle cx="260.1" cy="607.7" r="0.88" fill="#a57b5e"/><circle cx="221.2" cy="579.3" r="0.65" fill="#9d7052"/><circle cx="229.7" cy="593.2" r="0.57" fill="#8d6046"/><circle cx="250.2" cy="603.5" r="0.93" fill="#9d7052"/><circle cx="179.4" cy="562.4" r="1.10" fill="#7f5740"/><circle cx="237.8" cy="628.7" r="0.99" fill="#8d6046"/><circle cx="251.3" cy="606.3" r="0.84" fill="#8d6046"/><circle cx="259.6" cy="582.6" r="0.89" fill="#9d7052"/><circle cx="211.6" cy="608.0" r="0.98" fill="#8d6046"/><circle cx="226.7" cy="636.2" r="0.57" fill="#7f5740"/><circle cx="254.6" cy="619.2" r="0.70" fill="#9d7052"/><circle cx="263.9" cy="621.4" r="0.73" fill="#8d6046"/><circle cx="280.6" cy="633.0" r="0.95" fill="#8d6046"/><circle cx="186.9" cy="569.9" r="1.01" fill="#a57b5e"/><circle cx="269.2" cy="559.5" r="0.94" fill="#a57b5e"/><circle cx="235.5" cy="623.6" r="0.99" fill="#8d6046"/><circle cx="254.8" cy="585.9" r="0.77" fill="#9d7052"/><circle cx="197.7" cy="577.7" r="0.90" fill="#8d6046"/><circle cx="226.7" cy="596.5" r="0.62" fill="#9d7052"/><circle cx="208.2" cy="614.9" r="1.07" fill="#7f5740"/><circle cx="223.5" cy="577.0" r="0.67" fill="#a57b5e"/><circle cx="227.0" cy="564.3" r="0.71" fill="#8d6046"/><circle cx="255.0" cy="604.2" r="0.94" fill="#7f5740"/><circle cx="211.2" cy="627.4" r="0.88" fill="#8d6046"/><circle cx="219.2" cy="635.5" r="1.01" fill="#9d7052"/><circle cx="187.2" cy="566.2" r="0.60" fill="#9d7052"/><circle cx="256.5" cy="629.6" r="1.02" fill="#a57b5e"/><circle cx="243.4" cy="604.3" r="0.71" fill="#8d6046"/><circle cx="196.1" cy="563.0" r="0.75" fill="#8d6046"/><circle cx="280.3" cy="628.4" r="0.71" fill="#8d6046"/><circle cx="271.5" cy="578.7" r="0.70" fill="#8d6046"/><circle cx="204.5" cy="618.2" r="0.75" fill="#a57b5e"/><circle cx="214.6" cy="590.9" r="0.66" fill="#8d6046"/><circle cx="179.9" cy="580.6" r="1.01" fill="#7f5740"/><circle cx="257.9" cy="603.5" r="0.65" fill="#a57b5e"/><circle cx="200.4" cy="630.0" r="0.61" fill="#8d6046"/><circle cx="182.2" cy="596.6" r="0.92" fill="#9d7052"/><circle cx="268.8" cy="572.0" r="0.80" fill="#9d7052"/><circle cx="178.6" cy="601.9" r="0.92" fill="#9d7052"/><circle cx="186.9" cy="621.8" r="0.97" fill="#7f5740"/><circle cx="221.5" cy="609.5" r="1.12" fill="#7f5740"/><circle cx="258.9" cy="605.1" r="1.11" fill="#8d6046"/><circle cx="181.0" cy="601.6" r="0.64" fill="#a57b5e"/><circle cx="194.8" cy="594.5" r="1.14" fill="#7f5740"/><circle cx="225.0" cy="585.9" r="0.97" fill="#8d6046"/><circle cx="186.5" cy="613.5" r="0.97" fill="#8d6046"/><circle cx="263.3" cy="580.6" r="0.79" fill="#9d7052"/><circle cx="242.6" cy="590.1" r="0.72" fill="#7f5740"/><circle cx="256.2" cy="608.9" r="0.70" fill="#7f5740"/><circle cx="247.4" cy="628.9" r="0.83" fill="#7f5740"/><circle cx="185.8" cy="557.1" r="0.88" fill="#a57b5e"/><circle cx="241.6" cy="632.7" r="0.77" fill="#7f5740"/><circle cx="273.7" cy="570.0" r="0.72" fill="#7f5740"/><circle cx="229.5" cy="624.2" r="0.68" fill="#7f5740"/><circle cx="203.8" cy="580.0" r="1.01" fill="#9d7052"/><circle cx="200.2" cy="632.2" r="0.67" fill="#a57b5e"/><circle cx="217.7" cy="569.3" r="0.85" fill="#8d6046"/><circle cx="195.9" cy="601.2" r="0.73" fill="#a57b5e"/><circle cx="233.8" cy="598.3" r="1.02" fill="#7f5740"/><circle cx="244.7" cy="590.4" r="0.72" fill="#a57b5e"/><circle cx="214.4" cy="560.7" r="0.66" fill="#7f5740"/><circle cx="228.6" cy="619.3" r="0.81" fill="#7f5740"/><circle cx="246.2" cy="602.1" r="0.74" fill="#9d7052"/><circle cx="237.5" cy="610.6" r="1.13" fill="#a57b5e"/><circle cx="226.8" cy="580.0" r="0.69" fill="#8d6046"/><circle cx="202.9" cy="607.1" r="0.65" fill="#9d7052"/><circle cx="242.6" cy="634.1" r="0.65" fill="#a57b5e"/><circle cx="214.9" cy="592.6" r="0.94" fill="#8d6046"/><circle cx="185.4" cy="628.1" r="0.65" fill="#7f5740"/><circle cx="254.2" cy="608.6" r="1.13" fill="#9d7052"/><circle cx="261.8" cy="562.8" r="1.09" fill="#8d6046"/><circle cx="273.7" cy="561.1" r="0.74" fill="#8d6046"/><circle cx="234.6" cy="586.7" r="1.11" fill="#9d7052"/><circle cx="215.1" cy="584.8" r="0.66" fill="#9d7052"/><circle cx="260.8" cy="617.3" r="0.99" fill="#8d6046"/><circle cx="219.3" cy="578.0" r="0.62" fill="#7f5740"/><circle cx="199.2" cy="595.8" r="0.76" fill="#9d7052"/><circle cx="237.1" cy="586.6" r="0.88" fill="#a57b5e"/><circle cx="237.7" cy="626.2" r="0.68" fill="#7f5740"/><circle cx="282.0" cy="564.2" r="0.91" fill="#7f5740"/><circle cx="267.1" cy="623.2" r="0.65" fill="#7f5740"/><circle cx="276.2" cy="569.8" r="0.96" fill="#9d7052"/><circle cx="217.8" cy="565.5" r="0.90" fill="#7f5740"/><circle cx="261.8" cy="593.0" r="0.86" fill="#7f5740"/><circle cx="266.0" cy="636.2" r="0.67" fill="#a57b5e"/><circle cx="249.9" cy="587.9" r="0.70" fill="#8d6046"/><circle cx="208.7" cy="621.9" r="0.86" fill="#7f5740"/><circle cx="198.1" cy="587.9" r="0.56" fill="#7f5740"/><circle cx="203.7" cy="599.1" r="1.05" fill="#7f5740"/><circle cx="218.6" cy="556.7" r="0.90" fill="#7f5740"/><circle cx="191.1" cy="594.3" r="0.61" fill="#7f5740"/><circle cx="185.8" cy="588.4" r="0.88" fill="#9d7052"/><circle cx="232.8" cy="633.7" r="0.92" fill="#8d6046"/><circle cx="198.9" cy="557.6" r="0.82" fill="#a57b5e"/><circle cx="275.4" cy="579.2" r="0.82" fill="#7f5740"/><circle cx="200.0" cy="567.5" r="0.80" fill="#9d7052"/><circle cx="217.6" cy="559.7" r="0.82" fill="#7f5740"/><circle cx="224.3" cy="620.8" r="0.79" fill="#8d6046"/><circle cx="228.6" cy="591.0" r="0.81" fill="#a57b5e"/><circle cx="278.3" cy="574.0" r="0.58" fill="#7f5740"/><circle cx="202.6" cy="573.1" r="0.79" fill="#9d7052"/><circle cx="228.9" cy="604.1" r="0.76" fill="#9d7052"/><circle cx="202.3" cy="595.1" r="1.00" fill="#9d7052"/><circle cx="190.3" cy="572.9" r="0.64" fill="#8d6046"/><circle cx="240.6" cy="623.7" r="0.69" fill="#7f5740"/><circle cx="281.6" cy="565.2" r="1.12" fill="#7f5740"/><circle cx="219.4" cy="580.2" r="1.07" fill="#7f5740"/><circle cx="240.7" cy="593.9" r="0.82" fill="#8d6046"/><circle cx="215.3" cy="563.9" r="0.85" fill="#7f5740"/><circle cx="255.7" cy="601.7" r="1.07" fill="#7f5740"/><circle cx="202.8" cy="614.9" r="1.13" fill="#9d7052"/><circle cx="277.3" cy="631.5" r="0.58" fill="#9d7052"/><circle cx="266.2" cy="567.1" r="1.03" fill="#8d6046"/><circle cx="178.2" cy="609.0" r="0.76" fill="#9d7052"/><circle cx="273.7" cy="630.1" r="0.55" fill="#a57b5e"/><circle cx="232.1" cy="621.5" r="0.68" fill="#8d6046"/><circle cx="259.7" cy="581.1" r="0.65" fill="#7f5740"/><circle cx="248.0" cy="556.0" r="0.91" fill="#9d7052"/><circle cx="257.3" cy="603.9" r="1.07" fill="#a57b5e"/><circle cx="280.7" cy="617.8" r="0.79" fill="#9d7052"/><circle cx="211.7" cy="560.8" r="0.86" fill="#9d7052"/><circle cx="233.8" cy="575.9" r="0.64" fill="#a57b5e"/><circle cx="248.7" cy="634.7" r="0.94" fill="#a57b5e"/><circle cx="184.8" cy="627.1" r="0.61" fill="#7f5740"/><circle cx="245.1" cy="601.3" r="1.09" fill="#a57b5e"/><circle cx="268.7" cy="578.4" r="0.71" fill="#8d6046"/><circle cx="267.2" cy="626.2" r="1.08" fill="#9d7052"/><circle cx="227.6" cy="565.9" r="1.06" fill="#8d6046"/><circle cx="216.3" cy="578.3" r="0.66" fill="#a57b5e"/><circle cx="192.2" cy="630.3" r="0.79" fill="#7f5740"/><circle cx="188.3" cy="598.7" r="0.92" fill="#7f5740"/><circle cx="184.2" cy="602.1" r="1.09" fill="#8d6046"/><circle cx="276.1" cy="563.5" r="0.77" fill="#7f5740"/><circle cx="280.5" cy="625.1" r="0.57" fill="#7f5740"/><circle cx="227.8" cy="612.8" r="1.14" fill="#8d6046"/><circle cx="240.8" cy="614.0" r="0.65" fill="#9d7052"/><circle cx="281.6" cy="585.9" r="1.08" fill="#a57b5e"/><circle cx="260.8" cy="568.8" r="1.08" fill="#8d6046"/><circle cx="223.5" cy="612.9" r="1.13" fill="#8d6046"/><circle cx="233.7" cy="624.0" r="0.86" fill="#8d6046"/><circle cx="179.3" cy="600.8" r="0.69" fill="#8d6046"/><circle cx="204.6" cy="635.4" r="0.70" fill="#8d6046"/><circle cx="244.2" cy="604.9" r="0.77" fill="#9d7052"/><circle cx="231.0" cy="589.6" r="0.85" fill="#8d6046"/><circle cx="192.4" cy="615.7" r="0.95" fill="#8d6046"/><circle cx="279.4" cy="558.9" r="0.78" fill="#8d6046"/><circle cx="206.4" cy="619.7" r="0.57" fill="#a57b5e"/><circle cx="200.8" cy="608.4" r="0.61" fill="#a57b5e"/><circle cx="277.7" cy="580.2" r="1.09" fill="#7f5740"/><circle cx="224.4" cy="604.8" r="0.59" fill="#8d6046"/><circle cx="204.6" cy="578.3" r="0.90" fill="#9d7052"/><circle cx="217.6" cy="590.3" r="0.98" fill="#a57b5e"/><circle cx="250.1" cy="621.0" r="0.62" fill="#9d7052"/><circle cx="264.9" cy="582.7" r="1.07" fill="#7f5740"/><circle cx="199.0" cy="627.7" r="1.15" fill="#7f5740"/><circle cx="259.0" cy="558.9" r="0.79" fill="#a57b5e"/><circle cx="226.7" cy="624.6" r="0.56" fill="#a57b5e"/><circle cx="276.8" cy="575.5" r="1.01" fill="#7f5740"/><circle cx="218.6" cy="626.0" r="0.78" fill="#9d7052"/><circle cx="238.7" cy="617.8" r="0.81" fill="#9d7052"/><circle cx="242.7" cy="607.1" r="1.00" fill="#7f5740"/><circle cx="195.5" cy="606.3" r="0.93" fill="#8d6046"/><circle cx="189.2" cy="598.1" r="0.83" fill="#7f5740"/><circle cx="240.2" cy="604.1" r="1.00" fill="#a57b5e"/><circle cx="261.4" cy="632.3" r="0.64" fill="#8d6046"/><circle cx="182.2" cy="561.6" r="0.74" fill="#8d6046"/><circle cx="240.2" cy="607.5" r="0.78" fill="#a57b5e"/><circle cx="191.3" cy="592.5" r="0.71" fill="#8d6046"/><circle cx="181.7" cy="615.6" r="0.82" fill="#7f5740"/><circle cx="250.1" cy="599.0" r="0.58" fill="#8d6046"/><circle cx="259.6" cy="594.8" r="1.00" fill="#8d6046"/><circle cx="228.5" cy="592.9" r="0.76" fill="#9d7052"/><circle cx="264.6" cy="562.6" r="0.95" fill="#a57b5e"/><circle cx="213.5" cy="574.0" r="0.98" fill="#7f5740"/><circle cx="180.5" cy="579.7" r="0.99" fill="#a57b5e"/><circle cx="228.8" cy="636.2" r="0.84" fill="#8d6046"/><circle cx="266.5" cy="566.0" r="1.09" fill="#9d7052"/><circle cx="184.9" cy="630.1" r="0.82" fill="#9d7052"/><circle cx="221.4" cy="563.2" r="0.63" fill="#8d6046"/><circle cx="266.3" cy="616.7" r="0.65" fill="#8d6046"/><circle cx="250.0" cy="630.2" r="1.02" fill="#9d7052"/><circle cx="212.2" cy="571.3" r="0.89" fill="#9d7052"/><circle cx="225.9" cy="602.4" r="1.00" fill="#7f5740"/><circle cx="213.2" cy="618.0" r="0.66" fill="#9d7052"/><circle cx="257.3" cy="610.7" r="0.72" fill="#9d7052"/><circle cx="264.6" cy="567.3" r="1.12" fill="#a57b5e"/><circle cx="249.5" cy="602.0" r="0.57" fill="#7f5740"/><circle cx="208.7" cy="617.7" r="0.93" fill="#9d7052"/><circle cx="212.6" cy="571.8" r="0.84" fill="#8d6046"/><circle cx="254.4" cy="609.5" r="0.64" fill="#a57b5e"/><circle cx="231.7" cy="602.0" r="0.70" fill="#7f5740"/><circle cx="271.9" cy="620.8" r="0.84" fill="#7f5740"/><circle cx="238.0" cy="592.8" r="1.13" fill="#a57b5e"/><circle cx="219.6" cy="558.8" r="0.61" fill="#7f5740"/><circle cx="203.3" cy="595.3" r="0.94" fill="#8d6046"/><circle cx="215.9" cy="572.4" r="1.14" fill="#a57b5e"/><circle cx="282.0" cy="559.8" r="0.57" fill="#9d7052"/><circle cx="263.5" cy="621.9" r="0.83" fill="#a57b5e"/><circle cx="274.2" cy="576.7" r="0.91" fill="#a57b5e"/><circle cx="265.7" cy="560.2" r="0.98" fill="#9d7052"/><circle cx="191.4" cy="564.0" r="1.08" fill="#8d6046"/><circle cx="268.6" cy="630.9" r="0.72" fill="#9d7052"/><circle cx="207.2" cy="625.7" r="0.88" fill="#a57b5e"/><circle cx="205.1" cy="570.1" r="1.02" fill="#7f5740"/><circle cx="231.0" cy="579.1" r="1.09" fill="#a57b5e"/><circle cx="262.7" cy="570.2" r="0.72" fill="#7f5740"/><circle cx="224.8" cy="633.6" r="1.11" fill="#7f5740"/><circle cx="252.7" cy="608.8" r="1.10" fill="#9d7052"/><circle cx="178.3" cy="633.5" r="0.93" fill="#8d6046"/><circle cx="188.5" cy="631.3" r="0.74" fill="#a57b5e"/><circle cx="233.1" cy="614.1" r="1.01" fill="#a57b5e"/><circle cx="204.5" cy="611.2" r="0.65" fill="#7f5740"/><circle cx="182.3" cy="569.4" r="0.74" fill="#a57b5e"/><circle cx="213.7" cy="572.5" r="1.07" fill="#8d6046"/><circle cx="218.5" cy="573.2" r="1.14" fill="#8d6046"/><circle cx="275.4" cy="580.6" r="1.08" fill="#8d6046"/><circle cx="231.7" cy="588.6" r="0.88" fill="#9d7052"/><circle cx="274.4" cy="613.6" r="0.69" fill="#7f5740"/><circle cx="199.0" cy="632.4" r="1.14" fill="#7f5740"/><circle cx="191.3" cy="609.4" r="0.65" fill="#9d7052"/><circle cx="255.6" cy="593.1" r="0.86" fill="#a57b5e"/><circle cx="194.9" cy="586.8" r="0.61" fill="#8d6046"/><circle cx="262.6" cy="564.2" r="1.11" fill="#9d7052"/><circle cx="245.0" cy="595.1" r="0.74" fill="#9d7052"/><circle cx="194.9" cy="593.1" r="0.58" fill="#9d7052"/><circle cx="215.1" cy="568.4" r="1.14" fill="#a57b5e"/><circle cx="251.9" cy="581.8" r="0.80" fill="#8d6046"/><circle cx="182.3" cy="572.3" r="0.77" fill="#a57b5e"/><circle cx="193.9" cy="582.4" r="1.05" fill="#9d7052"/><circle cx="210.2" cy="564.2" r="0.64" fill="#7f5740"/><circle cx="266.7" cy="596.4" r="0.68" fill="#7f5740"/><circle cx="188.9" cy="588.6" r="0.68" fill="#9d7052"/><circle cx="252.7" cy="594.8" r="0.93" fill="#9d7052"/><circle cx="266.9" cy="576.2" r="1.14" fill="#8d6046"/><circle cx="271.6" cy="569.6" r="0.86" fill="#7f5740"/><circle cx="231.5" cy="609.7" r="0.72" fill="#7f5740"/><circle cx="177.4" cy="627.4" r="0.64" fill="#a57b5e"/><circle cx="266.3" cy="624.6" r="0.65" fill="#a57b5e"/><circle cx="269.9" cy="596.3" r="0.64" fill="#7f5740"/><circle cx="200.0" cy="607.3" r="0.61" fill="#7f5740"/><circle cx="271.6" cy="567.2" r="0.84" fill="#7f5740"/><circle cx="218.0" cy="615.8" r="1.12" fill="#8d6046"/><circle cx="208.0" cy="591.7" r="1.09" fill="#7f5740"/><circle cx="244.0" cy="600.0" r="1.00" fill="#8d6046"/><circle cx="234.1" cy="603.9" r="1.13" fill="#a57b5e"/><circle cx="194.5" cy="598.7" r="0.60" fill="#9d7052"/><circle cx="263.3" cy="636.4" r="1.12" fill="#8d6046"/><circle cx="231.5" cy="626.9" r="0.63" fill="#7f5740"/><circle cx="218.5" cy="581.8" r="0.86" fill="#7f5740"/><circle cx="270.0" cy="571.2" r="0.73" fill="#8d6046"/><circle cx="221.6" cy="633.7" r="0.67" fill="#7f5740"/><circle cx="183.1" cy="625.5" r="0.63" fill="#9d7052"/><circle cx="246.2" cy="589.9" r="0.73" fill="#a57b5e"/><circle cx="188.5" cy="609.9" r="1.02" fill="#9d7052"/><circle cx="205.5" cy="621.6" r="0.69" fill="#a57b5e"/><circle cx="226.7" cy="567.9" r="0.74" fill="#a57b5e"/><circle cx="220.5" cy="572.5" r="0.91" fill="#7f5740"/><circle cx="230.9" cy="636.2" r="0.81" fill="#7f5740"/><circle cx="184.3" cy="634.3" r="1.12" fill="#9d7052"/><circle cx="222.2" cy="575.3" r="0.60" fill="#7f5740"/><circle cx="268.2" cy="573.0" r="0.73" fill="#8d6046"/><circle cx="210.9" cy="584.0" r="0.84" fill="#a57b5e"/><circle cx="194.2" cy="579.1" r="0.70" fill="#a57b5e"/><circle cx="248.8" cy="615.3" r="1.00" fill="#8d6046"/><circle cx="253.5" cy="625.9" r="1.04" fill="#9d7052"/><circle cx="250.6" cy="618.6" r="1.00" fill="#8d6046"/><circle cx="261.4" cy="580.0" r="0.93" fill="#a57b5e"/><circle cx="278.8" cy="573.5" r="0.91" fill="#8d6046"/><circle cx="180.2" cy="580.8" r="0.86" fill="#9d7052"/><circle cx="193.4" cy="634.0" r="0.96" fill="#7f5740"/><circle cx="268.0" cy="569.7" r="0.58" fill="#8d6046"/><circle cx="282.0" cy="567.1" r="0.95" fill="#8d6046"/><circle cx="242.6" cy="592.7" r="1.15" fill="#a57b5e"/><circle cx="237.8" cy="601.6" r="0.93" fill="#9d7052"/><circle cx="223.4" cy="562.0" r="0.90" fill="#9d7052"/><circle cx="201.4" cy="563.6" r="0.89" fill="#8d6046"/><circle cx="192.5" cy="636.4" r="0.97" fill="#8d6046"/><circle cx="273.4" cy="578.8" r="1.04" fill="#9d7052"/><circle cx="245.9" cy="620.1" r="1.06" fill="#a57b5e"/><circle cx="271.2" cy="600.2" r="0.75" fill="#8d6046"/><circle cx="199.7" cy="557.4" r="0.96" fill="#8d6046"/><circle cx="221.0" cy="599.8" r="1.07" fill="#a57b5e"/><circle cx="252.9" cy="591.3" r="0.93" fill="#8d6046"/><circle cx="180.2" cy="621.0" r="1.15" fill="#7f5740"/><circle cx="218.3" cy="633.8" r="0.59" fill="#8d6046"/><circle cx="281.6" cy="617.7" r="0.98" fill="#8d6046"/><circle cx="219.8" cy="575.5" r="0.74" fill="#a57b5e"/><circle cx="179.1" cy="566.2" r="0.90" fill="#8d6046"/><circle cx="245.5" cy="611.6" r="0.69" fill="#8d6046"/><circle cx="186.1" cy="618.1" r="0.77" fill="#9d7052"/><circle cx="192.8" cy="556.0" r="0.94" fill="#7f5740"/><circle cx="196.9" cy="582.0" r="0.67" fill="#9d7052"/><circle cx="250.9" cy="591.0" r="0.80" fill="#a57b5e"/><circle cx="239.2" cy="627.9" r="1.03" fill="#7f5740"/><circle cx="215.4" cy="566.5" r="0.74" fill="#a57b5e"/><circle cx="280.3" cy="574.5" r="0.56" fill="#8d6046"/><circle cx="183.7" cy="625.9" r="1.07" fill="#8d6046"/><circle cx="236.5" cy="624.2" r="1.07" fill="#7f5740"/><circle cx="241.9" cy="606.1" r="1.09" fill="#7f5740"/><circle cx="195.1" cy="621.5" r="0.84" fill="#a57b5e"/><circle cx="267.3" cy="560.7" r="0.57" fill="#8d6046"/><circle cx="197.6" cy="601.0" r="0.89" fill="#9d7052"/><circle cx="253.9" cy="603.3" r="0.79" fill="#9d7052"/><circle cx="214.6" cy="570.7" r="1.01" fill="#8d6046"/><circle cx="187.5" cy="597.0" r="0.63" fill="#8d6046"/><circle cx="259.4" cy="576.4" r="0.78" fill="#a57b5e"/><circle cx="248.2" cy="590.7" r="0.58" fill="#9d7052"/><circle cx="245.9" cy="586.0" r="0.63" fill="#9d7052"/><circle cx="187.6" cy="631.7" r="1.06" fill="#8d6046"/><circle cx="204.8" cy="570.9" r="0.82" fill="#a57b5e"/><circle cx="236.7" cy="601.0" r="1.12" fill="#a57b5e"/><circle cx="270.5" cy="564.3" r="0.72" fill="#8d6046"/><circle cx="214.0" cy="627.9" r="0.77" fill="#9d7052"/><circle cx="210.3" cy="582.2" r="0.62" fill="#7f5740"/><circle cx="213.2" cy="569.7" r="0.70" fill="#a57b5e"/><circle cx="180.8" cy="615.2" r="0.70" fill="#9d7052"/><circle cx="217.5" cy="592.6" r="0.67" fill="#9d7052"/><circle cx="241.2" cy="607.3" r="0.97" fill="#8d6046"/><circle cx="259.1" cy="626.0" r="0.81" fill="#8d6046"/><circle cx="216.3" cy="568.9" r="0.76" fill="#a57b5e"/><circle cx="269.4" cy="581.4" r="0.56" fill="#a57b5e"/><circle cx="200.6" cy="604.9" r="0.83" fill="#a57b5e"/><circle cx="236.4" cy="636.4" r="0.93" fill="#7f5740"/><circle cx="211.0" cy="610.7" r="0.73" fill="#a57b5e"/><circle cx="279.7" cy="623.7" r="1.07" fill="#7f5740"/><circle cx="227.9" cy="584.6" r="0.79" fill="#9d7052"/><circle cx="242.7" cy="628.8" r="0.94" fill="#a57b5e"/><circle cx="242.0" cy="558.6" r="0.88" fill="#9d7052"/><circle cx="241.6" cy="609.2" r="0.67" fill="#a57b5e"/><circle cx="269.8" cy="573.8" r="0.70" fill="#a57b5e"/><circle cx="202.0" cy="584.9" r="0.98" fill="#7f5740"/><circle cx="252.2" cy="604.9" r="1.14" fill="#7f5740"/><circle cx="242.1" cy="607.2" r="1.08" fill="#a57b5e"/><circle cx="254.0" cy="626.8" r="0.64" fill="#8d6046"/><circle cx="273.8" cy="625.8" r="1.12" fill="#9d7052"/><circle cx="182.6" cy="632.9" r="0.81" fill="#9d7052"/><circle cx="270.7" cy="573.5" r="0.99" fill="#7f5740"/><circle cx="208.2" cy="562.9" r="0.60" fill="#a57b5e"/><circle cx="275.3" cy="634.1" r="0.77" fill="#8d6046"/><circle cx="202.9" cy="563.9" r="0.92" fill="#9d7052"/><circle cx="243.2" cy="598.5" r="0.87" fill="#8d6046"/><circle cx="239.6" cy="591.5" r="0.95" fill="#7f5740"/><circle cx="266.1" cy="559.8" r="0.77" fill="#9d7052"/><circle cx="218.8" cy="601.9" r="0.97" fill="#9d7052"/><circle cx="255.8" cy="588.7" r="0.60" fill="#7f5740"/><circle cx="262.1" cy="581.9" r="0.98" fill="#7f5740"/><circle cx="238.5" cy="596.1" r="0.56" fill="#a57b5e"/><circle cx="236.2" cy="614.3" r="1.03" fill="#8d6046"/><circle cx="228.4" cy="610.4" r="1.08" fill="#7f5740"/><circle cx="186.1" cy="629.3" r="0.55" fill="#9d7052"/><circle cx="252.6" cy="607.1" r="0.70" fill="#a57b5e"/><circle cx="226.4" cy="620.5" r="0.88" fill="#8d6046"/><circle cx="278.9" cy="567.2" r="1.03" fill="#9d7052"/><circle cx="184.3" cy="591.4" r="0.57" fill="#8d6046"/><circle cx="221.9" cy="587.8" r="0.70" fill="#8d6046"/><circle cx="241.2" cy="599.8" r="0.98" fill="#7f5740"/><circle cx="280.7" cy="568.7" r="1.05" fill="#a57b5e"/><circle cx="265.1" cy="633.8" r="0.84" fill="#9d7052"/><circle cx="262.6" cy="629.0" r="1.14" fill="#a57b5e"/><circle cx="206.0" cy="571.7" r="1.07" fill="#9d7052"/><circle cx="231.2" cy="593.0" r="1.11" fill="#7f5740"/><circle cx="220.6" cy="585.8" r="0.89" fill="#9d7052"/><circle cx="206.9" cy="568.1" r="1.12" fill="#7f5740"/><circle cx="213.4" cy="574.2" r="0.98" fill="#7f5740"/><circle cx="190.1" cy="556.3" r="0.69" fill="#8d6046"/><circle cx="188.1" cy="608.8" r="0.58" fill="#7f5740"/><circle cx="281.4" cy="573.3" r="0.80" fill="#a57b5e"/><circle cx="209.8" cy="581.8" r="1.04" fill="#7f5740"/><circle cx="223.9" cy="617.8" r="0.60" fill="#7f5740"/><circle cx="226.8" cy="569.1" r="0.71" fill="#a57b5e"/><circle cx="207.3" cy="578.1" r="0.69" fill="#a57b5e"/><circle cx="275.7" cy="565.3" r="0.58" fill="#a57b5e"/><circle cx="213.7" cy="578.5" r="0.92" fill="#8d6046"/><circle cx="238.7" cy="605.4" r="0.98" fill="#9d7052"/><circle cx="275.3" cy="612.5" r="0.81" fill="#7f5740"/><circle cx="179.0" cy="568.4" r="0.82" fill="#9d7052"/><circle cx="231.5" cy="597.9" r="1.10" fill="#9d7052"/><circle cx="216.2" cy="584.3" r="0.84" fill="#9d7052"/><circle cx="213.9" cy="572.3" r="0.77" fill="#7f5740"/><circle cx="220.0" cy="614.0" r="0.75" fill="#7f5740"/><circle cx="245.4" cy="630.4" r="0.70" fill="#a57b5e"/><circle cx="233.1" cy="612.9" r="0.58" fill="#8d6046"/><circle cx="200.0" cy="558.6" r="0.71" fill="#7f5740"/><circle cx="191.6" cy="624.3" r="0.68" fill="#a57b5e"/><circle cx="190.3" cy="559.9" r="1.02" fill="#a57b5e"/><circle cx="270.2" cy="614.8" r="0.60" fill="#8d6046"/><circle cx="262.3" cy="584.6" r="0.81" fill="#a57b5e"/><circle cx="183.5" cy="609.0" r="1.12" fill="#7f5740"/><circle cx="183.6" cy="574.3" r="0.67" fill="#8d6046"/><circle cx="211.1" cy="583.4" r="0.89" fill="#9d7052"/><circle cx="204.0" cy="571.0" r="0.68" fill="#a57b5e"/><circle cx="249.8" cy="610.2" r="0.76" fill="#8d6046"/><circle cx="184.6" cy="632.4" r="0.67" fill="#a57b5e"/><circle cx="213.1" cy="582.3" r="0.85" fill="#a57b5e"/><circle cx="241.6" cy="610.6" r="1.10" fill="#8d6046"/><circle cx="274.5" cy="626.1" r="0.87" fill="#a57b5e"/><circle cx="264.7" cy="620.4" r="0.75" fill="#9d7052"/><circle cx="213.5" cy="596.9" r="1.11" fill="#a57b5e"/><circle cx="216.7" cy="565.7" r="1.07" fill="#a57b5e"/><circle cx="253.1" cy="613.1" r="1.13" fill="#7f5740"/><circle cx="203.2" cy="565.3" r="0.88" fill="#7f5740"/><circle cx="185.5" cy="605.9" r="0.91" fill="#a57b5e"/><circle cx="197.5" cy="563.6" r="0.84" fill="#8d6046"/><circle cx="214.4" cy="612.2" r="0.69" fill="#9d7052"/><circle cx="238.2" cy="588.2" r="1.00" fill="#9d7052"/><circle cx="278.2" cy="619.1" r="0.58" fill="#8d6046"/><circle cx="184.3" cy="556.1" r="0.82" fill="#8d6046"/><circle cx="200.0" cy="603.7" r="0.88" fill="#a57b5e"/><circle cx="260.5" cy="591.6" r="0.88" fill="#8d6046"/><circle cx="264.2" cy="584.4" r="0.73" fill="#a57b5e"/><circle cx="256.4" cy="561.4" r="1.03" fill="#9d7052"/><circle cx="229.5" cy="634.1" r="1.01" fill="#9d7052"/><circle cx="266.2" cy="558.3" r="0.99" fill="#9d7052"/><circle cx="200.1" cy="601.1" r="0.79" fill="#a57b5e"/><circle cx="273.5" cy="578.2" r="0.68" fill="#7f5740"/><circle cx="206.0" cy="603.1" r="0.72" fill="#8d6046"/><circle cx="277.8" cy="623.7" r="0.62" fill="#8d6046"/><circle cx="201.3" cy="579.6" r="1.06" fill="#9d7052"/><circle cx="240.2" cy="583.3" r="0.58" fill="#9d7052"/><circle cx="225.6" cy="627.0" r="0.90" fill="#8d6046"/><circle cx="202.8" cy="572.2" r="0.76" fill="#a57b5e"/><circle cx="217.5" cy="582.4" r="0.60" fill="#8d6046"/><circle cx="281.2" cy="567.4" r="0.97" fill="#8d6046"/><circle cx="183.8" cy="617.9" r="1.04" fill="#7f5740"/><circle cx="238.6" cy="591.6" r="0.81" fill="#9d7052"/><circle cx="281.8" cy="583.7" r="0.62" fill="#a57b5e"/><circle cx="256.5" cy="564.5" r="0.69" fill="#7f5740"/><circle cx="211.1" cy="626.0" r="0.57" fill="#a57b5e"/><circle cx="225.8" cy="580.9" r="0.65" fill="#7f5740"/><circle cx="224.5" cy="634.9" r="1.15" fill="#9d7052"/><circle cx="260.7" cy="602.8" r="1.06" fill="#7f5740"/><circle cx="208.3" cy="571.6" r="0.89" fill="#7f5740"/><circle cx="281.8" cy="567.6" r="0.75" fill="#9d7052"/><circle cx="238.5" cy="634.5" r="0.76" fill="#a57b5e"/><circle cx="256.4" cy="579.5" r="0.93" fill="#7f5740"/><circle cx="203.6" cy="620.8" r="1.14" fill="#7f5740"/><circle cx="208.3" cy="575.9" r="1.08" fill="#9d7052"/><circle cx="258.6" cy="567.5" r="1.12" fill="#7f5740"/><circle cx="275.7" cy="560.6" r="0.68" fill="#9d7052"/><circle cx="196.6" cy="581.2" r="1.04" fill="#a57b5e"/><circle cx="271.2" cy="576.2" r="0.78" fill="#9d7052"/><circle cx="266.2" cy="631.2" r="1.12" fill="#8d6046"/><circle cx="249.5" cy="635.8" r="1.07" fill="#a57b5e"/><circle cx="208.2" cy="590.9" r="0.93" fill="#7f5740"/><circle cx="189.7" cy="581.7" r="0.59" fill="#8d6046"/><circle cx="234.1" cy="607.3" r="0.92" fill="#7f5740"/><circle cx="233.7" cy="610.3" r="0.70" fill="#8d6046"/><circle cx="178.5" cy="630.4" r="0.72" fill="#8d6046"/><circle cx="273.4" cy="558.4" r="0.99" fill="#a57b5e"/><circle cx="234.2" cy="618.2" r="0.65" fill="#9d7052"/><circle cx="269.1" cy="567.0" r="0.80" fill="#a57b5e"/><circle cx="183.4" cy="611.4" r="0.58" fill="#7f5740"/><circle cx="227.4" cy="567.7" r="1.08" fill="#9d7052"/><circle cx="261.9" cy="626.8" r="0.79" fill="#a57b5e"/><circle cx="202.5" cy="562.7" r="0.66" fill="#9d7052"/><circle cx="227.6" cy="615.3" r="0.57" fill="#9d7052"/><circle cx="269.8" cy="584.4" r="0.64" fill="#7f5740"/><circle cx="239.4" cy="585.4" r="0.85" fill="#a57b5e"/><circle cx="238.9" cy="597.3" r="0.63" fill="#a57b5e"/><circle cx="204.2" cy="618.4" r="0.78" fill="#8d6046"/><circle cx="240.1" cy="586.8" r="0.76" fill="#a57b5e"/><circle cx="214.9" cy="606.1" r="0.81" fill="#a57b5e"/><circle cx="232.9" cy="593.3" r="1.12" fill="#7f5740"/><circle cx="193.7" cy="632.1" r="0.69" fill="#7f5740"/><circle cx="197.8" cy="569.1" r="0.81" fill="#9d7052"/><circle cx="263.7" cy="579.0" r="0.58" fill="#7f5740"/><circle cx="224.9" cy="566.1" r="1.10" fill="#7f5740"/><circle cx="197.1" cy="609.9" r="0.71" fill="#7f5740"/><circle cx="231.3" cy="607.2" r="0.92" fill="#9d7052"/><circle cx="195.7" cy="636.3" r="1.08" fill="#7f5740"/><circle cx="190.9" cy="593.1" r="0.74" fill="#8d6046"/><circle cx="259.6" cy="608.6" r="0.57" fill="#a57b5e"/><circle cx="201.9" cy="629.1" r="0.85" fill="#7f5740"/><circle cx="250.0" cy="589.2" r="1.13" fill="#7f5740"/><circle cx="213.0" cy="632.0" r="0.89" fill="#a57b5e"/><circle cx="262.6" cy="622.7" r="0.78" fill="#7f5740"/><circle cx="191.7" cy="615.3" r="0.90" fill="#9d7052"/><circle cx="252.3" cy="599.1" r="0.57" fill="#8d6046"/><circle cx="201.7" cy="566.4" r="0.57" fill="#9d7052"/></g></g>
<clipPath id="cp21"><rect x="177.4" y="555.9" width="104.9" height="80.9"/></clipPath>
<rect x="243.7" y="556.2" width="38.1" height="36.9" fill="#d6d4ea"/>
<rect x="243.7" y="556.2" width="38.1" height="36.9" filter="url(#fi21e)"/>
<clipPath id="cp21i"><rect x="243.7" y="556.2" width="38.1" height="36.9"/></clipPath><g clip-path="url(#cp21i)"><g filter="url(#bl05)" opacity="0.85"><ellipse cx="245.1" cy="568.5" rx="2.17" ry="1.61" fill="#9d7052"/><ellipse cx="245.4" cy="565.8" rx="1.86" ry="1.37" fill="#8d6046"/><ellipse cx="248.8" cy="582.8" rx="1.59" ry="1.62" fill="#8d6046"/><ellipse cx="249.3" cy="562.3" rx="1.94" ry="1.88" fill="#7f5740"/><ellipse cx="266.9" cy="559.3" rx="1.71" ry="1.53" fill="#9d7052"/><ellipse cx="280.6" cy="566.9" rx="2.18" ry="1.76" fill="#8d6046"/><ellipse cx="253.9" cy="559.0" rx="1.44" ry="1.67" fill="#7f5740"/><ellipse cx="245.8" cy="580.6" rx="1.63" ry="1.79" fill="#8d6046"/><ellipse cx="263.6" cy="564.5" rx="2.01" ry="1.43" fill="#a57b5e"/><ellipse cx="272.6" cy="560.9" rx="1.92" ry="1.74" fill="#7f5740"/><ellipse cx="277.2" cy="569.1" rx="1.55" ry="1.82" fill="#a57b5e"/><ellipse cx="249.0" cy="591.2" rx="2.12" ry="1.89" fill="#8d6046"/><ellipse cx="271.3" cy="570.1" rx="1.72" ry="1.33" fill="#a57b5e"/><ellipse cx="250.4" cy="591.5" rx="2.08" ry="1.89" fill="#8d6046"/><ellipse cx="244.8" cy="590.1" rx="1.64" ry="1.67" fill="#8d6046"/><ellipse cx="247.5" cy="579.9" rx="1.69" ry="1.47" fill="#a57b5e"/><ellipse cx="257.5" cy="564.6" rx="1.96" ry="1.47" fill="#9d7052"/><ellipse cx="248.1" cy="561.9" rx="2.00" ry="1.29" fill="#a57b5e"/><ellipse cx="267.6" cy="580.3" rx="1.70" ry="1.85" fill="#a57b5e"/><ellipse cx="256.7" cy="569.8" rx="2.14" ry="1.71" fill="#7f5740"/><ellipse cx="250.8" cy="568.8" rx="2.18" ry="1.42" fill="#9d7052"/><ellipse cx="245.7" cy="558.9" rx="1.53" ry="1.31" fill="#7f5740"/><ellipse cx="258.1" cy="569.9" rx="1.54" ry="1.52" fill="#9d7052"/><ellipse cx="277.4" cy="576.8" rx="2.02" ry="1.82" fill="#7f5740"/><ellipse cx="261.9" cy="570.9" rx="2.11" ry="1.40" fill="#8d6046"/><ellipse cx="246.5" cy="584.0" rx="1.82" ry="1.40" fill="#7f5740"/><ellipse cx="268.6" cy="560.4" rx="1.56" ry="1.35" fill="#8d6046"/><ellipse cx="270.0" cy="573.5" rx="1.81" ry="1.26" fill="#7f5740"/></g></g>
<rect x="221.6" y="605.2" width="16.4" height="17.2" fill="none" stroke="#e5322d" stroke-width="1.2"/>
<rect x="243.7" y="556.2" width="38.1" height="36.9" fill="none" stroke="#e5322d" stroke-width="1.3"/>
<line x1="238.0" y1="605.2" x2="243.7" y2="593.1" stroke="#e5322d" stroke-width="1.1"/>
<line x1="256.1" y1="631.5" x2="275.9" y2="631.5" stroke="#111" stroke-width="1.6"/>
<rect x="177.4" y="555.9" width="104.9" height="80.9" fill="none" stroke="#111" stroke-width="1.3"/>
<filter id="fi22a" x="0" y="0" width="1" height="1" filterUnits="objectBoundingBox" color-interpolation-filters="sRGB">
<feTurbulence type="fractalNoise" baseFrequency="0.38" numOctaves="2" seed="22" result="n"/>
<feColorMatrix in="n" type="matrix" values="0 0 0 0 0.62  0 0 0 0 0.64  0 0 0 0 0.84  0 1.4 0 0 -0.62"/>
<feComponentTransfer><feFuncA type="linear" slope="2.2" intercept="0"/></feComponentTransfer>
</filter>
<filter id="fi22b" x="0" y="0" width="1" height="1" filterUnits="objectBoundingBox" color-interpolation-filters="sRGB">
<feTurbulence type="fractalNoise" baseFrequency="0.48" numOctaves="2" seed="29" result="n"/>
<feColorMatrix in="n" type="matrix" values="0 0 0 0 0.64  0 0 0 0 0.48  0 0 0 0 0.36  1 0 0 0 0"/>
<feComponentTransfer result="hct"><feFuncA type="linear" slope="6" intercept="-3.22"/></feComponentTransfer>
<feTurbulence type="fractalNoise" baseFrequency="0.06" numOctaves="2" seed="39" result="lf"/>
<feColorMatrix in="lf" type="matrix" values="0 0 0 0 0  0 0 0 0 0  0 0 0 0 0  3.5 0 0 0 -1.25" result="lm"/>
<feComposite in="hct" in2="lm" operator="in"/>
<feGaussianBlur stdDeviation="0.5"/>
</filter>
<filter id="fi22c" x="0" y="0" width="1" height="1" filterUnits="objectBoundingBox" color-interpolation-filters="sRGB">
<feTurbulence type="fractalNoise" baseFrequency="0.9" numOctaves="1" seed="25" result="n"/>
<feColorMatrix in="n" type="matrix" values="0 0 0 0 1  0 0 0 0 1  0 0 0 0 1  0 0 1.6 0 -0.75"/>
<feComponentTransfer><feFuncA type="linear" slope="1.6" intercept="0"/></feComponentTransfer>
</filter>
<filter id="fi22d" x="0" y="0" width="1" height="1" filterUnits="objectBoundingBox" color-interpolation-filters="sRGB">
<feTurbulence type="fractalNoise" baseFrequency="0.16" numOctaves="2" seed="33" result="n"/>
<feColorMatrix in="n" type="matrix" values="0 0 0 0 0.64  0 0 0 0 0.48  0 0 0 0 0.36  1 0 0 0 0"/>
<feComponentTransfer><feFuncA type="linear" slope="5" intercept="-2.7"/></feComponentTransfer>
<feGaussianBlur stdDeviation="0.6"/>
</filter>
<filter id="fi22e" x="0" y="0" width="1" height="1" filterUnits="objectBoundingBox" color-interpolation-filters="sRGB">
<feTurbulence type="fractalNoise" baseFrequency="0.12" numOctaves="2" seed="27" result="n"/>
<feColorMatrix in="n" type="matrix" values="0 0 0 0 0.7  0 0 0 0 0.72  0 0 0 0 0.88  0 1.4 0 0 -0.66"/>
<feComponentTransfer><feFuncA type="linear" slope="2.5" intercept="0"/></feComponentTransfer>
<feGaussianBlur stdDeviation="0.5"/>
</filter>
<rect x="291.3" y="555.5" width="105.4" height="81.7" fill="#e9e6f0"/>
<rect x="291.3" y="555.5" width="105.4" height="81.7" filter="url(#fi22a)"/>
<rect x="291.3" y="555.5" width="105.4" height="81.7" filter="url(#fi22c)"/>
<g clip-path="url(#cp22)"><g filter="url(#bl05)" opacity="0.9"><circle cx="374.0" cy="561.2" r="0.65" fill="#7e5638"/><circle cx="358.6" cy="558.0" r="0.78" fill="#9c7050"/><circle cx="364.8" cy="635.3" r="0.74" fill="#7e5638"/><circle cx="391.4" cy="571.9" r="1.00" fill="#a88060"/><circle cx="334.1" cy="580.9" r="0.56" fill="#8e6444"/><circle cx="328.3" cy="604.9" r="0.79" fill="#8e6444"/><circle cx="369.3" cy="604.9" r="1.04" fill="#a88060"/><circle cx="384.5" cy="614.2" r="0.55" fill="#a88060"/><circle cx="376.7" cy="622.8" r="1.09" fill="#7e5638"/><circle cx="369.2" cy="582.6" r="0.59" fill="#a88060"/><circle cx="376.0" cy="556.9" r="1.02" fill="#9c7050"/><circle cx="372.1" cy="563.8" r="0.89" fill="#a88060"/><circle cx="297.9" cy="619.2" r="1.13" fill="#7e5638"/><circle cx="337.0" cy="572.8" r="0.76" fill="#9c7050"/><circle cx="364.2" cy="619.1" r="0.74" fill="#a88060"/><circle cx="320.9" cy="557.2" r="0.99" fill="#a88060"/><circle cx="349.6" cy="636.2" r="0.67" fill="#7e5638"/><circle cx="314.0" cy="617.4" r="1.10" fill="#a88060"/><circle cx="367.1" cy="617.8" r="0.65" fill="#a88060"/><circle cx="294.9" cy="632.9" r="0.79" fill="#a88060"/><circle cx="384.7" cy="576.5" r="0.78" fill="#7e5638"/><circle cx="341.6" cy="577.5" r="0.58" fill="#8e6444"/><circle cx="366.9" cy="622.2" r="0.88" fill="#a88060"/><circle cx="359.9" cy="599.5" r="0.93" fill="#9c7050"/><circle cx="313.2" cy="627.6" r="1.08" fill="#7e5638"/><circle cx="359.4" cy="558.5" r="1.13" fill="#9c7050"/><circle cx="381.7" cy="571.2" r="0.70" fill="#9c7050"/><circle cx="316.8" cy="584.9" r="0.76" fill="#9c7050"/><circle cx="312.4" cy="627.9" r="0.67" fill="#7e5638"/><circle cx="307.5" cy="599.2" r="0.94" fill="#9c7050"/><circle cx="362.6" cy="556.8" r="0.91" fill="#8e6444"/><circle cx="348.4" cy="624.6" r="0.74" fill="#a88060"/><circle cx="291.6" cy="588.2" r="0.58" fill="#a88060"/><circle cx="362.3" cy="628.7" r="0.78" fill="#7e5638"/><circle cx="303.5" cy="560.4" r="0.83" fill="#8e6444"/><circle cx="373.0" cy="602.0" r="0.99" fill="#7e5638"/><circle cx="351.4" cy="572.9" r="0.90" fill="#9c7050"/><circle cx="396.2" cy="571.2" r="0.73" fill="#a88060"/><circle cx="309.9" cy="617.4" r="0.90" fill="#8e6444"/><circle cx="310.2" cy="563.1" r="1.05" fill="#8e6444"/><circle cx="340.9" cy="582.3" r="0.60" fill="#7e5638"/><circle cx="354.2" cy="594.8" r="0.81" fill="#7e5638"/><circle cx="326.3" cy="559.2" r="0.70" fill="#8e6444"/><circle cx="333.9" cy="590.4" r="1.10" fill="#7e5638"/><circle cx="363.4" cy="611.8" r="0.78" fill="#a88060"/><circle cx="319.8" cy="636.2" r="0.77" fill="#7e5638"/><circle cx="346.0" cy="585.1" r="0.59" fill="#a88060"/><circle cx="374.3" cy="561.2" r="1.11" fill="#a88060"/><circle cx="348.3" cy="603.7" r="0.80" fill="#a88060"/><circle cx="296.3" cy="580.8" r="0.88" fill="#9c7050"/><circle cx="390.4" cy="632.6" r="0.79" fill="#9c7050"/><circle cx="291.4" cy="585.7" r="0.64" fill="#7e5638"/><circle cx="360.3" cy="613.9" r="0.90" fill="#a88060"/><circle cx="298.6" cy="609.6" r="0.77" fill="#7e5638"/><circle cx="383.6" cy="593.7" r="0.77" fill="#a88060"/><circle cx="377.0" cy="559.7" r="0.94" fill="#8e6444"/><circle cx="343.4" cy="578.8" r="0.85" fill="#8e6444"/><circle cx="336.2" cy="609.5" r="0.64" fill="#8e6444"/><circle cx="309.2" cy="601.1" r="0.79" fill="#9c7050"/><circle cx="344.0" cy="582.6" r="1.00" fill="#a88060"/><circle cx="359.1" cy="591.2" r="0.63" fill="#7e5638"/><circle cx="321.5" cy="620.0" r="0.65" fill="#a88060"/><circle cx="333.0" cy="576.6" r="0.68" fill="#9c7050"/><circle cx="312.3" cy="625.4" r="0.80" fill="#7e5638"/><circle cx="316.2" cy="620.7" r="0.61" fill="#a88060"/><circle cx="380.2" cy="610.4" r="0.75" fill="#a88060"/><circle cx="312.2" cy="613.5" r="0.99" fill="#a88060"/><circle cx="372.5" cy="621.3" r="0.82" fill="#7e5638"/><circle cx="360.9" cy="605.7" r="0.79" fill="#7e5638"/><circle cx="323.4" cy="566.9" r="0.89" fill="#a88060"/><circle cx="306.4" cy="623.3" r="0.78" fill="#a88060"/><circle cx="357.7" cy="622.9" r="0.94" fill="#7e5638"/><circle cx="333.3" cy="571.4" r="0.69" fill="#7e5638"/><circle cx="367.7" cy="613.0" r="0.59" fill="#9c7050"/><circle cx="307.1" cy="621.4" r="0.93" fill="#7e5638"/><circle cx="324.2" cy="633.2" r="0.83" fill="#7e5638"/><circle cx="320.8" cy="564.4" r="0.69" fill="#8e6444"/><circle cx="354.7" cy="634.8" r="0.75" fill="#9c7050"/><circle cx="316.3" cy="560.8" r="0.93" fill="#7e5638"/><circle cx="334.0" cy="630.3" r="0.67" fill="#9c7050"/><circle cx="358.1" cy="617.1" r="0.59" fill="#7e5638"/><circle cx="380.2" cy="621.7" r="0.99" fill="#7e5638"/><circle cx="349.0" cy="601.5" r="1.07" fill="#a88060"/><circle cx="384.2" cy="590.9" r="0.76" fill="#8e6444"/><circle cx="394.6" cy="597.2" r="0.85" fill="#a88060"/><circle cx="296.8" cy="567.7" r="0.85" fill="#9c7050"/><circle cx="392.4" cy="601.3" r="0.60" fill="#a88060"/><circle cx="328.3" cy="620.5" r="1.05" fill="#8e6444"/><circle cx="361.3" cy="590.8" r="0.99" fill="#8e6444"/><circle cx="347.9" cy="586.9" r="0.59" fill="#8e6444"/><circle cx="375.4" cy="562.1" r="0.73" fill="#7e5638"/><circle cx="374.7" cy="625.3" r="0.92" fill="#9c7050"/><circle cx="315.4" cy="572.1" r="0.72" fill="#a88060"/><circle cx="299.9" cy="614.3" r="0.57" fill="#9c7050"/><circle cx="373.9" cy="579.0" r="1.10" fill="#9c7050"/><circle cx="349.5" cy="574.2" r="0.91" fill="#8e6444"/><circle cx="386.6" cy="572.3" r="0.91" fill="#9c7050"/><circle cx="333.7" cy="594.0" r="1.06" fill="#9c7050"/><circle cx="351.1" cy="635.2" r="0.73" fill="#8e6444"/><circle cx="309.1" cy="567.5" r="0.96" fill="#9c7050"/><circle cx="376.9" cy="558.9" r="1.08" fill="#9c7050"/><circle cx="391.4" cy="635.2" r="0.74" fill="#9c7050"/><circle cx="346.7" cy="632.5" r="1.03" fill="#a88060"/><circle cx="323.0" cy="572.0" r="0.56" fill="#7e5638"/><circle cx="322.8" cy="562.9" r="1.09" fill="#8e6444"/><circle cx="374.7" cy="625.8" r="0.58" fill="#9c7050"/><circle cx="394.9" cy="601.3" r="0.76" fill="#a88060"/><circle cx="291.9" cy="604.5" r="0.87" fill="#9c7050"/><circle cx="300.8" cy="623.8" r="0.95" fill="#7e5638"/><circle cx="356.6" cy="625.8" r="0.84" fill="#9c7050"/><circle cx="293.3" cy="578.0" r="0.90" fill="#7e5638"/><circle cx="336.5" cy="580.2" r="1.08" fill="#8e6444"/><circle cx="352.4" cy="569.2" r="0.85" fill="#a88060"/><circle cx="356.9" cy="602.2" r="0.58" fill="#7e5638"/><circle cx="352.1" cy="583.3" r="0.65" fill="#a88060"/><circle cx="331.9" cy="578.0" r="0.66" fill="#9c7050"/><circle cx="383.5" cy="568.9" r="0.59" fill="#8e6444"/><circle cx="326.2" cy="631.2" r="0.59" fill="#9c7050"/><circle cx="328.9" cy="631.2" r="0.79" fill="#8e6444"/><circle cx="314.6" cy="625.4" r="0.88" fill="#8e6444"/><circle cx="306.6" cy="597.0" r="1.08" fill="#9c7050"/><circle cx="364.7" cy="621.9" r="0.86" fill="#7e5638"/><circle cx="334.4" cy="605.0" r="1.00" fill="#a88060"/><circle cx="329.5" cy="567.7" r="0.60" fill="#7e5638"/><circle cx="297.0" cy="634.5" r="1.03" fill="#8e6444"/><circle cx="391.0" cy="572.8" r="0.71" fill="#8e6444"/><circle cx="349.4" cy="617.6" r="1.02" fill="#a88060"/><circle cx="325.1" cy="632.8" r="1.09" fill="#a88060"/><circle cx="366.3" cy="612.9" r="0.98" fill="#9c7050"/><circle cx="375.4" cy="616.4" r="0.75" fill="#7e5638"/><circle cx="341.4" cy="594.7" r="0.55" fill="#9c7050"/><circle cx="320.1" cy="620.8" r="0.82" fill="#8e6444"/><circle cx="316.1" cy="563.5" r="1.14" fill="#9c7050"/><circle cx="300.3" cy="557.1" r="0.88" fill="#8e6444"/><circle cx="373.3" cy="556.1" r="0.69" fill="#8e6444"/><circle cx="362.2" cy="587.3" r="0.76" fill="#8e6444"/><circle cx="355.8" cy="585.1" r="0.78" fill="#9c7050"/><circle cx="315.4" cy="620.3" r="0.74" fill="#8e6444"/><circle cx="383.8" cy="606.8" r="0.65" fill="#8e6444"/><circle cx="357.8" cy="566.3" r="1.01" fill="#9c7050"/><circle cx="373.2" cy="628.5" r="0.89" fill="#7e5638"/><circle cx="379.3" cy="599.3" r="0.78" fill="#7e5638"/><circle cx="320.7" cy="626.8" r="0.73" fill="#a88060"/><circle cx="367.9" cy="601.1" r="1.07" fill="#9c7050"/><circle cx="324.1" cy="636.0" r="0.63" fill="#7e5638"/><circle cx="371.0" cy="607.3" r="0.92" fill="#7e5638"/><circle cx="325.6" cy="557.9" r="0.84" fill="#a88060"/><circle cx="316.3" cy="628.4" r="0.78" fill="#7e5638"/><circle cx="359.4" cy="565.1" r="0.85" fill="#8e6444"/><circle cx="292.6" cy="608.7" r="0.64" fill="#9c7050"/><circle cx="352.5" cy="562.4" r="1.13" fill="#7e5638"/><circle cx="361.2" cy="605.6" r="1.09" fill="#a88060"/><circle cx="363.8" cy="605.6" r="0.86" fill="#a88060"/><circle cx="369.0" cy="616.8" r="0.58" fill="#9c7050"/><circle cx="377.4" cy="603.1" r="0.82" fill="#a88060"/><circle cx="369.7" cy="560.8" r="0.58" fill="#8e6444"/><circle cx="296.4" cy="635.4" r="1.07" fill="#a88060"/><circle cx="350.5" cy="576.1" r="0.66" fill="#9c7050"/><circle cx="346.4" cy="596.4" r="0.86" fill="#7e5638"/><circle cx="325.4" cy="570.1" r="0.92" fill="#7e5638"/><circle cx="396.4" cy="567.4" r="1.01" fill="#9c7050"/><circle cx="352.6" cy="585.9" r="1.11" fill="#7e5638"/><circle cx="294.3" cy="608.9" r="0.95" fill="#7e5638"/><circle cx="309.4" cy="619.0" r="0.56" fill="#a88060"/><circle cx="310.6" cy="604.9" r="0.69" fill="#a88060"/><circle cx="374.6" cy="597.8" r="1.02" fill="#7e5638"/><circle cx="360.5" cy="605.0" r="0.81" fill="#8e6444"/><circle cx="386.5" cy="605.0" r="1.05" fill="#a88060"/><circle cx="328.0" cy="565.2" r="1.06" fill="#8e6444"/><circle cx="298.9" cy="566.4" r="0.97" fill="#8e6444"/><circle cx="383.5" cy="564.8" r="0.74" fill="#7e5638"/><circle cx="306.1" cy="601.4" r="1.09" fill="#a88060"/><circle cx="370.5" cy="597.9" r="0.93" fill="#7e5638"/><circle cx="331.9" cy="622.0" r="0.92" fill="#a88060"/><circle cx="378.3" cy="620.9" r="0.80" fill="#7e5638"/><circle cx="359.6" cy="558.6" r="0.72" fill="#8e6444"/><circle cx="325.0" cy="636.1" r="0.65" fill="#9c7050"/><circle cx="335.2" cy="610.7" r="1.05" fill="#a88060"/><circle cx="334.9" cy="591.4" r="0.95" fill="#a88060"/><circle cx="291.4" cy="609.3" r="0.82" fill="#7e5638"/><circle cx="324.8" cy="605.3" r="0.92" fill="#a88060"/><circle cx="325.3" cy="564.0" r="0.77" fill="#7e5638"/><circle cx="342.6" cy="572.2" r="0.86" fill="#9c7050"/><circle cx="396.5" cy="634.3" r="0.74" fill="#a88060"/><circle cx="332.3" cy="582.3" r="0.97" fill="#9c7050"/><circle cx="294.3" cy="559.5" r="0.57" fill="#9c7050"/><circle cx="384.6" cy="603.8" r="0.93" fill="#7e5638"/><circle cx="375.9" cy="563.4" r="1.05" fill="#a88060"/><circle cx="306.5" cy="582.2" r="0.71" fill="#7e5638"/><circle cx="369.4" cy="625.7" r="1.04" fill="#9c7050"/><circle cx="392.8" cy="601.9" r="0.99" fill="#7e5638"/><circle cx="326.6" cy="617.2" r="1.01" fill="#a88060"/><circle cx="391.3" cy="604.5" r="1.12" fill="#7e5638"/><circle cx="346.5" cy="580.6" r="1.06" fill="#9c7050"/><circle cx="331.4" cy="626.1" r="0.92" fill="#7e5638"/><circle cx="306.4" cy="582.3" r="0.66" fill="#9c7050"/><circle cx="299.8" cy="562.2" r="1.08" fill="#9c7050"/><circle cx="332.3" cy="577.8" r="1.03" fill="#9c7050"/><circle cx="375.9" cy="562.3" r="0.68" fill="#9c7050"/><circle cx="365.7" cy="617.1" r="0.78" fill="#a88060"/><circle cx="302.5" cy="606.7" r="0.87" fill="#7e5638"/><circle cx="370.6" cy="613.0" r="0.56" fill="#a88060"/><circle cx="339.1" cy="613.5" r="0.88" fill="#9c7050"/><circle cx="375.2" cy="621.3" r="0.62" fill="#7e5638"/><circle cx="319.0" cy="561.1" r="0.90" fill="#8e6444"/><circle cx="387.5" cy="556.9" r="0.55" fill="#9c7050"/><circle cx="309.1" cy="616.4" r="0.59" fill="#8e6444"/><circle cx="347.1" cy="616.2" r="0.84" fill="#8e6444"/><circle cx="354.5" cy="615.3" r="0.64" fill="#8e6444"/><circle cx="308.6" cy="631.9" r="0.67" fill="#9c7050"/><circle cx="303.0" cy="570.3" r="1.03" fill="#7e5638"/><circle cx="373.5" cy="570.5" r="1.08" fill="#7e5638"/><circle cx="357.9" cy="587.5" r="0.99" fill="#9c7050"/><circle cx="390.9" cy="557.6" r="0.69" fill="#7e5638"/><circle cx="321.1" cy="626.3" r="1.13" fill="#7e5638"/><circle cx="361.6" cy="584.0" r="0.66" fill="#7e5638"/><circle cx="360.7" cy="572.7" r="0.72" fill="#a88060"/><circle cx="322.7" cy="613.6" r="0.91" fill="#8e6444"/><circle cx="361.3" cy="593.8" r="0.60" fill="#a88060"/><circle cx="353.5" cy="601.6" r="1.04" fill="#a88060"/><circle cx="358.4" cy="587.4" r="0.76" fill="#9c7050"/><circle cx="328.7" cy="626.4" r="1.02" fill="#9c7050"/><circle cx="311.7" cy="635.7" r="1.03" fill="#8e6444"/><circle cx="370.1" cy="624.4" r="1.07" fill="#9c7050"/><circle cx="358.7" cy="590.5" r="0.63" fill="#9c7050"/><circle cx="306.7" cy="579.3" r="0.60" fill="#8e6444"/><circle cx="331.8" cy="561.5" r="0.63" fill="#a88060"/><circle cx="347.1" cy="628.1" r="0.66" fill="#a88060"/><circle cx="357.6" cy="595.5" r="1.13" fill="#9c7050"/><circle cx="355.9" cy="585.7" r="0.90" fill="#8e6444"/><circle cx="309.6" cy="564.8" r="0.86" fill="#8e6444"/><circle cx="310.5" cy="584.3" r="0.61" fill="#9c7050"/><circle cx="317.3" cy="578.1" r="0.59" fill="#8e6444"/><circle cx="357.8" cy="587.4" r="0.71" fill="#a88060"/><circle cx="358.9" cy="578.4" r="1.06" fill="#8e6444"/><circle cx="388.6" cy="569.2" r="1.01" fill="#7e5638"/><circle cx="380.6" cy="602.6" r="0.97" fill="#8e6444"/><circle cx="390.8" cy="584.2" r="0.92" fill="#8e6444"/><circle cx="317.4" cy="563.3" r="0.81" fill="#a88060"/><circle cx="325.9" cy="572.8" r="1.15" fill="#9c7050"/><circle cx="383.6" cy="606.9" r="0.56" fill="#9c7050"/><circle cx="299.6" cy="587.0" r="0.77" fill="#a88060"/><circle cx="345.3" cy="575.7" r="0.86" fill="#9c7050"/><circle cx="322.2" cy="556.3" r="0.66" fill="#7e5638"/><circle cx="323.5" cy="631.4" r="1.03" fill="#9c7050"/><circle cx="373.6" cy="615.2" r="0.94" fill="#a88060"/><circle cx="386.0" cy="610.5" r="0.71" fill="#7e5638"/><circle cx="371.9" cy="590.5" r="0.65" fill="#a88060"/><circle cx="323.1" cy="580.6" r="0.61" fill="#8e6444"/><circle cx="316.5" cy="566.4" r="0.62" fill="#7e5638"/><circle cx="379.7" cy="605.8" r="1.08" fill="#7e5638"/><circle cx="387.4" cy="575.7" r="0.62" fill="#9c7050"/><circle cx="360.6" cy="568.8" r="0.99" fill="#9c7050"/><circle cx="325.4" cy="606.4" r="0.73" fill="#9c7050"/><circle cx="391.3" cy="607.5" r="0.78" fill="#9c7050"/><circle cx="344.9" cy="584.4" r="0.90" fill="#8e6444"/><circle cx="377.8" cy="621.4" r="0.58" fill="#a88060"/><circle cx="332.3" cy="584.7" r="0.97" fill="#7e5638"/><circle cx="393.4" cy="623.7" r="1.09" fill="#a88060"/><circle cx="293.9" cy="607.0" r="0.55" fill="#a88060"/><circle cx="379.8" cy="620.5" r="1.02" fill="#7e5638"/><circle cx="314.9" cy="618.3" r="0.72" fill="#8e6444"/><circle cx="331.6" cy="628.1" r="1.14" fill="#7e5638"/><circle cx="361.8" cy="606.6" r="0.80" fill="#9c7050"/><circle cx="321.8" cy="607.2" r="0.94" fill="#7e5638"/><circle cx="328.0" cy="555.8" r="0.86" fill="#7e5638"/><circle cx="375.7" cy="568.8" r="0.66" fill="#7e5638"/><circle cx="394.9" cy="580.7" r="1.02" fill="#a88060"/><circle cx="358.8" cy="610.8" r="0.85" fill="#8e6444"/><circle cx="303.8" cy="633.1" r="0.58" fill="#a88060"/><circle cx="375.6" cy="604.3" r="0.78" fill="#a88060"/><circle cx="356.1" cy="588.8" r="0.76" fill="#9c7050"/><circle cx="382.9" cy="621.0" r="0.84" fill="#7e5638"/><circle cx="316.2" cy="576.5" r="1.08" fill="#9c7050"/><circle cx="344.3" cy="611.0" r="0.88" fill="#7e5638"/><circle cx="328.2" cy="622.8" r="0.71" fill="#9c7050"/><circle cx="298.8" cy="619.6" r="0.82" fill="#7e5638"/><circle cx="314.7" cy="624.6" r="1.09" fill="#9c7050"/><circle cx="393.8" cy="580.7" r="0.62" fill="#a88060"/><circle cx="366.2" cy="631.3" r="0.94" fill="#8e6444"/><circle cx="320.7" cy="632.0" r="0.69" fill="#7e5638"/><circle cx="313.3" cy="606.3" r="0.56" fill="#8e6444"/><circle cx="322.7" cy="622.3" r="1.08" fill="#8e6444"/><circle cx="395.2" cy="601.2" r="0.85" fill="#a88060"/><circle cx="386.6" cy="581.5" r="0.75" fill="#9c7050"/><circle cx="382.2" cy="593.4" r="0.60" fill="#8e6444"/><circle cx="356.5" cy="619.6" r="0.92" fill="#8e6444"/><circle cx="316.6" cy="558.8" r="0.74" fill="#9c7050"/><circle cx="302.1" cy="620.3" r="1.03" fill="#8e6444"/><circle cx="325.0" cy="572.9" r="0.90" fill="#8e6444"/><circle cx="389.3" cy="595.5" r="1.09" fill="#a88060"/><circle cx="357.3" cy="574.2" r="1.12" fill="#9c7050"/><circle cx="342.6" cy="576.3" r="0.71" fill="#8e6444"/><circle cx="362.0" cy="628.8" r="0.56" fill="#7e5638"/><circle cx="291.4" cy="608.1" r="0.67" fill="#8e6444"/><circle cx="312.4" cy="624.8" r="0.91" fill="#8e6444"/><circle cx="343.2" cy="630.9" r="0.85" fill="#7e5638"/><circle cx="391.9" cy="612.2" r="0.91" fill="#9c7050"/><circle cx="292.5" cy="559.6" r="0.93" fill="#9c7050"/><circle cx="323.8" cy="581.1" r="0.83" fill="#9c7050"/><circle cx="351.7" cy="586.8" r="0.98" fill="#7e5638"/><circle cx="326.5" cy="601.0" r="1.00" fill="#9c7050"/><circle cx="349.8" cy="601.3" r="0.83" fill="#9c7050"/><circle cx="373.6" cy="615.9" r="0.85" fill="#a88060"/><circle cx="319.4" cy="629.4" r="0.76" fill="#7e5638"/><circle cx="296.5" cy="555.7" r="1.04" fill="#7e5638"/><circle cx="391.0" cy="587.6" r="0.68" fill="#a88060"/><circle cx="368.9" cy="614.9" r="0.86" fill="#7e5638"/><circle cx="382.8" cy="556.5" r="0.63" fill="#9c7050"/><circle cx="306.0" cy="625.0" r="0.69" fill="#9c7050"/><circle cx="344.8" cy="587.2" r="1.08" fill="#a88060"/><circle cx="360.2" cy="606.3" r="1.03" fill="#8e6444"/><circle cx="332.8" cy="580.8" r="1.05" fill="#8e6444"/><circle cx="308.9" cy="566.1" r="1.03" fill="#a88060"/><circle cx="389.4" cy="620.2" r="0.98" fill="#8e6444"/><circle cx="292.2" cy="579.7" r="0.78" fill="#9c7050"/><circle cx="392.1" cy="564.8" r="0.73" fill="#a88060"/><circle cx="327.6" cy="585.3" r="0.65" fill="#9c7050"/><circle cx="374.0" cy="565.9" r="0.69" fill="#9c7050"/><circle cx="296.2" cy="571.7" r="0.62" fill="#a88060"/><circle cx="389.7" cy="588.1" r="0.87" fill="#8e6444"/><circle cx="324.1" cy="631.2" r="0.69" fill="#7e5638"/><circle cx="306.5" cy="559.0" r="1.08" fill="#7e5638"/><circle cx="376.5" cy="556.0" r="0.72" fill="#9c7050"/><circle cx="308.5" cy="570.0" r="0.98" fill="#8e6444"/><circle cx="350.0" cy="632.4" r="1.06" fill="#9c7050"/><circle cx="314.8" cy="616.2" r="1.12" fill="#a88060"/><circle cx="339.2" cy="616.2" r="1.14" fill="#8e6444"/><circle cx="391.9" cy="627.8" r="0.93" fill="#7e5638"/><circle cx="334.5" cy="589.2" r="1.10" fill="#a88060"/><circle cx="386.0" cy="575.1" r="1.03" fill="#7e5638"/><circle cx="297.7" cy="567.8" r="0.62" fill="#7e5638"/><circle cx="326.9" cy="566.1" r="1.12" fill="#8e6444"/><circle cx="341.8" cy="574.5" r="0.88" fill="#8e6444"/><circle cx="340.3" cy="568.2" r="0.85" fill="#7e5638"/><circle cx="369.2" cy="632.5" r="1.12" fill="#7e5638"/><circle cx="326.8" cy="602.8" r="0.86" fill="#7e5638"/><circle cx="377.2" cy="561.1" r="0.86" fill="#7e5638"/><circle cx="303.6" cy="622.5" r="1.13" fill="#7e5638"/><circle cx="346.0" cy="585.6" r="1.03" fill="#a88060"/><circle cx="307.8" cy="616.4" r="0.60" fill="#8e6444"/><circle cx="342.7" cy="629.5" r="0.89" fill="#7e5638"/><circle cx="358.9" cy="598.4" r="0.80" fill="#7e5638"/><circle cx="294.7" cy="615.7" r="0.83" fill="#a88060"/><circle cx="375.0" cy="602.5" r="0.89" fill="#a88060"/><circle cx="297.6" cy="556.1" r="0.59" fill="#9c7050"/><circle cx="303.6" cy="624.5" r="0.58" fill="#9c7050"/><circle cx="363.1" cy="637.0" r="0.96" fill="#a88060"/><circle cx="308.6" cy="557.1" r="1.06" fill="#7e5638"/><circle cx="330.1" cy="570.4" r="0.95" fill="#7e5638"/><circle cx="336.9" cy="566.3" r="1.07" fill="#7e5638"/><circle cx="291.9" cy="614.1" r="0.68" fill="#7e5638"/><circle cx="294.0" cy="618.4" r="0.61" fill="#9c7050"/><circle cx="343.4" cy="599.3" r="0.69" fill="#8e6444"/><circle cx="333.2" cy="561.4" r="0.83" fill="#7e5638"/><circle cx="350.1" cy="586.5" r="0.74" fill="#7e5638"/><circle cx="314.3" cy="634.4" r="0.67" fill="#9c7050"/><circle cx="391.2" cy="596.3" r="0.95" fill="#a88060"/><circle cx="327.6" cy="572.7" r="1.15" fill="#9c7050"/><circle cx="319.2" cy="628.0" r="0.83" fill="#8e6444"/><circle cx="333.8" cy="559.8" r="0.73" fill="#8e6444"/><circle cx="333.1" cy="587.9" r="1.01" fill="#8e6444"/><circle cx="325.1" cy="580.6" r="0.93" fill="#9c7050"/><circle cx="328.4" cy="616.5" r="0.96" fill="#8e6444"/><circle cx="361.8" cy="563.0" r="0.94" fill="#8e6444"/><circle cx="344.2" cy="571.6" r="0.71" fill="#9c7050"/><circle cx="303.2" cy="615.0" r="1.04" fill="#7e5638"/><circle cx="358.0" cy="626.7" r="0.67" fill="#9c7050"/><circle cx="344.5" cy="582.3" r="0.60" fill="#7e5638"/><circle cx="371.7" cy="562.9" r="0.63" fill="#a88060"/><circle cx="340.7" cy="613.4" r="0.94" fill="#a88060"/><circle cx="349.1" cy="633.8" r="1.01" fill="#8e6444"/><circle cx="319.4" cy="574.9" r="0.92" fill="#7e5638"/><circle cx="342.9" cy="576.2" r="0.55" fill="#8e6444"/><circle cx="299.4" cy="579.5" r="0.68" fill="#9c7050"/><circle cx="361.5" cy="572.3" r="0.89" fill="#7e5638"/><circle cx="295.3" cy="557.7" r="0.80" fill="#7e5638"/><circle cx="380.5" cy="596.7" r="1.01" fill="#a88060"/><circle cx="344.7" cy="635.4" r="0.92" fill="#a88060"/><circle cx="315.6" cy="624.3" r="0.68" fill="#a88060"/><circle cx="330.6" cy="598.8" r="0.80" fill="#9c7050"/><circle cx="324.9" cy="601.1" r="1.14" fill="#8e6444"/><circle cx="339.4" cy="577.7" r="0.80" fill="#7e5638"/><circle cx="383.9" cy="564.4" r="0.97" fill="#7e5638"/><circle cx="393.0" cy="614.2" r="0.95" fill="#8e6444"/><circle cx="334.0" cy="584.7" r="0.96" fill="#8e6444"/><circle cx="345.1" cy="606.4" r="0.99" fill="#7e5638"/><circle cx="336.8" cy="626.0" r="0.85" fill="#7e5638"/><circle cx="362.2" cy="600.3" r="0.95" fill="#7e5638"/><circle cx="368.0" cy="558.2" r="0.88" fill="#9c7050"/><circle cx="331.7" cy="589.6" r="0.58" fill="#a88060"/><circle cx="393.7" cy="594.5" r="1.07" fill="#8e6444"/><circle cx="301.8" cy="590.2" r="0.85" fill="#7e5638"/><circle cx="313.4" cy="613.8" r="1.14" fill="#9c7050"/><circle cx="339.4" cy="619.0" r="0.88" fill="#7e5638"/><circle cx="353.7" cy="593.0" r="1.07" fill="#a88060"/><circle cx="293.6" cy="584.2" r="0.73" fill="#9c7050"/><circle cx="355.7" cy="590.5" r="0.75" fill="#8e6444"/><circle cx="372.6" cy="566.2" r="0.85" fill="#8e6444"/><circle cx="373.5" cy="632.7" r="0.64" fill="#a88060"/><circle cx="325.9" cy="636.4" r="1.10" fill="#8e6444"/><circle cx="395.0" cy="624.9" r="0.76" fill="#7e5638"/><circle cx="395.7" cy="636.0" r="0.82" fill="#9c7050"/><circle cx="352.7" cy="637.1" r="0.59" fill="#8e6444"/><circle cx="310.3" cy="630.1" r="0.84" fill="#9c7050"/><circle cx="334.2" cy="584.6" r="0.60" fill="#9c7050"/><circle cx="359.1" cy="577.1" r="0.97" fill="#a88060"/><circle cx="365.9" cy="624.9" r="0.87" fill="#7e5638"/><circle cx="340.0" cy="575.6" r="0.65" fill="#8e6444"/><circle cx="389.6" cy="570.2" r="0.83" fill="#9c7050"/><circle cx="346.0" cy="590.5" r="0.60" fill="#7e5638"/><circle cx="370.9" cy="600.4" r="0.72" fill="#8e6444"/><circle cx="328.4" cy="603.6" r="0.91" fill="#8e6444"/><circle cx="309.1" cy="626.0" r="0.80" fill="#9c7050"/><circle cx="323.9" cy="559.8" r="1.10" fill="#8e6444"/><circle cx="305.2" cy="631.0" r="0.81" fill="#8e6444"/><circle cx="353.3" cy="559.3" r="1.14" fill="#9c7050"/><circle cx="349.7" cy="596.1" r="0.91" fill="#9c7050"/><circle cx="312.3" cy="619.9" r="0.56" fill="#9c7050"/><circle cx="373.8" cy="597.6" r="0.92" fill="#9c7050"/><circle cx="314.7" cy="559.6" r="1.05" fill="#7e5638"/><circle cx="360.4" cy="600.8" r="0.98" fill="#8e6444"/><circle cx="318.9" cy="617.8" r="0.67" fill="#7e5638"/><circle cx="317.1" cy="612.1" r="1.04" fill="#8e6444"/><circle cx="341.7" cy="571.5" r="0.62" fill="#7e5638"/><circle cx="296.3" cy="583.1" r="0.60" fill="#a88060"/><circle cx="387.2" cy="595.3" r="0.96" fill="#a88060"/><circle cx="326.0" cy="567.6" r="0.81" fill="#7e5638"/><circle cx="334.0" cy="569.8" r="0.78" fill="#7e5638"/><circle cx="337.4" cy="569.6" r="0.71" fill="#8e6444"/><circle cx="356.3" cy="625.8" r="0.93" fill="#9c7050"/><circle cx="336.1" cy="618.1" r="0.77" fill="#9c7050"/><circle cx="338.5" cy="582.6" r="0.68" fill="#9c7050"/><circle cx="306.9" cy="605.8" r="0.87" fill="#a88060"/><circle cx="320.6" cy="628.1" r="0.95" fill="#8e6444"/><circle cx="388.5" cy="592.3" r="0.79" fill="#9c7050"/><circle cx="296.9" cy="593.3" r="1.10" fill="#7e5638"/><circle cx="362.9" cy="585.2" r="0.80" fill="#9c7050"/><circle cx="358.1" cy="595.8" r="0.96" fill="#8e6444"/><circle cx="387.4" cy="635.5" r="0.99" fill="#9c7050"/><circle cx="344.7" cy="594.6" r="0.66" fill="#8e6444"/><circle cx="303.2" cy="612.8" r="0.84" fill="#a88060"/><circle cx="306.6" cy="561.1" r="1.15" fill="#7e5638"/><circle cx="304.1" cy="599.8" r="0.66" fill="#7e5638"/><circle cx="347.6" cy="575.9" r="0.82" fill="#7e5638"/><circle cx="396.2" cy="573.6" r="1.10" fill="#7e5638"/><circle cx="303.2" cy="635.9" r="1.01" fill="#a88060"/><circle cx="366.7" cy="631.5" r="0.88" fill="#7e5638"/><circle cx="363.8" cy="605.8" r="0.91" fill="#a88060"/><circle cx="348.9" cy="583.2" r="1.06" fill="#8e6444"/><circle cx="302.2" cy="624.0" r="0.62" fill="#9c7050"/><circle cx="371.4" cy="621.8" r="0.66" fill="#a88060"/><circle cx="342.7" cy="628.9" r="0.93" fill="#a88060"/><circle cx="322.7" cy="609.5" r="0.75" fill="#8e6444"/><circle cx="338.1" cy="627.9" r="0.97" fill="#7e5638"/><circle cx="316.9" cy="621.2" r="0.95" fill="#8e6444"/><circle cx="378.0" cy="562.4" r="0.58" fill="#8e6444"/><circle cx="353.1" cy="563.6" r="0.86" fill="#a88060"/><circle cx="377.3" cy="618.0" r="0.72" fill="#9c7050"/><circle cx="307.1" cy="623.5" r="0.78" fill="#9c7050"/><circle cx="394.6" cy="565.6" r="1.00" fill="#a88060"/><circle cx="354.9" cy="607.1" r="1.08" fill="#7e5638"/><circle cx="386.4" cy="606.4" r="0.81" fill="#8e6444"/><circle cx="349.4" cy="600.3" r="0.74" fill="#7e5638"/><circle cx="355.2" cy="600.2" r="0.98" fill="#9c7050"/><circle cx="345.9" cy="568.9" r="0.95" fill="#8e6444"/><circle cx="358.6" cy="586.5" r="0.82" fill="#7e5638"/><circle cx="357.1" cy="584.8" r="0.95" fill="#a88060"/><circle cx="355.5" cy="584.3" r="0.77" fill="#7e5638"/><circle cx="329.5" cy="610.9" r="0.75" fill="#a88060"/><circle cx="380.7" cy="560.5" r="0.56" fill="#8e6444"/><circle cx="368.7" cy="621.4" r="0.82" fill="#7e5638"/><circle cx="357.7" cy="560.6" r="0.61" fill="#a88060"/><circle cx="333.1" cy="593.1" r="0.71" fill="#9c7050"/><circle cx="388.6" cy="582.1" r="0.87" fill="#8e6444"/><circle cx="373.1" cy="615.1" r="1.08" fill="#a88060"/><circle cx="352.4" cy="618.5" r="0.96" fill="#7e5638"/><circle cx="322.8" cy="557.9" r="0.98" fill="#a88060"/><circle cx="303.7" cy="626.9" r="0.80" fill="#9c7050"/><circle cx="351.4" cy="601.8" r="0.64" fill="#a88060"/><circle cx="296.4" cy="586.6" r="0.76" fill="#9c7050"/><circle cx="302.0" cy="625.3" r="0.71" fill="#9c7050"/><circle cx="379.8" cy="609.4" r="0.76" fill="#7e5638"/><circle cx="378.3" cy="619.4" r="0.98" fill="#a88060"/><circle cx="369.7" cy="567.8" r="0.86" fill="#a88060"/><circle cx="293.2" cy="567.4" r="0.97" fill="#8e6444"/><circle cx="331.2" cy="578.7" r="1.00" fill="#8e6444"/><circle cx="362.0" cy="590.4" r="1.11" fill="#8e6444"/><circle cx="391.5" cy="607.4" r="0.88" fill="#9c7050"/><circle cx="322.4" cy="567.1" r="0.66" fill="#7e5638"/><circle cx="348.4" cy="628.8" r="1.03" fill="#9c7050"/><circle cx="381.4" cy="621.2" r="0.82" fill="#a88060"/><circle cx="396.5" cy="587.8" r="0.69" fill="#a88060"/><circle cx="385.6" cy="557.3" r="0.83" fill="#9c7050"/><circle cx="350.7" cy="583.1" r="0.82" fill="#8e6444"/><circle cx="386.3" cy="586.3" r="1.01" fill="#7e5638"/><circle cx="318.3" cy="625.6" r="0.70" fill="#8e6444"/><circle cx="345.6" cy="626.0" r="0.80" fill="#8e6444"/><circle cx="354.6" cy="585.8" r="0.66" fill="#a88060"/><circle cx="378.6" cy="608.2" r="0.97" fill="#8e6444"/><circle cx="367.2" cy="565.9" r="0.91" fill="#7e5638"/><circle cx="340.7" cy="585.4" r="0.80" fill="#8e6444"/><circle cx="350.5" cy="579.5" r="1.10" fill="#a88060"/><circle cx="306.6" cy="624.5" r="0.63" fill="#9c7050"/><circle cx="380.6" cy="561.7" r="0.91" fill="#9c7050"/><circle cx="321.0" cy="567.0" r="0.78" fill="#a88060"/><circle cx="340.2" cy="562.9" r="0.86" fill="#a88060"/><circle cx="313.5" cy="615.1" r="0.69" fill="#a88060"/><circle cx="394.9" cy="587.7" r="0.58" fill="#a88060"/><circle cx="301.1" cy="589.4" r="0.93" fill="#9c7050"/><circle cx="304.5" cy="595.9" r="0.57" fill="#a88060"/><circle cx="394.1" cy="581.3" r="0.87" fill="#8e6444"/><circle cx="299.3" cy="562.1" r="0.68" fill="#a88060"/><circle cx="320.3" cy="605.4" r="1.00" fill="#7e5638"/><circle cx="390.3" cy="589.0" r="0.59" fill="#7e5638"/><circle cx="366.2" cy="609.9" r="0.67" fill="#9c7050"/><circle cx="346.4" cy="616.0" r="1.03" fill="#7e5638"/><circle cx="347.3" cy="596.7" r="1.08" fill="#9c7050"/><circle cx="386.9" cy="569.5" r="1.02" fill="#a88060"/><circle cx="331.5" cy="626.6" r="0.94" fill="#7e5638"/><circle cx="311.5" cy="601.8" r="0.63" fill="#7e5638"/><circle cx="391.1" cy="614.9" r="0.59" fill="#a88060"/><circle cx="367.4" cy="625.8" r="1.03" fill="#7e5638"/><circle cx="314.1" cy="574.2" r="0.71" fill="#8e6444"/><circle cx="300.1" cy="631.8" r="0.62" fill="#9c7050"/><circle cx="394.8" cy="588.1" r="0.84" fill="#8e6444"/><circle cx="376.3" cy="572.9" r="0.84" fill="#a88060"/><circle cx="311.0" cy="595.1" r="0.57" fill="#9c7050"/><circle cx="293.1" cy="621.3" r="1.03" fill="#a88060"/><circle cx="341.9" cy="600.2" r="1.07" fill="#8e6444"/><circle cx="346.6" cy="635.7" r="1.05" fill="#7e5638"/><circle cx="310.6" cy="627.8" r="0.73" fill="#8e6444"/><circle cx="328.9" cy="566.6" r="0.85" fill="#7e5638"/><circle cx="321.7" cy="577.7" r="0.87" fill="#9c7050"/><circle cx="299.6" cy="583.2" r="0.78" fill="#8e6444"/><circle cx="333.4" cy="564.8" r="0.91" fill="#9c7050"/><circle cx="292.0" cy="586.7" r="0.74" fill="#a88060"/><circle cx="367.7" cy="560.6" r="0.90" fill="#a88060"/><circle cx="304.9" cy="616.7" r="0.90" fill="#a88060"/><circle cx="336.5" cy="581.5" r="1.07" fill="#9c7050"/><circle cx="359.3" cy="606.4" r="1.04" fill="#7e5638"/><circle cx="362.1" cy="584.4" r="0.81" fill="#a88060"/><circle cx="308.4" cy="563.0" r="0.77" fill="#7e5638"/><circle cx="371.0" cy="611.4" r="0.84" fill="#7e5638"/><circle cx="365.9" cy="566.6" r="0.57" fill="#a88060"/><circle cx="338.8" cy="558.8" r="1.06" fill="#7e5638"/><circle cx="339.4" cy="591.6" r="0.61" fill="#7e5638"/><circle cx="298.9" cy="616.1" r="0.56" fill="#8e6444"/><circle cx="360.3" cy="635.1" r="1.03" fill="#8e6444"/><circle cx="307.4" cy="558.6" r="1.11" fill="#a88060"/><circle cx="377.2" cy="610.5" r="0.68" fill="#8e6444"/><circle cx="307.5" cy="555.9" r="0.80" fill="#a88060"/><circle cx="388.4" cy="571.5" r="0.96" fill="#7e5638"/><circle cx="348.8" cy="630.8" r="0.66" fill="#7e5638"/><circle cx="391.6" cy="570.7" r="1.07" fill="#8e6444"/><circle cx="366.9" cy="598.2" r="0.96" fill="#7e5638"/><circle cx="392.9" cy="588.9" r="0.85" fill="#a88060"/><circle cx="367.4" cy="587.5" r="1.04" fill="#7e5638"/><circle cx="354.7" cy="632.9" r="1.13" fill="#8e6444"/><circle cx="319.0" cy="561.3" r="1.14" fill="#7e5638"/><circle cx="385.6" cy="598.6" r="0.71" fill="#7e5638"/><circle cx="357.6" cy="580.2" r="1.07" fill="#9c7050"/><circle cx="306.2" cy="599.0" r="0.88" fill="#a88060"/><circle cx="339.7" cy="598.6" r="1.08" fill="#7e5638"/><circle cx="385.8" cy="578.2" r="0.78" fill="#7e5638"/><circle cx="342.1" cy="632.1" r="0.89" fill="#9c7050"/><circle cx="344.3" cy="577.1" r="0.83" fill="#9c7050"/><circle cx="304.2" cy="556.1" r="0.98" fill="#8e6444"/><circle cx="366.4" cy="563.8" r="0.62" fill="#9c7050"/><circle cx="342.2" cy="599.9" r="0.78" fill="#7e5638"/><circle cx="380.4" cy="597.2" r="0.59" fill="#9c7050"/><circle cx="304.2" cy="626.3" r="0.72" fill="#a88060"/><circle cx="326.2" cy="587.2" r="1.15" fill="#8e6444"/><circle cx="337.7" cy="563.9" r="0.76" fill="#7e5638"/><circle cx="348.0" cy="576.7" r="0.58" fill="#8e6444"/><circle cx="317.6" cy="628.5" r="0.61" fill="#7e5638"/><circle cx="332.4" cy="568.3" r="0.84" fill="#a88060"/><circle cx="351.7" cy="587.6" r="1.10" fill="#9c7050"/><circle cx="391.8" cy="587.6" r="0.98" fill="#7e5638"/><circle cx="346.2" cy="601.9" r="0.74" fill="#9c7050"/><circle cx="307.5" cy="605.4" r="1.02" fill="#7e5638"/><circle cx="306.7" cy="627.9" r="0.95" fill="#9c7050"/><circle cx="331.6" cy="564.6" r="0.85" fill="#9c7050"/><circle cx="368.8" cy="626.7" r="1.07" fill="#9c7050"/><circle cx="366.8" cy="631.1" r="0.87" fill="#7e5638"/><circle cx="384.4" cy="558.5" r="0.63" fill="#7e5638"/><circle cx="294.4" cy="630.8" r="0.67" fill="#9c7050"/><circle cx="349.4" cy="631.4" r="0.87" fill="#a88060"/><circle cx="306.7" cy="576.3" r="0.89" fill="#7e5638"/><circle cx="297.8" cy="626.0" r="0.79" fill="#9c7050"/><circle cx="389.2" cy="562.5" r="0.80" fill="#8e6444"/><circle cx="291.5" cy="599.9" r="1.00" fill="#8e6444"/><circle cx="306.1" cy="567.5" r="0.66" fill="#7e5638"/><circle cx="346.7" cy="626.3" r="0.79" fill="#9c7050"/><circle cx="369.4" cy="624.6" r="0.98" fill="#7e5638"/><circle cx="362.0" cy="596.2" r="0.63" fill="#7e5638"/><circle cx="327.7" cy="585.3" r="1.06" fill="#a88060"/><circle cx="377.3" cy="614.8" r="0.87" fill="#8e6444"/><circle cx="320.7" cy="565.9" r="0.67" fill="#8e6444"/><circle cx="316.2" cy="615.1" r="0.93" fill="#8e6444"/><circle cx="308.9" cy="624.5" r="0.55" fill="#8e6444"/><circle cx="374.5" cy="582.6" r="0.70" fill="#9c7050"/><circle cx="391.2" cy="593.2" r="0.84" fill="#a88060"/><circle cx="348.8" cy="557.3" r="1.04" fill="#9c7050"/><circle cx="372.0" cy="597.7" r="1.13" fill="#a88060"/><circle cx="359.8" cy="600.3" r="1.08" fill="#9c7050"/><circle cx="380.0" cy="600.3" r="1.08" fill="#7e5638"/><circle cx="327.0" cy="588.9" r="1.13" fill="#a88060"/><circle cx="307.8" cy="624.6" r="0.73" fill="#8e6444"/><circle cx="343.8" cy="571.5" r="0.77" fill="#8e6444"/><circle cx="307.5" cy="596.6" r="0.89" fill="#7e5638"/><circle cx="316.7" cy="629.1" r="0.82" fill="#9c7050"/><circle cx="357.5" cy="602.8" r="1.03" fill="#8e6444"/><circle cx="356.4" cy="604.0" r="1.10" fill="#9c7050"/><circle cx="375.6" cy="614.1" r="0.70" fill="#9c7050"/><circle cx="350.5" cy="628.2" r="0.75" fill="#9c7050"/><circle cx="297.6" cy="578.3" r="0.88" fill="#9c7050"/><circle cx="317.7" cy="556.5" r="0.71" fill="#8e6444"/><circle cx="393.1" cy="635.4" r="0.66" fill="#9c7050"/><circle cx="377.2" cy="617.6" r="0.82" fill="#9c7050"/></g></g>
<clipPath id="cp22"><rect x="291.3" y="555.5" width="105.4" height="81.7"/></clipPath>
<rect x="358" y="556.3" width="38.7" height="37.3" fill="#e2deee"/>
<rect x="358" y="556.3" width="38.7" height="37.3" filter="url(#fi22e)"/>
<clipPath id="cp22i"><rect x="358" y="556.3" width="38.7" height="37.3"/></clipPath><g clip-path="url(#cp22i)"><g filter="url(#bl05)" opacity="0.85"><ellipse cx="379.3" cy="565.2" rx="2.19" ry="1.74" fill="#8e6444"/><ellipse cx="366.9" cy="573.8" rx="1.85" ry="1.28" fill="#9c7050"/><ellipse cx="394.2" cy="564.1" rx="1.77" ry="1.58" fill="#a88060"/><ellipse cx="387.6" cy="560.9" rx="2.04" ry="1.69" fill="#7e5638"/><ellipse cx="369.4" cy="560.3" rx="2.02" ry="1.31" fill="#a88060"/><ellipse cx="381.9" cy="563.0" rx="1.58" ry="1.42" fill="#a88060"/><ellipse cx="393.0" cy="567.7" rx="1.61" ry="1.63" fill="#9c7050"/><ellipse cx="373.6" cy="559.9" rx="1.54" ry="1.23" fill="#7e5638"/><ellipse cx="395.1" cy="565.2" rx="1.85" ry="1.58" fill="#9c7050"/><ellipse cx="369.8" cy="575.6" rx="2.14" ry="1.84" fill="#8e6444"/><ellipse cx="366.3" cy="559.0" rx="1.69" ry="1.42" fill="#7e5638"/><ellipse cx="374.5" cy="585.7" rx="1.60" ry="1.88" fill="#a88060"/><ellipse cx="359.5" cy="579.3" rx="1.76" ry="1.71" fill="#a88060"/><ellipse cx="366.9" cy="572.0" rx="1.56" ry="1.67" fill="#a88060"/><ellipse cx="378.4" cy="565.8" rx="1.61" ry="1.58" fill="#7e5638"/><ellipse cx="380.0" cy="577.5" rx="1.81" ry="1.40" fill="#7e5638"/><ellipse cx="381.8" cy="565.2" rx="2.09" ry="1.23" fill="#a88060"/><ellipse cx="368.4" cy="583.2" rx="2.12" ry="1.62" fill="#a88060"/><ellipse cx="376.8" cy="558.7" rx="2.06" ry="1.27" fill="#a88060"/><ellipse cx="382.8" cy="588.2" rx="1.64" ry="1.59" fill="#7e5638"/><ellipse cx="394.9" cy="574.2" rx="1.48" ry="1.88" fill="#a88060"/><ellipse cx="386.5" cy="581.6" rx="1.59" ry="1.79" fill="#7e5638"/><ellipse cx="375.9" cy="562.4" rx="1.68" ry="1.60" fill="#9c7050"/><ellipse cx="363.1" cy="571.5" rx="1.60" ry="1.48" fill="#7e5638"/><ellipse cx="389.8" cy="559.0" rx="1.64" ry="1.74" fill="#8e6444"/><ellipse cx="367.5" cy="580.8" rx="1.62" ry="1.52" fill="#a88060"/><ellipse cx="362.4" cy="579.6" rx="1.70" ry="1.64" fill="#a88060"/><ellipse cx="389.9" cy="579.9" rx="1.66" ry="1.87" fill="#9c7050"/><ellipse cx="394.5" cy="590.6" rx="1.78" ry="1.32" fill="#9c7050"/><ellipse cx="382.5" cy="570.6" rx="2.04" ry="1.85" fill="#a88060"/><ellipse cx="369.5" cy="563.4" rx="2.13" ry="1.87" fill="#a88060"/><ellipse cx="365.3" cy="583.3" rx="1.64" ry="1.62" fill="#7e5638"/><ellipse cx="390.3" cy="560.0" rx="1.97" ry="1.31" fill="#a88060"/><ellipse cx="385.5" cy="585.5" rx="1.42" ry="1.69" fill="#a88060"/><ellipse cx="373.0" cy="568.1" rx="1.78" ry="1.69" fill="#9c7050"/><ellipse cx="377.6" cy="586.9" rx="1.47" ry="1.84" fill="#a88060"/><ellipse cx="386.8" cy="577.2" rx="2.06" ry="1.32" fill="#8e6444"/><ellipse cx="379.0" cy="569.7" rx="2.10" ry="1.87" fill="#7e5638"/><ellipse cx="361.3" cy="586.0" rx="2.06" ry="1.84" fill="#7e5638"/><ellipse cx="368.8" cy="581.1" rx="1.77" ry="1.32" fill="#8e6444"/></g></g>
<rect x="335.4" y="605.6" width="17.2" height="16.9" fill="none" stroke="#e5322d" stroke-width="1.2"/>
<rect x="358" y="556.3" width="38.7" height="37.3" fill="none" stroke="#e5322d" stroke-width="1.3"/>
<line x1="352.6" y1="605.6" x2="358.0" y2="593.6" stroke="#e5322d" stroke-width="1.1"/>
<line x1="371.0" y1="631.5" x2="390.2" y2="631.5" stroke="#111" stroke-width="1.6"/>
<rect x="291.3" y="555.5" width="105.4" height="81.7" fill="none" stroke="#111" stroke-width="1.3"/>
<line x1="445.5" y1="544.7" x2="445.5" y2="639.0" stroke="#1a1a1a" stroke-width="1.2"/>
<line x1="444.8" y1="638.5" x2="527.8" y2="638.5" stroke="#1a1a1a" stroke-width="1.2"/>
<line x1="441.4" y1="638.5" x2="445.4" y2="638.5" stroke="#1a1a1a" stroke-width="1.2"/>
<text x="439.9" y="641.9" font-size="9.8" text-anchor="end">0</text>
<line x1="441.4" y1="619.5" x2="445.4" y2="619.5" stroke="#1a1a1a" stroke-width="1.2"/>
<text x="439.9" y="623.3" font-size="9.8" text-anchor="end">20</text>
<line x1="441.4" y1="601.5" x2="445.4" y2="601.5" stroke="#1a1a1a" stroke-width="1.2"/>
<text x="439.9" y="604.6" font-size="9.8" text-anchor="end">40</text>
<line x1="441.4" y1="582.5" x2="445.4" y2="582.5" stroke="#1a1a1a" stroke-width="1.2"/>
<text x="439.9" y="586.0" font-size="9.8" text-anchor="end">60</text>
<line x1="441.4" y1="563.5" x2="445.4" y2="563.5" stroke="#1a1a1a" stroke-width="1.2"/>
<text x="439.9" y="567.3" font-size="9.8" text-anchor="end">80</text>
<line x1="441.4" y1="545.5" x2="445.4" y2="545.5" stroke="#1a1a1a" stroke-width="1.2"/>
<text x="439.9" y="548.7" font-size="9.8" text-anchor="end">100</text>
<rect x="457.4" y="608.2" width="22.8" height="8.1" fill="#fff" stroke="#111" stroke-width="1.3"/>
<line x1="457.4" y1="611.5" x2="480.2" y2="611.5" stroke="#1a1a1a" stroke-width="1.3"/>
<line x1="468.5" y1="638.4" x2="468.5" y2="641.4" stroke="#1a1a1a" stroke-width="1.2"/>
<circle cx="461.7" cy="608.8" r="1.75" fill="#111"/>
<circle cx="468.7" cy="612.5" r="1.75" fill="#111"/>
<circle cx="475.8" cy="607.5" r="1.75" fill="#111"/>
<circle cx="475.8" cy="611.7" r="1.75" fill="#111"/>
<circle cx="468.7" cy="617.0" r="1.75" fill="#111"/>
<rect x="492.6" y="573.9" width="22.8" height="18.8" fill="#e97e33" stroke="#111" stroke-width="1.3"/>
<line x1="492.6" y1="580.5" x2="515.4" y2="580.5" stroke="#1a1a1a" stroke-width="1.3"/>
<line x1="504.5" y1="638.4" x2="504.5" y2="641.4" stroke="#1a1a1a" stroke-width="1.2"/>
<circle cx="503.8" cy="573.3" r="1.75" fill="#111"/>
<circle cx="500.4" cy="580.4" r="1.75" fill="#111"/>
<circle cx="507.5" cy="578.0" r="1.75" fill="#111"/>
<circle cx="507.5" cy="583.6" r="1.75" fill="#111"/>
<circle cx="503.8" cy="593.3" r="1.75" fill="#111"/>
<line x1="468.7" y1="562.5" x2="503.6" y2="562.5" stroke="#1a1a1a" stroke-width="1.3"/>
<text x="486.1" y="561.7" font-size="9.4" text-anchor="middle">***</text>
<text x="419.5" y="592" font-size="9.8" text-anchor="middle" transform="rotate(-90 419.5 592)">Ki-67<tspan dy="-3.5" font-size="6.5">+</tspan><tspan dy="3.5"> cells (%)</tspan></text>
<text x="470.4" y="651.6" font-size="10" text-anchor="end" transform="rotate(-30 470.4 651.6)">Ctrl</text>
<text x="505.6" y="651.6" font-size="10" text-anchor="end" transform="rotate(-30 505.6 651.6)">NR4A1-KO1</text>
</svg></body></html>
